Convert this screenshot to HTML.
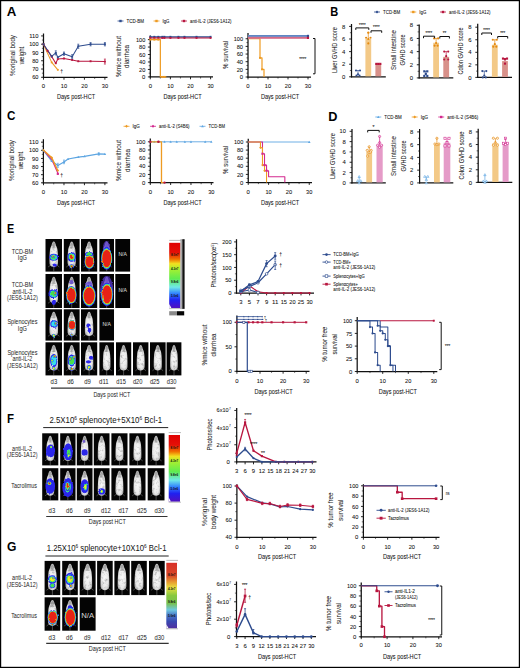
<!DOCTYPE html>
<html><head><meta charset="utf-8"><style>
html,body{margin:0;padding:0;background:#fff;}
svg{display:block;font-family:"Liberation Sans", sans-serif;}
</style></head><body>
<svg width="520" height="668" viewBox="0 0 520 668">
<defs>
<radialGradient id="mg" cx="0.5" cy="0.55" r="0.62">
 <stop offset="0" stop-color="#f8f8f8"/><stop offset="0.6" stop-color="#e8e8e8"/><stop offset="1" stop-color="#a0a0a0"/>
</radialGradient>
<filter id="bl" x="-30%" y="-30%" width="160%" height="160%"><feTurbulence type="fractalNoise" baseFrequency="0.35" numOctaves="1" seed="4" result="t"/><feDisplacementMap in="SourceGraphic" in2="t" scale="2.6" xChannelSelector="R" yChannelSelector="G" result="d"/><feGaussianBlur in="d" stdDeviation="0.35"/></filter>
<filter id="fur" x="0" y="0" width="100%" height="100%"><feTurbulence type="fractalNoise" baseFrequency="0.38" numOctaves="2" seed="9" result="t"/><feColorMatrix in="t" type="matrix" values="0 0 0 0 0.3  0 0 0 0 0.3  0 0 0 0 0.3  1.8 0 0 0 -0.9" result="c"/><feComposite in="c" in2="SourceAlpha" operator="in"/></filter>
<linearGradient id="cgE" x1="0" y1="0" x2="0" y2="1">
 <stop offset="0" stop-color="#e00000"/><stop offset="0.15" stop-color="#e41008"/>
 <stop offset="0.25" stop-color="#f07000"/><stop offset="0.32" stop-color="#f2e020"/>
 <stop offset="0.4" stop-color="#a8f030"/><stop offset="0.55" stop-color="#60ec50"/>
 <stop offset="0.68" stop-color="#70e8e8"/><stop offset="0.78" stop-color="#3080ff"/>
 <stop offset="0.88" stop-color="#2020f0"/><stop offset="1" stop-color="#5010c0"/>
</linearGradient>
<linearGradient id="cgG" x1="0" y1="0" x2="0" y2="1">
 <stop offset="0" stop-color="#d83028"/><stop offset="0.2" stop-color="#d84a28"/>
 <stop offset="0.3" stop-color="#e8a030"/><stop offset="0.38" stop-color="#e8e040"/>
 <stop offset="0.5" stop-color="#88c840"/><stop offset="0.62" stop-color="#78c050"/>
 <stop offset="0.72" stop-color="#70c8e0"/><stop offset="0.8" stop-color="#4878c8"/>
 <stop offset="0.9" stop-color="#3848b0"/><stop offset="1" stop-color="#5030a0"/>
</linearGradient>
</defs>
<rect x="0" y="0" width="520" height="668" fill="#fff"/>
<text x="6.70" y="15.75" font-size="12.4" text-anchor="start" fill="#000" font-weight="bold" textLength="9.6" lengthAdjust="spacingAndGlyphs">A</text>
<line x1="117.50" y1="21.00" x2="123.50" y2="21.00" stroke="#2E4C8E" stroke-width="0.8"/>
<rect x="119.30" y="19.80" width="2.40" height="2.40" fill="#2E4C8E"/>
<text x="126.50" y="22.63" font-size="4.6" text-anchor="start" fill="#111" stroke="#111" stroke-width="0.06" textLength="17.5" lengthAdjust="spacingAndGlyphs">TCD-BM</text>
<line x1="153.50" y1="21.00" x2="159.50" y2="21.00" stroke="#EE9B22" stroke-width="0.8"/>
<rect x="155.30" y="19.80" width="2.40" height="2.40" fill="#EE9B22"/>
<text x="162.50" y="22.63" font-size="4.6" text-anchor="start" fill="#111" stroke="#111" stroke-width="0.06" textLength="7" lengthAdjust="spacingAndGlyphs">IgG</text>
<line x1="181.00" y1="21.00" x2="187.00" y2="21.00" stroke="#B8163F" stroke-width="0.8"/>
<rect x="182.80" y="19.80" width="2.40" height="2.40" fill="#B8163F"/>
<text x="190.00" y="22.63" font-size="4.6" text-anchor="start" fill="#111" stroke="#111" stroke-width="0.06" textLength="41.5" lengthAdjust="spacingAndGlyphs">anti-IL-2 (JES6-1A12)</text>
<line x1="43.50" y1="33.50" x2="43.50" y2="77.92" stroke="#111" stroke-width="1.25"/>
<line x1="42.88" y1="77.30" x2="107.50" y2="77.30" stroke="#111" stroke-width="1.25"/>
<line x1="41.10" y1="77.30" x2="43.50" y2="77.30" stroke="#111" stroke-width="0.9"/>
<text x="38.50" y="79.47" font-size="6.1" text-anchor="end" fill="#111" stroke="#111" stroke-width="0.06" textLength="6.3" lengthAdjust="spacingAndGlyphs">60</text>
<line x1="41.10" y1="69.03" x2="43.50" y2="69.03" stroke="#111" stroke-width="0.9"/>
<text x="38.50" y="71.19" font-size="6.1" text-anchor="end" fill="#111" stroke="#111" stroke-width="0.06" textLength="6.3" lengthAdjust="spacingAndGlyphs">70</text>
<line x1="41.10" y1="60.75" x2="43.50" y2="60.75" stroke="#111" stroke-width="0.9"/>
<text x="38.50" y="62.92" font-size="6.1" text-anchor="end" fill="#111" stroke="#111" stroke-width="0.06" textLength="6.3" lengthAdjust="spacingAndGlyphs">80</text>
<line x1="41.10" y1="52.48" x2="43.50" y2="52.48" stroke="#111" stroke-width="0.9"/>
<text x="38.50" y="54.64" font-size="6.1" text-anchor="end" fill="#111" stroke="#111" stroke-width="0.06" textLength="6.3" lengthAdjust="spacingAndGlyphs">90</text>
<line x1="41.10" y1="44.20" x2="43.50" y2="44.20" stroke="#111" stroke-width="0.9"/>
<text x="38.50" y="46.37" font-size="6.1" text-anchor="end" fill="#111" stroke="#111" stroke-width="0.06" textLength="9.3" lengthAdjust="spacingAndGlyphs">100</text>
<line x1="41.10" y1="35.93" x2="43.50" y2="35.93" stroke="#111" stroke-width="0.9"/>
<text x="38.50" y="38.09" font-size="6.1" text-anchor="end" fill="#111" stroke="#111" stroke-width="0.06" textLength="9.3" lengthAdjust="spacingAndGlyphs">110</text>
<line x1="41.90" y1="73.16" x2="43.50" y2="73.16" stroke="#111" stroke-width="0.6"/>
<line x1="41.90" y1="64.89" x2="43.50" y2="64.89" stroke="#111" stroke-width="0.6"/>
<line x1="41.90" y1="56.61" x2="43.50" y2="56.61" stroke="#111" stroke-width="0.6"/>
<line x1="41.90" y1="48.34" x2="43.50" y2="48.34" stroke="#111" stroke-width="0.6"/>
<line x1="41.90" y1="40.06" x2="43.50" y2="40.06" stroke="#111" stroke-width="0.6"/>
<line x1="43.50" y1="77.30" x2="43.50" y2="79.70" stroke="#111" stroke-width="0.9"/>
<text x="43.50" y="88.17" font-size="6.1" text-anchor="middle" fill="#111" stroke="#111" stroke-width="0.06" textLength="3.3" lengthAdjust="spacingAndGlyphs">0</text>
<line x1="63.97" y1="77.30" x2="63.97" y2="79.70" stroke="#111" stroke-width="0.9"/>
<text x="63.97" y="88.17" font-size="6.1" text-anchor="middle" fill="#111" stroke="#111" stroke-width="0.06" textLength="6.3" lengthAdjust="spacingAndGlyphs">10</text>
<line x1="84.43" y1="77.30" x2="84.43" y2="79.70" stroke="#111" stroke-width="0.9"/>
<text x="84.43" y="88.17" font-size="6.1" text-anchor="middle" fill="#111" stroke="#111" stroke-width="0.06" textLength="6.3" lengthAdjust="spacingAndGlyphs">20</text>
<line x1="104.90" y1="77.30" x2="104.90" y2="79.70" stroke="#111" stroke-width="0.9"/>
<text x="104.90" y="88.17" font-size="6.1" text-anchor="middle" fill="#111" stroke="#111" stroke-width="0.06" textLength="6.3" lengthAdjust="spacingAndGlyphs">30</text>
<line x1="53.73" y1="77.30" x2="53.73" y2="78.90" stroke="#111" stroke-width="0.6"/>
<line x1="74.20" y1="77.30" x2="74.20" y2="78.90" stroke="#111" stroke-width="0.6"/>
<line x1="94.67" y1="77.30" x2="94.67" y2="78.90" stroke="#111" stroke-width="0.6"/>
<text x="-55.50" y="14.59" font-size="7.3" text-anchor="middle" fill="#1a1a1a" stroke="#1a1a1a" stroke-width="0.04" transform="rotate(-90)" textLength="41" lengthAdjust="spacingAndGlyphs">%original body</text>
<text x="-55.50" y="23.59" font-size="7.3" text-anchor="middle" fill="#1a1a1a" stroke="#1a1a1a" stroke-width="0.04" transform="rotate(-90)" textLength="17.5" lengthAdjust="spacingAndGlyphs">weight</text>
<text x="76.00" y="99.07" font-size="7.8" text-anchor="middle" fill="#111" stroke="#111" stroke-width="0.06" textLength="38.2" lengthAdjust="spacingAndGlyphs">Days post-HCT</text>
<polyline points="43.50,44.20 51.69,62.41 57.83,69.85" fill="none" stroke="#EE9B22" stroke-width="1.02" stroke-linejoin="round"/>
<polyline points="43.50,44.20 47.59,50.82 51.69,56.61 55.78,63.23 57.83,59.09 63.97,58.43 72.15,59.92 78.29,61.25 90.57,61.25 104.90,61.58" fill="none" stroke="#B8163F" stroke-width="1.02" stroke-linejoin="round"/>
<polyline points="43.50,44.20 51.69,56.28 55.78,52.89 57.83,57.19 63.97,53.72 72.15,56.70 78.29,46.27 90.57,44.20 104.90,44.20" fill="none" stroke="#2E4C8E" stroke-width="1.02" stroke-linejoin="round"/>
<rect x="42.60" y="43.30" width="1.80" height="1.80" fill="#EE9B22"/>
<rect x="50.79" y="61.51" width="1.80" height="1.80" fill="#EE9B22"/>
<rect x="56.93" y="68.95" width="1.80" height="1.80" fill="#EE9B22"/>
<rect x="42.54" y="43.24" width="1.92" height="1.92" fill="#B8163F"/>
<rect x="46.63" y="49.86" width="1.92" height="1.92" fill="#B8163F"/>
<rect x="50.73" y="55.65" width="1.92" height="1.92" fill="#B8163F"/>
<rect x="54.82" y="62.27" width="1.92" height="1.92" fill="#B8163F"/>
<rect x="56.87" y="58.13" width="1.92" height="1.92" fill="#B8163F"/>
<rect x="63.01" y="57.47" width="1.92" height="1.92" fill="#B8163F"/>
<rect x="71.19" y="58.96" width="1.92" height="1.92" fill="#B8163F"/>
<rect x="77.33" y="60.29" width="1.92" height="1.92" fill="#B8163F"/>
<rect x="89.61" y="60.29" width="1.92" height="1.92" fill="#B8163F"/>
<rect x="103.94" y="60.62" width="1.92" height="1.92" fill="#B8163F"/>
<rect x="42.54" y="43.24" width="1.92" height="1.92" fill="#2E4C8E"/>
<rect x="50.73" y="55.32" width="1.92" height="1.92" fill="#2E4C8E"/>
<rect x="54.82" y="51.93" width="1.92" height="1.92" fill="#2E4C8E"/>
<rect x="56.87" y="56.23" width="1.92" height="1.92" fill="#2E4C8E"/>
<rect x="63.01" y="52.76" width="1.92" height="1.92" fill="#2E4C8E"/>
<rect x="71.19" y="55.74" width="1.92" height="1.92" fill="#2E4C8E"/>
<rect x="77.33" y="45.31" width="1.92" height="1.92" fill="#2E4C8E"/>
<rect x="89.61" y="43.24" width="1.92" height="1.92" fill="#2E4C8E"/>
<rect x="103.94" y="43.24" width="1.92" height="1.92" fill="#2E4C8E"/>
<line x1="55.78" y1="50.82" x2="55.78" y2="54.96" stroke="#2E4C8E" stroke-width="0.7"/>
<line x1="54.78" y1="50.82" x2="56.78" y2="50.82" stroke="#2E4C8E" stroke-width="0.7"/>
<line x1="54.78" y1="54.96" x2="56.78" y2="54.96" stroke="#2E4C8E" stroke-width="0.7"/>
<line x1="63.97" y1="52.06" x2="63.97" y2="55.37" stroke="#2E4C8E" stroke-width="0.7"/>
<line x1="62.97" y1="52.06" x2="64.97" y2="52.06" stroke="#2E4C8E" stroke-width="0.7"/>
<line x1="62.97" y1="55.37" x2="64.97" y2="55.37" stroke="#2E4C8E" stroke-width="0.7"/>
<line x1="72.15" y1="54.63" x2="72.15" y2="58.76" stroke="#2E4C8E" stroke-width="0.7"/>
<line x1="71.15" y1="54.63" x2="73.15" y2="54.63" stroke="#2E4C8E" stroke-width="0.7"/>
<line x1="71.15" y1="58.76" x2="73.15" y2="58.76" stroke="#2E4C8E" stroke-width="0.7"/>
<line x1="78.29" y1="44.20" x2="78.29" y2="48.34" stroke="#2E4C8E" stroke-width="0.7"/>
<line x1="77.29" y1="44.20" x2="79.29" y2="44.20" stroke="#2E4C8E" stroke-width="0.7"/>
<line x1="77.29" y1="48.34" x2="79.29" y2="48.34" stroke="#2E4C8E" stroke-width="0.7"/>
<line x1="90.57" y1="42.55" x2="90.57" y2="45.86" stroke="#2E4C8E" stroke-width="0.7"/>
<line x1="89.57" y1="42.55" x2="91.57" y2="42.55" stroke="#2E4C8E" stroke-width="0.7"/>
<line x1="89.57" y1="45.86" x2="91.57" y2="45.86" stroke="#2E4C8E" stroke-width="0.7"/>
<line x1="104.90" y1="42.55" x2="104.90" y2="45.86" stroke="#2E4C8E" stroke-width="0.7"/>
<line x1="103.90" y1="42.55" x2="105.90" y2="42.55" stroke="#2E4C8E" stroke-width="0.7"/>
<line x1="103.90" y1="45.86" x2="105.90" y2="45.86" stroke="#2E4C8E" stroke-width="0.7"/>
<line x1="104.90" y1="59.09" x2="104.90" y2="64.06" stroke="#B8163F" stroke-width="0.7"/>
<line x1="103.90" y1="59.09" x2="105.90" y2="59.09" stroke="#B8163F" stroke-width="0.7"/>
<line x1="103.90" y1="64.06" x2="105.90" y2="64.06" stroke="#B8163F" stroke-width="0.7"/>
<text x="61.60" y="73.28" font-size="5" text-anchor="middle" fill="#111" stroke="#111" stroke-width="0.06">†</text>
<line x1="150.30" y1="35.50" x2="150.30" y2="77.53" stroke="#111" stroke-width="1.25"/>
<line x1="149.68" y1="76.90" x2="213.00" y2="76.90" stroke="#111" stroke-width="1.25"/>
<line x1="147.90" y1="76.90" x2="150.30" y2="76.90" stroke="#111" stroke-width="0.9"/>
<text x="145.30" y="79.07" font-size="6.1" text-anchor="end" fill="#111" stroke="#111" stroke-width="0.06" textLength="3.3" lengthAdjust="spacingAndGlyphs">0</text>
<line x1="147.90" y1="69.44" x2="150.30" y2="69.44" stroke="#111" stroke-width="0.9"/>
<text x="145.30" y="71.61" font-size="6.1" text-anchor="end" fill="#111" stroke="#111" stroke-width="0.06" textLength="6.3" lengthAdjust="spacingAndGlyphs">20</text>
<line x1="147.90" y1="61.98" x2="150.30" y2="61.98" stroke="#111" stroke-width="0.9"/>
<text x="145.30" y="64.15" font-size="6.1" text-anchor="end" fill="#111" stroke="#111" stroke-width="0.06" textLength="6.3" lengthAdjust="spacingAndGlyphs">40</text>
<line x1="147.90" y1="54.52" x2="150.30" y2="54.52" stroke="#111" stroke-width="0.9"/>
<text x="145.30" y="56.69" font-size="6.1" text-anchor="end" fill="#111" stroke="#111" stroke-width="0.06" textLength="6.3" lengthAdjust="spacingAndGlyphs">60</text>
<line x1="147.90" y1="47.06" x2="150.30" y2="47.06" stroke="#111" stroke-width="0.9"/>
<text x="145.30" y="49.23" font-size="6.1" text-anchor="end" fill="#111" stroke="#111" stroke-width="0.06" textLength="6.3" lengthAdjust="spacingAndGlyphs">80</text>
<line x1="147.90" y1="39.60" x2="150.30" y2="39.60" stroke="#111" stroke-width="0.9"/>
<text x="145.30" y="41.77" font-size="6.1" text-anchor="end" fill="#111" stroke="#111" stroke-width="0.06" textLength="9.3" lengthAdjust="spacingAndGlyphs">100</text>
<line x1="148.70" y1="73.17" x2="150.30" y2="73.17" stroke="#111" stroke-width="0.6"/>
<line x1="148.70" y1="65.71" x2="150.30" y2="65.71" stroke="#111" stroke-width="0.6"/>
<line x1="148.70" y1="58.25" x2="150.30" y2="58.25" stroke="#111" stroke-width="0.6"/>
<line x1="148.70" y1="50.79" x2="150.30" y2="50.79" stroke="#111" stroke-width="0.6"/>
<line x1="148.70" y1="43.33" x2="150.30" y2="43.33" stroke="#111" stroke-width="0.6"/>
<line x1="150.30" y1="76.90" x2="150.30" y2="79.30" stroke="#111" stroke-width="0.9"/>
<text x="150.30" y="88.17" font-size="6.1" text-anchor="middle" fill="#111" stroke="#111" stroke-width="0.06" textLength="3.3" lengthAdjust="spacingAndGlyphs">0</text>
<line x1="170.40" y1="76.90" x2="170.40" y2="79.30" stroke="#111" stroke-width="0.9"/>
<text x="170.40" y="88.17" font-size="6.1" text-anchor="middle" fill="#111" stroke="#111" stroke-width="0.06" textLength="6.3" lengthAdjust="spacingAndGlyphs">10</text>
<line x1="190.50" y1="76.90" x2="190.50" y2="79.30" stroke="#111" stroke-width="0.9"/>
<text x="190.50" y="88.17" font-size="6.1" text-anchor="middle" fill="#111" stroke="#111" stroke-width="0.06" textLength="6.3" lengthAdjust="spacingAndGlyphs">20</text>
<line x1="210.60" y1="76.90" x2="210.60" y2="79.30" stroke="#111" stroke-width="0.9"/>
<text x="210.60" y="88.17" font-size="6.1" text-anchor="middle" fill="#111" stroke="#111" stroke-width="0.06" textLength="6.3" lengthAdjust="spacingAndGlyphs">30</text>
<line x1="160.35" y1="76.90" x2="160.35" y2="78.50" stroke="#111" stroke-width="0.6"/>
<line x1="180.45" y1="76.90" x2="180.45" y2="78.50" stroke="#111" stroke-width="0.6"/>
<line x1="200.55" y1="76.90" x2="200.55" y2="78.50" stroke="#111" stroke-width="0.6"/>
<text x="-56.50" y="121.09" font-size="7.3" text-anchor="middle" fill="#1a1a1a" stroke="#1a1a1a" stroke-width="0.04" transform="rotate(-90)" textLength="41" lengthAdjust="spacingAndGlyphs">%mice without</text>
<text x="-56.50" y="129.39" font-size="7.3" text-anchor="middle" fill="#1a1a1a" stroke="#1a1a1a" stroke-width="0.04" transform="rotate(-90)" textLength="23" lengthAdjust="spacingAndGlyphs">diarrhea</text>
<text x="182.50" y="99.07" font-size="7.8" text-anchor="middle" fill="#111" stroke="#111" stroke-width="0.06" textLength="38.2" lengthAdjust="spacingAndGlyphs">Days post-HCT</text>
<polyline points="150.30,39.60 160.35,39.60 160.35,76.90 166.38,76.90" fill="none" stroke="#EE9B22" stroke-width="1.2" stroke-linejoin="round"/>
<line x1="150.30" y1="37.90" x2="210.60" y2="37.90" stroke="#B8163F" stroke-width="1.1"/>
<line x1="150.30" y1="36.80" x2="210.60" y2="36.80" stroke="#2E4C8E" stroke-width="1.1"/>
<rect x="149.34" y="35.84" width="1.92" height="1.92" fill="#2E4C8E"/>
<rect x="149.34" y="36.94" width="1.92" height="1.92" fill="#B8163F"/>
<rect x="153.36" y="35.84" width="1.92" height="1.92" fill="#2E4C8E"/>
<rect x="153.36" y="36.94" width="1.92" height="1.92" fill="#B8163F"/>
<rect x="157.38" y="35.84" width="1.92" height="1.92" fill="#2E4C8E"/>
<rect x="157.38" y="36.94" width="1.92" height="1.92" fill="#B8163F"/>
<rect x="161.40" y="35.84" width="1.92" height="1.92" fill="#2E4C8E"/>
<rect x="161.40" y="36.94" width="1.92" height="1.92" fill="#B8163F"/>
<rect x="163.41" y="35.84" width="1.92" height="1.92" fill="#2E4C8E"/>
<rect x="163.41" y="36.94" width="1.92" height="1.92" fill="#B8163F"/>
<rect x="169.44" y="35.84" width="1.92" height="1.92" fill="#2E4C8E"/>
<rect x="169.44" y="36.94" width="1.92" height="1.92" fill="#B8163F"/>
<rect x="177.48" y="35.84" width="1.92" height="1.92" fill="#2E4C8E"/>
<rect x="177.48" y="36.94" width="1.92" height="1.92" fill="#B8163F"/>
<rect x="183.51" y="35.84" width="1.92" height="1.92" fill="#2E4C8E"/>
<rect x="183.51" y="36.94" width="1.92" height="1.92" fill="#B8163F"/>
<rect x="195.57" y="35.84" width="1.92" height="1.92" fill="#2E4C8E"/>
<rect x="195.57" y="36.94" width="1.92" height="1.92" fill="#B8163F"/>
<rect x="209.64" y="35.84" width="1.92" height="1.92" fill="#2E4C8E"/>
<rect x="209.64" y="36.94" width="1.92" height="1.92" fill="#B8163F"/>
<rect x="149.34" y="38.64" width="1.92" height="1.92" fill="#EE9B22"/>
<rect x="153.36" y="38.64" width="1.92" height="1.92" fill="#EE9B22"/>
<rect x="157.38" y="38.64" width="1.92" height="1.92" fill="#EE9B22"/>
<rect x="161.40" y="75.94" width="1.92" height="1.92" fill="#EE9B22"/>
<rect x="163.41" y="75.94" width="1.92" height="1.92" fill="#EE9B22"/>
<line x1="248.00" y1="33.00" x2="248.00" y2="77.62" stroke="#111" stroke-width="1.25"/>
<line x1="247.38" y1="77.00" x2="311.00" y2="77.00" stroke="#111" stroke-width="1.25"/>
<line x1="245.60" y1="77.00" x2="248.00" y2="77.00" stroke="#111" stroke-width="0.9"/>
<text x="243.00" y="79.17" font-size="6.1" text-anchor="end" fill="#111" stroke="#111" stroke-width="0.06" textLength="3.3" lengthAdjust="spacingAndGlyphs">0</text>
<line x1="245.60" y1="69.35" x2="248.00" y2="69.35" stroke="#111" stroke-width="0.9"/>
<text x="243.00" y="71.52" font-size="6.1" text-anchor="end" fill="#111" stroke="#111" stroke-width="0.06" textLength="6.3" lengthAdjust="spacingAndGlyphs">20</text>
<line x1="245.60" y1="61.70" x2="248.00" y2="61.70" stroke="#111" stroke-width="0.9"/>
<text x="243.00" y="63.87" font-size="6.1" text-anchor="end" fill="#111" stroke="#111" stroke-width="0.06" textLength="6.3" lengthAdjust="spacingAndGlyphs">40</text>
<line x1="245.60" y1="54.05" x2="248.00" y2="54.05" stroke="#111" stroke-width="0.9"/>
<text x="243.00" y="56.22" font-size="6.1" text-anchor="end" fill="#111" stroke="#111" stroke-width="0.06" textLength="6.3" lengthAdjust="spacingAndGlyphs">60</text>
<line x1="245.60" y1="46.40" x2="248.00" y2="46.40" stroke="#111" stroke-width="0.9"/>
<text x="243.00" y="48.57" font-size="6.1" text-anchor="end" fill="#111" stroke="#111" stroke-width="0.06" textLength="6.3" lengthAdjust="spacingAndGlyphs">80</text>
<line x1="245.60" y1="38.75" x2="248.00" y2="38.75" stroke="#111" stroke-width="0.9"/>
<text x="243.00" y="40.92" font-size="6.1" text-anchor="end" fill="#111" stroke="#111" stroke-width="0.06" textLength="9.3" lengthAdjust="spacingAndGlyphs">100</text>
<line x1="246.40" y1="73.17" x2="248.00" y2="73.17" stroke="#111" stroke-width="0.6"/>
<line x1="246.40" y1="65.53" x2="248.00" y2="65.53" stroke="#111" stroke-width="0.6"/>
<line x1="246.40" y1="57.88" x2="248.00" y2="57.88" stroke="#111" stroke-width="0.6"/>
<line x1="246.40" y1="50.23" x2="248.00" y2="50.23" stroke="#111" stroke-width="0.6"/>
<line x1="246.40" y1="42.58" x2="248.00" y2="42.58" stroke="#111" stroke-width="0.6"/>
<line x1="248.00" y1="77.00" x2="248.00" y2="79.40" stroke="#111" stroke-width="0.9"/>
<text x="248.00" y="88.17" font-size="6.1" text-anchor="middle" fill="#111" stroke="#111" stroke-width="0.06" textLength="3.3" lengthAdjust="spacingAndGlyphs">0</text>
<line x1="268.00" y1="77.00" x2="268.00" y2="79.40" stroke="#111" stroke-width="0.9"/>
<text x="268.00" y="88.17" font-size="6.1" text-anchor="middle" fill="#111" stroke="#111" stroke-width="0.06" textLength="6.3" lengthAdjust="spacingAndGlyphs">10</text>
<line x1="288.00" y1="77.00" x2="288.00" y2="79.40" stroke="#111" stroke-width="0.9"/>
<text x="288.00" y="88.17" font-size="6.1" text-anchor="middle" fill="#111" stroke="#111" stroke-width="0.06" textLength="6.3" lengthAdjust="spacingAndGlyphs">20</text>
<line x1="308.00" y1="77.00" x2="308.00" y2="79.40" stroke="#111" stroke-width="0.9"/>
<text x="308.00" y="88.17" font-size="6.1" text-anchor="middle" fill="#111" stroke="#111" stroke-width="0.06" textLength="6.3" lengthAdjust="spacingAndGlyphs">30</text>
<line x1="258.00" y1="77.00" x2="258.00" y2="78.60" stroke="#111" stroke-width="0.6"/>
<line x1="278.00" y1="77.00" x2="278.00" y2="78.60" stroke="#111" stroke-width="0.6"/>
<line x1="298.00" y1="77.00" x2="298.00" y2="78.60" stroke="#111" stroke-width="0.6"/>
<text x="-55.00" y="227.59" font-size="7.3" text-anchor="middle" fill="#1a1a1a" stroke="#1a1a1a" stroke-width="0.04" transform="rotate(-90)" textLength="28" lengthAdjust="spacingAndGlyphs">% survival</text>
<text x="280.00" y="99.07" font-size="7.8" text-anchor="middle" fill="#111" stroke="#111" stroke-width="0.06" textLength="38.2" lengthAdjust="spacingAndGlyphs">Days post-HCT</text>
<polyline points="248.00,38.75 260.00,38.75 260.00,57.88 262.00,57.88 262.00,69.35 264.00,69.35 264.00,77.00" fill="none" stroke="#EE9B22" stroke-width="1.2" stroke-linejoin="round"/>
<rect x="248.00" y="35.0" width="60.00" height="1.9" fill="#5f86c4"/>
<rect x="248.00" y="36.9" width="60.00" height="1.9" fill="#d46a88"/>
<rect x="306.92" y="34.82" width="2.16" height="2.16" fill="#2E4C8E"/>
<rect x="306.92" y="36.82" width="2.16" height="2.16" fill="#B8163F"/>
<rect x="259.04" y="56.91" width="1.92" height="1.92" fill="#EE9B22"/>
<rect x="261.04" y="68.39" width="1.92" height="1.92" fill="#EE9B22"/>
<polyline points="313.00,38.50 315.00,38.50 315.00,73.80 313.00,73.80" fill="none" stroke="#111" stroke-width="1.0"/>
<text x="302.80" y="61.45" font-size="5.5" text-anchor="middle" fill="#111" stroke="#111" stroke-width="0.06" textLength="7" lengthAdjust="spacingAndGlyphs">****</text>
<text x="330.20" y="15.75" font-size="12.4" text-anchor="start" fill="#000" font-weight="bold" textLength="8.0" lengthAdjust="spacingAndGlyphs">B</text>
<line x1="374.00" y1="12.00" x2="380.00" y2="12.00" stroke="#2E4C8E" stroke-width="0.8"/>
<polygon points="377.00,10.56 378.44,12.00 377.00,13.44 375.56,12.00" fill="#2E4C8E"/>
<text x="383.00" y="13.63" font-size="4.6" text-anchor="start" fill="#111" stroke="#111" stroke-width="0.06" textLength="17.3" lengthAdjust="spacingAndGlyphs">TCD-BM</text>
<line x1="410.30" y1="12.00" x2="416.30" y2="12.00" stroke="#EE9B22" stroke-width="0.8"/>
<rect x="412.10" y="10.80" width="2.40" height="2.40" fill="#EE9B22"/>
<text x="419.30" y="13.63" font-size="4.6" text-anchor="start" fill="#111" stroke="#111" stroke-width="0.06" textLength="7" lengthAdjust="spacingAndGlyphs">IgG</text>
<line x1="440.00" y1="12.00" x2="446.00" y2="12.00" stroke="#B8163F" stroke-width="0.8"/>
<rect x="441.80" y="10.80" width="2.40" height="2.40" fill="#B8163F"/>
<text x="449.00" y="13.63" font-size="4.6" text-anchor="start" fill="#111" stroke="#111" stroke-width="0.06" textLength="41.5" lengthAdjust="spacingAndGlyphs">anti-IL-2 (JES6-1A12)</text>
<line x1="351.50" y1="24.00" x2="351.50" y2="77.42" stroke="#111" stroke-width="1.25"/>
<line x1="350.88" y1="76.80" x2="385.80" y2="76.80" stroke="#111" stroke-width="1.25"/>
<line x1="349.10" y1="76.80" x2="351.50" y2="76.80" stroke="#111" stroke-width="0.9"/>
<text x="345.30" y="78.97" font-size="6.1" text-anchor="end" fill="#111" stroke="#111" stroke-width="0.06" textLength="3.3" lengthAdjust="spacingAndGlyphs">0</text>
<line x1="349.10" y1="64.20" x2="351.50" y2="64.20" stroke="#111" stroke-width="0.9"/>
<text x="345.30" y="66.37" font-size="6.1" text-anchor="end" fill="#111" stroke="#111" stroke-width="0.06" textLength="3.3" lengthAdjust="spacingAndGlyphs">2</text>
<line x1="349.10" y1="51.60" x2="351.50" y2="51.60" stroke="#111" stroke-width="0.9"/>
<text x="345.30" y="53.77" font-size="6.1" text-anchor="end" fill="#111" stroke="#111" stroke-width="0.06" textLength="3.3" lengthAdjust="spacingAndGlyphs">4</text>
<line x1="349.10" y1="39.00" x2="351.50" y2="39.00" stroke="#111" stroke-width="0.9"/>
<text x="345.30" y="41.17" font-size="6.1" text-anchor="end" fill="#111" stroke="#111" stroke-width="0.06" textLength="3.3" lengthAdjust="spacingAndGlyphs">6</text>
<line x1="349.10" y1="26.40" x2="351.50" y2="26.40" stroke="#111" stroke-width="0.9"/>
<text x="345.30" y="28.57" font-size="6.1" text-anchor="end" fill="#111" stroke="#111" stroke-width="0.06" textLength="3.3" lengthAdjust="spacingAndGlyphs">8</text>
<line x1="349.90" y1="70.50" x2="351.50" y2="70.50" stroke="#111" stroke-width="0.6"/>
<line x1="349.90" y1="57.90" x2="351.50" y2="57.90" stroke="#111" stroke-width="0.6"/>
<line x1="349.90" y1="45.30" x2="351.50" y2="45.30" stroke="#111" stroke-width="0.6"/>
<line x1="349.90" y1="32.70" x2="351.50" y2="32.70" stroke="#111" stroke-width="0.6"/>
<rect x="355.10" y="74.28" width="5.80" height="2.02" fill="None"/>
<circle cx="356.00" cy="70.50" r="1.08" fill="#2E4C8E"/>
<circle cx="360.00" cy="70.50" r="1.08" fill="#2E4C8E"/>
<circle cx="356.50" cy="75.54" r="1.08" fill="#2E4C8E"/>
<circle cx="359.50" cy="75.54" r="1.08" fill="#2E4C8E"/>
<circle cx="358.00" cy="74.28" r="1.08" fill="#2E4C8E"/>
<line x1="358.00" y1="74.28" x2="358.00" y2="70.50" stroke="#2E4C8E" stroke-width="0.7"/>
<line x1="356.80" y1="70.50" x2="359.20" y2="70.50" stroke="#2E4C8E" stroke-width="0.7"/>
<rect x="365.40" y="39.00" width="5.80" height="37.30" fill="#F3C987"/>
<circle cx="368.30" cy="32.70" r="1.08" fill="#E58A10"/>
<circle cx="366.10" cy="37.74" r="1.08" fill="#E58A10"/>
<circle cx="370.50" cy="37.74" r="1.08" fill="#E58A10"/>
<circle cx="368.30" cy="43.41" r="1.08" fill="#E58A10"/>
<circle cx="368.30" cy="39.00" r="1.08" fill="#E58A10"/>
<line x1="368.30" y1="39.00" x2="368.30" y2="32.70" stroke="#E58A10" stroke-width="0.7"/>
<line x1="367.10" y1="32.70" x2="369.50" y2="32.70" stroke="#E58A10" stroke-width="0.7"/>
<rect x="375.40" y="63.57" width="5.80" height="12.73" fill="#D8918A"/>
<rect x="375.22" y="62.80" width="2.16" height="2.16" fill="#B8163F"/>
<rect x="377.22" y="62.80" width="2.16" height="2.16" fill="#B8163F"/>
<rect x="379.22" y="62.80" width="2.16" height="2.16" fill="#B8163F"/>
<line x1="378.30" y1="63.57" x2="378.30" y2="63.88" stroke="#B8163F" stroke-width="0.7"/>
<line x1="377.10" y1="63.88" x2="379.50" y2="63.88" stroke="#B8163F" stroke-width="0.7"/>
<text x="-50.00" y="337.19" font-size="7.3" text-anchor="middle" fill="#1a1a1a" stroke="#1a1a1a" stroke-width="0.04" transform="rotate(-90)" textLength="46" lengthAdjust="spacingAndGlyphs">Liver GVHD score</text>
<polyline points="355.80,29.90 355.80,27.90 368.80,27.90 368.80,29.90" fill="none" stroke="#111" stroke-width="1.0"/>
<text x="362.30" y="26.57" font-size="5" text-anchor="middle" fill="#111" stroke="#111" stroke-width="0.06" textLength="6.5" lengthAdjust="spacingAndGlyphs">****</text>
<polyline points="371.00,32.80 371.00,30.80 381.70,30.80 381.70,32.80" fill="none" stroke="#111" stroke-width="1.0"/>
<text x="376.30" y="29.47" font-size="5" text-anchor="middle" fill="#111" stroke="#111" stroke-width="0.06" textLength="6.5" lengthAdjust="spacingAndGlyphs">****</text>
<line x1="419.20" y1="24.60" x2="419.20" y2="78.53" stroke="#111" stroke-width="1.25"/>
<line x1="418.57" y1="77.90" x2="453.30" y2="77.90" stroke="#111" stroke-width="1.25"/>
<line x1="416.80" y1="77.90" x2="419.20" y2="77.90" stroke="#111" stroke-width="0.9"/>
<text x="413.00" y="80.07" font-size="6.1" text-anchor="end" fill="#111" stroke="#111" stroke-width="0.06" textLength="3.3" lengthAdjust="spacingAndGlyphs">0</text>
<line x1="416.80" y1="64.75" x2="419.20" y2="64.75" stroke="#111" stroke-width="0.9"/>
<text x="413.00" y="66.92" font-size="6.1" text-anchor="end" fill="#111" stroke="#111" stroke-width="0.06" textLength="3.3" lengthAdjust="spacingAndGlyphs">2</text>
<line x1="416.80" y1="51.60" x2="419.20" y2="51.60" stroke="#111" stroke-width="0.9"/>
<text x="413.00" y="53.77" font-size="6.1" text-anchor="end" fill="#111" stroke="#111" stroke-width="0.06" textLength="3.3" lengthAdjust="spacingAndGlyphs">4</text>
<line x1="416.80" y1="38.45" x2="419.20" y2="38.45" stroke="#111" stroke-width="0.9"/>
<text x="413.00" y="40.62" font-size="6.1" text-anchor="end" fill="#111" stroke="#111" stroke-width="0.06" textLength="3.3" lengthAdjust="spacingAndGlyphs">6</text>
<line x1="416.80" y1="25.30" x2="419.20" y2="25.30" stroke="#111" stroke-width="0.9"/>
<text x="413.00" y="27.47" font-size="6.1" text-anchor="end" fill="#111" stroke="#111" stroke-width="0.06" textLength="3.3" lengthAdjust="spacingAndGlyphs">8</text>
<line x1="417.60" y1="71.33" x2="419.20" y2="71.33" stroke="#111" stroke-width="0.6"/>
<line x1="417.60" y1="58.18" x2="419.20" y2="58.18" stroke="#111" stroke-width="0.6"/>
<line x1="417.60" y1="45.03" x2="419.20" y2="45.03" stroke="#111" stroke-width="0.6"/>
<line x1="417.60" y1="31.88" x2="419.20" y2="31.88" stroke="#111" stroke-width="0.6"/>
<rect x="422.90" y="73.96" width="5.80" height="3.44" fill="None"/>
<rect x="423.22" y="70.25" width="2.16" height="2.16" fill="#2E4C8E"/>
<rect x="426.22" y="70.25" width="2.16" height="2.16" fill="#2E4C8E"/>
<rect x="423.22" y="74.85" width="2.16" height="2.16" fill="#2E4C8E"/>
<rect x="426.22" y="74.85" width="2.16" height="2.16" fill="#2E4C8E"/>
<rect x="424.72" y="72.88" width="2.16" height="2.16" fill="#2E4C8E"/>
<line x1="425.80" y1="73.96" x2="425.80" y2="71.33" stroke="#2E4C8E" stroke-width="0.7"/>
<line x1="424.60" y1="71.33" x2="427.00" y2="71.33" stroke="#2E4C8E" stroke-width="0.7"/>
<rect x="433.20" y="42.72" width="5.80" height="34.68" fill="#F3C987"/>
<circle cx="434.10" cy="38.45" r="1.08" fill="#E58A10"/>
<circle cx="438.10" cy="38.45" r="1.08" fill="#E58A10"/>
<circle cx="436.10" cy="43.05" r="1.08" fill="#E58A10"/>
<circle cx="434.60" cy="45.68" r="1.08" fill="#E58A10"/>
<circle cx="437.60" cy="45.68" r="1.08" fill="#E58A10"/>
<line x1="436.10" y1="42.72" x2="436.10" y2="38.45" stroke="#E58A10" stroke-width="0.7"/>
<line x1="434.90" y1="38.45" x2="437.30" y2="38.45" stroke="#E58A10" stroke-width="0.7"/>
<rect x="443.30" y="56.86" width="5.80" height="20.54" fill="#D8918A"/>
<circle cx="444.20" cy="51.60" r="1.08" fill="#B8163F"/>
<circle cx="448.20" cy="51.60" r="1.08" fill="#B8163F"/>
<circle cx="446.20" cy="56.20" r="1.08" fill="#B8163F"/>
<circle cx="444.20" cy="59.49" r="1.08" fill="#B8163F"/>
<circle cx="448.20" cy="59.49" r="1.08" fill="#B8163F"/>
<line x1="446.20" y1="56.86" x2="446.20" y2="51.60" stroke="#B8163F" stroke-width="0.7"/>
<line x1="445.00" y1="51.60" x2="447.40" y2="51.60" stroke="#B8163F" stroke-width="0.7"/>
<text x="-50.00" y="395.59" font-size="7.3" text-anchor="middle" fill="#1a1a1a" stroke="#1a1a1a" stroke-width="0.04" transform="rotate(-90)" textLength="40" lengthAdjust="spacingAndGlyphs">Small intestine</text>
<text x="-50.00" y="404.89" font-size="7.3" text-anchor="middle" fill="#1a1a1a" stroke="#1a1a1a" stroke-width="0.04" transform="rotate(-90)" textLength="31" lengthAdjust="spacingAndGlyphs">GVHD score</text>
<polyline points="423.50,38.20 423.50,36.20 434.60,36.20 434.60,38.20" fill="none" stroke="#111" stroke-width="1.0"/>
<text x="428.80" y="34.98" font-size="5" text-anchor="middle" fill="#111" stroke="#111" stroke-width="0.06" textLength="6.5" lengthAdjust="spacingAndGlyphs">****</text>
<polyline points="439.80,38.50 439.80,36.50 449.40,36.50 449.40,38.50" fill="none" stroke="#111" stroke-width="1.0"/>
<text x="444.60" y="35.27" font-size="5" text-anchor="middle" fill="#111" stroke="#111" stroke-width="0.06" textLength="3.5" lengthAdjust="spacingAndGlyphs">**</text>
<line x1="477.70" y1="23.80" x2="477.70" y2="78.03" stroke="#111" stroke-width="1.25"/>
<line x1="477.07" y1="77.40" x2="512.00" y2="77.40" stroke="#111" stroke-width="1.25"/>
<line x1="475.30" y1="77.40" x2="477.70" y2="77.40" stroke="#111" stroke-width="0.9"/>
<text x="471.50" y="79.57" font-size="6.1" text-anchor="end" fill="#111" stroke="#111" stroke-width="0.06" textLength="3.3" lengthAdjust="spacingAndGlyphs">0</text>
<line x1="475.30" y1="64.85" x2="477.70" y2="64.85" stroke="#111" stroke-width="0.9"/>
<text x="471.50" y="67.02" font-size="6.1" text-anchor="end" fill="#111" stroke="#111" stroke-width="0.06" textLength="3.3" lengthAdjust="spacingAndGlyphs">2</text>
<line x1="475.30" y1="52.30" x2="477.70" y2="52.30" stroke="#111" stroke-width="0.9"/>
<text x="471.50" y="54.47" font-size="6.1" text-anchor="end" fill="#111" stroke="#111" stroke-width="0.06" textLength="3.3" lengthAdjust="spacingAndGlyphs">4</text>
<line x1="475.30" y1="39.75" x2="477.70" y2="39.75" stroke="#111" stroke-width="0.9"/>
<text x="471.50" y="41.92" font-size="6.1" text-anchor="end" fill="#111" stroke="#111" stroke-width="0.06" textLength="3.3" lengthAdjust="spacingAndGlyphs">6</text>
<line x1="475.30" y1="27.20" x2="477.70" y2="27.20" stroke="#111" stroke-width="0.9"/>
<text x="471.50" y="29.37" font-size="6.1" text-anchor="end" fill="#111" stroke="#111" stroke-width="0.06" textLength="3.3" lengthAdjust="spacingAndGlyphs">8</text>
<line x1="476.10" y1="71.12" x2="477.70" y2="71.12" stroke="#111" stroke-width="0.6"/>
<line x1="476.10" y1="58.58" x2="477.70" y2="58.58" stroke="#111" stroke-width="0.6"/>
<line x1="476.10" y1="46.03" x2="477.70" y2="46.03" stroke="#111" stroke-width="0.6"/>
<line x1="476.10" y1="33.48" x2="477.70" y2="33.48" stroke="#111" stroke-width="0.6"/>
<rect x="481.40" y="75.52" width="5.80" height="1.38" fill="None"/>
<circle cx="482.30" cy="71.12" r="1.08" fill="#2E4C8E"/>
<circle cx="486.30" cy="71.12" r="1.08" fill="#2E4C8E"/>
<circle cx="484.30" cy="75.52" r="1.08" fill="#2E4C8E"/>
<circle cx="482.80" cy="77.40" r="1.08" fill="#2E4C8E"/>
<circle cx="485.80" cy="77.40" r="1.08" fill="#2E4C8E"/>
<line x1="484.30" y1="75.52" x2="484.30" y2="71.12" stroke="#2E4C8E" stroke-width="0.7"/>
<line x1="483.10" y1="71.12" x2="485.50" y2="71.12" stroke="#2E4C8E" stroke-width="0.7"/>
<rect x="491.90" y="44.77" width="5.80" height="32.13" fill="#F3C987"/>
<circle cx="492.80" cy="39.75" r="1.08" fill="#E58A10"/>
<circle cx="496.80" cy="39.75" r="1.08" fill="#E58A10"/>
<circle cx="494.80" cy="44.14" r="1.08" fill="#E58A10"/>
<circle cx="493.30" cy="46.65" r="1.08" fill="#E58A10"/>
<circle cx="496.30" cy="46.65" r="1.08" fill="#E58A10"/>
<line x1="494.80" y1="44.77" x2="494.80" y2="39.75" stroke="#E58A10" stroke-width="0.7"/>
<line x1="493.60" y1="39.75" x2="496.00" y2="39.75" stroke="#E58A10" stroke-width="0.7"/>
<rect x="502.10" y="61.09" width="5.80" height="15.82" fill="#D8918A"/>
<rect x="501.92" y="57.50" width="2.16" height="2.16" fill="#B8163F"/>
<rect x="505.92" y="57.50" width="2.16" height="2.16" fill="#B8163F"/>
<rect x="503.92" y="58.12" width="2.16" height="2.16" fill="#B8163F"/>
<rect x="503.92" y="62.52" width="2.16" height="2.16" fill="#B8163F"/>
<line x1="505.00" y1="61.09" x2="505.00" y2="58.58" stroke="#B8163F" stroke-width="0.7"/>
<line x1="503.80" y1="58.58" x2="506.20" y2="58.58" stroke="#B8163F" stroke-width="0.7"/>
<text x="-51.00" y="463.39" font-size="7.3" text-anchor="middle" fill="#1a1a1a" stroke="#1a1a1a" stroke-width="0.04" transform="rotate(-90)" textLength="47" lengthAdjust="spacingAndGlyphs">Colon GVHD score</text>
<polyline points="481.80,35.00 481.80,33.00 491.50,33.00 491.50,35.00" fill="none" stroke="#111" stroke-width="1.0"/>
<text x="486.60" y="31.77" font-size="5" text-anchor="middle" fill="#111" stroke="#111" stroke-width="0.06" textLength="6.5" lengthAdjust="spacingAndGlyphs">****</text>
<polyline points="497.70,38.50 497.70,36.50 507.70,36.50 507.70,38.50" fill="none" stroke="#111" stroke-width="1.0"/>
<text x="502.70" y="35.27" font-size="5" text-anchor="middle" fill="#111" stroke="#111" stroke-width="0.06" textLength="5" lengthAdjust="spacingAndGlyphs">***</text>
<text x="6.90" y="120.45" font-size="12.4" text-anchor="start" fill="#000" font-weight="bold" textLength="8.4" lengthAdjust="spacingAndGlyphs">C</text>
<line x1="123.50" y1="126.30" x2="129.50" y2="126.30" stroke="#EE9B22" stroke-width="0.8"/>
<polygon points="126.50,124.86 127.94,126.30 126.50,127.74 125.06,126.30" fill="#EE9B22"/>
<text x="132.50" y="127.93" font-size="4.6" text-anchor="start" fill="#111" stroke="#111" stroke-width="0.06" textLength="7.3" lengthAdjust="spacingAndGlyphs">IgG</text>
<line x1="150.00" y1="126.30" x2="156.00" y2="126.30" stroke="#D3288E" stroke-width="0.8"/>
<polygon points="153.00,124.86 154.44,126.30 153.00,127.74 151.56,126.30" fill="#D3288E"/>
<text x="159.00" y="127.93" font-size="4.6" text-anchor="start" fill="#111" stroke="#111" stroke-width="0.06" textLength="30.5" lengthAdjust="spacingAndGlyphs">anti-IL-2 (S4B6)</text>
<line x1="199.50" y1="126.30" x2="205.50" y2="126.30" stroke="#5EA6E2" stroke-width="0.8"/>
<polygon points="202.50,124.98 203.82,127.26 201.18,127.26" fill="#5EA6E2"/>
<text x="208.50" y="127.93" font-size="4.6" text-anchor="start" fill="#111" stroke="#111" stroke-width="0.06" textLength="16.5" lengthAdjust="spacingAndGlyphs">TCD-BM</text>
<line x1="43.40" y1="139.20" x2="43.40" y2="183.43" stroke="#111" stroke-width="1.25"/>
<line x1="42.77" y1="182.80" x2="107.50" y2="182.80" stroke="#111" stroke-width="1.25"/>
<line x1="41.00" y1="182.80" x2="43.40" y2="182.80" stroke="#111" stroke-width="0.9"/>
<text x="38.40" y="184.97" font-size="6.1" text-anchor="end" fill="#111" stroke="#111" stroke-width="0.06" textLength="6.3" lengthAdjust="spacingAndGlyphs">60</text>
<line x1="41.00" y1="174.68" x2="43.40" y2="174.68" stroke="#111" stroke-width="0.9"/>
<text x="38.40" y="176.84" font-size="6.1" text-anchor="end" fill="#111" stroke="#111" stroke-width="0.06" textLength="6.3" lengthAdjust="spacingAndGlyphs">70</text>
<line x1="41.00" y1="166.55" x2="43.40" y2="166.55" stroke="#111" stroke-width="0.9"/>
<text x="38.40" y="168.72" font-size="6.1" text-anchor="end" fill="#111" stroke="#111" stroke-width="0.06" textLength="6.3" lengthAdjust="spacingAndGlyphs">80</text>
<line x1="41.00" y1="158.43" x2="43.40" y2="158.43" stroke="#111" stroke-width="0.9"/>
<text x="38.40" y="160.59" font-size="6.1" text-anchor="end" fill="#111" stroke="#111" stroke-width="0.06" textLength="6.3" lengthAdjust="spacingAndGlyphs">90</text>
<line x1="41.00" y1="150.30" x2="43.40" y2="150.30" stroke="#111" stroke-width="0.9"/>
<text x="38.40" y="152.47" font-size="6.1" text-anchor="end" fill="#111" stroke="#111" stroke-width="0.06" textLength="9.3" lengthAdjust="spacingAndGlyphs">100</text>
<line x1="41.00" y1="142.18" x2="43.40" y2="142.18" stroke="#111" stroke-width="0.9"/>
<text x="38.40" y="144.34" font-size="6.1" text-anchor="end" fill="#111" stroke="#111" stroke-width="0.06" textLength="9.3" lengthAdjust="spacingAndGlyphs">110</text>
<line x1="41.80" y1="178.74" x2="43.40" y2="178.74" stroke="#111" stroke-width="0.6"/>
<line x1="41.80" y1="170.61" x2="43.40" y2="170.61" stroke="#111" stroke-width="0.6"/>
<line x1="41.80" y1="162.49" x2="43.40" y2="162.49" stroke="#111" stroke-width="0.6"/>
<line x1="41.80" y1="154.36" x2="43.40" y2="154.36" stroke="#111" stroke-width="0.6"/>
<line x1="41.80" y1="146.24" x2="43.40" y2="146.24" stroke="#111" stroke-width="0.6"/>
<line x1="43.50" y1="182.80" x2="43.50" y2="185.20" stroke="#111" stroke-width="0.9"/>
<text x="43.50" y="193.67" font-size="6.1" text-anchor="middle" fill="#111" stroke="#111" stroke-width="0.06" textLength="3.3" lengthAdjust="spacingAndGlyphs">0</text>
<line x1="63.97" y1="182.80" x2="63.97" y2="185.20" stroke="#111" stroke-width="0.9"/>
<text x="63.97" y="193.67" font-size="6.1" text-anchor="middle" fill="#111" stroke="#111" stroke-width="0.06" textLength="6.3" lengthAdjust="spacingAndGlyphs">10</text>
<line x1="84.43" y1="182.80" x2="84.43" y2="185.20" stroke="#111" stroke-width="0.9"/>
<text x="84.43" y="193.67" font-size="6.1" text-anchor="middle" fill="#111" stroke="#111" stroke-width="0.06" textLength="6.3" lengthAdjust="spacingAndGlyphs">20</text>
<line x1="104.90" y1="182.80" x2="104.90" y2="185.20" stroke="#111" stroke-width="0.9"/>
<text x="104.90" y="193.67" font-size="6.1" text-anchor="middle" fill="#111" stroke="#111" stroke-width="0.06" textLength="6.3" lengthAdjust="spacingAndGlyphs">30</text>
<line x1="53.73" y1="182.80" x2="53.73" y2="184.40" stroke="#111" stroke-width="0.6"/>
<line x1="74.20" y1="182.80" x2="74.20" y2="184.40" stroke="#111" stroke-width="0.6"/>
<line x1="94.67" y1="182.80" x2="94.67" y2="184.40" stroke="#111" stroke-width="0.6"/>
<text x="-160.50" y="13.69" font-size="7.3" text-anchor="middle" fill="#1a1a1a" stroke="#1a1a1a" stroke-width="0.04" transform="rotate(-90)" textLength="41" lengthAdjust="spacingAndGlyphs">%original body</text>
<text x="-160.50" y="23.19" font-size="7.3" text-anchor="middle" fill="#1a1a1a" stroke="#1a1a1a" stroke-width="0.04" transform="rotate(-90)" textLength="17.5" lengthAdjust="spacingAndGlyphs">weight</text>
<text x="76.00" y="205.47" font-size="7.8" text-anchor="middle" fill="#111" stroke="#111" stroke-width="0.06" textLength="38.2" lengthAdjust="spacingAndGlyphs">Days post-HCT</text>
<polyline points="43.50,150.30 51.69,161.03 57.83,165.41 63.97,161.92 68.06,158.99 78.29,157.04 84.43,156.39 98.76,153.79 104.90,154.12" fill="none" stroke="#5EA6E2" stroke-width="1.2" stroke-linejoin="round"/>
<polyline points="43.50,150.30 51.69,159.24 57.83,173.05" fill="none" stroke="#D3288E" stroke-width="1.2" stroke-linejoin="round"/>
<polyline points="43.50,150.30 51.69,157.61 57.83,170.61" fill="none" stroke="#EE9B22" stroke-width="1.32" stroke-linejoin="round"/>
<polygon points="43.50,148.98 44.82,151.26 42.18,151.26" fill="#5EA6E2"/>
<polygon points="51.69,159.71 53.01,161.99 50.37,161.99" fill="#5EA6E2"/>
<polygon points="57.83,164.09 59.15,166.37 56.51,166.37" fill="#5EA6E2"/>
<polygon points="63.97,160.60 65.29,162.88 62.65,162.88" fill="#5EA6E2"/>
<polygon points="68.06,157.67 69.38,159.95 66.74,159.95" fill="#5EA6E2"/>
<polygon points="78.29,155.72 79.61,158.00 76.97,158.00" fill="#5EA6E2"/>
<polygon points="84.43,155.07 85.75,157.35 83.11,157.35" fill="#5EA6E2"/>
<polygon points="98.76,152.47 100.08,154.75 97.44,154.75" fill="#5EA6E2"/>
<polygon points="104.90,152.80 106.22,155.08 103.58,155.08" fill="#5EA6E2"/>
<polygon points="43.50,149.00 44.80,150.30 43.50,151.60 42.20,150.30" fill="#EE9B22"/>
<polygon points="51.69,156.32 52.98,157.61 51.69,158.91 50.39,157.61" fill="#EE9B22"/>
<polygon points="57.83,169.32 59.12,170.61 57.83,171.91 56.53,170.61" fill="#EE9B22"/>
<rect x="56.75" y="172.78" width="2.16" height="2.16" fill="#D3288E"/>
<line x1="57.83" y1="163.30" x2="57.83" y2="167.36" stroke="#5EA6E2" stroke-width="0.7"/>
<line x1="56.83" y1="163.30" x2="58.83" y2="163.30" stroke="#5EA6E2" stroke-width="0.7"/>
<line x1="56.83" y1="167.36" x2="58.83" y2="167.36" stroke="#5EA6E2" stroke-width="0.7"/>
<line x1="63.97" y1="160.05" x2="63.97" y2="163.71" stroke="#5EA6E2" stroke-width="0.7"/>
<line x1="62.97" y1="160.05" x2="64.97" y2="160.05" stroke="#5EA6E2" stroke-width="0.7"/>
<line x1="62.97" y1="163.71" x2="64.97" y2="163.71" stroke="#5EA6E2" stroke-width="0.7"/>
<line x1="98.76" y1="152.74" x2="98.76" y2="155.18" stroke="#5EA6E2" stroke-width="0.7"/>
<line x1="97.76" y1="152.74" x2="99.76" y2="152.74" stroke="#5EA6E2" stroke-width="0.7"/>
<line x1="97.76" y1="155.18" x2="99.76" y2="155.18" stroke="#5EA6E2" stroke-width="0.7"/>
<text x="61.60" y="177.28" font-size="5" text-anchor="middle" fill="#111" stroke="#111" stroke-width="0.06">†</text>
<line x1="150.30" y1="138.50" x2="150.30" y2="183.22" stroke="#111" stroke-width="1.25"/>
<line x1="149.68" y1="182.60" x2="213.50" y2="182.60" stroke="#111" stroke-width="1.25"/>
<line x1="147.90" y1="182.60" x2="150.30" y2="182.60" stroke="#111" stroke-width="0.9"/>
<text x="145.30" y="184.77" font-size="6.1" text-anchor="end" fill="#111" stroke="#111" stroke-width="0.06" textLength="3.3" lengthAdjust="spacingAndGlyphs">0</text>
<line x1="147.90" y1="174.44" x2="150.30" y2="174.44" stroke="#111" stroke-width="0.9"/>
<text x="145.30" y="176.61" font-size="6.1" text-anchor="end" fill="#111" stroke="#111" stroke-width="0.06" textLength="6.3" lengthAdjust="spacingAndGlyphs">20</text>
<line x1="147.90" y1="166.28" x2="150.30" y2="166.28" stroke="#111" stroke-width="0.9"/>
<text x="145.30" y="168.45" font-size="6.1" text-anchor="end" fill="#111" stroke="#111" stroke-width="0.06" textLength="6.3" lengthAdjust="spacingAndGlyphs">40</text>
<line x1="147.90" y1="158.12" x2="150.30" y2="158.12" stroke="#111" stroke-width="0.9"/>
<text x="145.30" y="160.29" font-size="6.1" text-anchor="end" fill="#111" stroke="#111" stroke-width="0.06" textLength="6.3" lengthAdjust="spacingAndGlyphs">60</text>
<line x1="147.90" y1="149.96" x2="150.30" y2="149.96" stroke="#111" stroke-width="0.9"/>
<text x="145.30" y="152.13" font-size="6.1" text-anchor="end" fill="#111" stroke="#111" stroke-width="0.06" textLength="6.3" lengthAdjust="spacingAndGlyphs">80</text>
<line x1="147.90" y1="141.80" x2="150.30" y2="141.80" stroke="#111" stroke-width="0.9"/>
<text x="145.30" y="143.97" font-size="6.1" text-anchor="end" fill="#111" stroke="#111" stroke-width="0.06" textLength="9.3" lengthAdjust="spacingAndGlyphs">100</text>
<line x1="148.70" y1="178.52" x2="150.30" y2="178.52" stroke="#111" stroke-width="0.6"/>
<line x1="148.70" y1="170.36" x2="150.30" y2="170.36" stroke="#111" stroke-width="0.6"/>
<line x1="148.70" y1="162.20" x2="150.30" y2="162.20" stroke="#111" stroke-width="0.6"/>
<line x1="148.70" y1="154.04" x2="150.30" y2="154.04" stroke="#111" stroke-width="0.6"/>
<line x1="148.70" y1="145.88" x2="150.30" y2="145.88" stroke="#111" stroke-width="0.6"/>
<line x1="150.30" y1="182.60" x2="150.30" y2="185.00" stroke="#111" stroke-width="0.9"/>
<text x="150.30" y="193.77" font-size="6.1" text-anchor="middle" fill="#111" stroke="#111" stroke-width="0.06" textLength="3.3" lengthAdjust="spacingAndGlyphs">0</text>
<line x1="170.63" y1="182.60" x2="170.63" y2="185.00" stroke="#111" stroke-width="0.9"/>
<text x="170.63" y="193.77" font-size="6.1" text-anchor="middle" fill="#111" stroke="#111" stroke-width="0.06" textLength="6.3" lengthAdjust="spacingAndGlyphs">10</text>
<line x1="190.97" y1="182.60" x2="190.97" y2="185.00" stroke="#111" stroke-width="0.9"/>
<text x="190.97" y="193.77" font-size="6.1" text-anchor="middle" fill="#111" stroke="#111" stroke-width="0.06" textLength="6.3" lengthAdjust="spacingAndGlyphs">20</text>
<line x1="211.30" y1="182.60" x2="211.30" y2="185.00" stroke="#111" stroke-width="0.9"/>
<text x="211.30" y="193.77" font-size="6.1" text-anchor="middle" fill="#111" stroke="#111" stroke-width="0.06" textLength="6.3" lengthAdjust="spacingAndGlyphs">30</text>
<line x1="160.47" y1="182.60" x2="160.47" y2="184.20" stroke="#111" stroke-width="0.6"/>
<line x1="180.80" y1="182.60" x2="180.80" y2="184.20" stroke="#111" stroke-width="0.6"/>
<line x1="201.13" y1="182.60" x2="201.13" y2="184.20" stroke="#111" stroke-width="0.6"/>
<text x="-160.50" y="121.09" font-size="7.3" text-anchor="middle" fill="#1a1a1a" stroke="#1a1a1a" stroke-width="0.04" transform="rotate(-90)" textLength="41" lengthAdjust="spacingAndGlyphs">%mice without</text>
<text x="-160.50" y="129.89" font-size="7.3" text-anchor="middle" fill="#1a1a1a" stroke="#1a1a1a" stroke-width="0.04" transform="rotate(-90)" textLength="23" lengthAdjust="spacingAndGlyphs">diarrhea</text>
<text x="182.50" y="205.27" font-size="7.8" text-anchor="middle" fill="#111" stroke="#111" stroke-width="0.06" textLength="38.2" lengthAdjust="spacingAndGlyphs">Days post-HCT</text>
<line x1="150.30" y1="141.80" x2="211.30" y2="141.80" stroke="#5EA6E2" stroke-width="0.9"/>
<polygon points="150.30,140.61 151.49,142.66 149.11,142.66" fill="#5EA6E2"/>
<polygon points="154.37,140.61 155.55,142.66 153.18,142.66" fill="#5EA6E2"/>
<polygon points="158.43,140.61 159.62,142.66 157.25,142.66" fill="#5EA6E2"/>
<polygon points="164.53,140.61 165.72,142.66 163.35,142.66" fill="#5EA6E2"/>
<polygon points="170.63,140.61 171.82,142.66 169.45,142.66" fill="#5EA6E2"/>
<polygon points="176.73,140.61 177.92,142.66 175.55,142.66" fill="#5EA6E2"/>
<polygon points="184.87,140.61 186.05,142.66 183.68,142.66" fill="#5EA6E2"/>
<polygon points="190.97,140.61 192.15,142.66 189.78,142.66" fill="#5EA6E2"/>
<polygon points="205.20,140.61 206.39,142.66 204.01,142.66" fill="#5EA6E2"/>
<polygon points="211.30,140.61 212.49,142.66 210.11,142.66" fill="#5EA6E2"/>
<polyline points="150.30,141.80 161.48,141.80 161.48,182.60 164.53,182.60" fill="none" stroke="#EE9B22" stroke-width="1.32" stroke-linejoin="round"/>
<rect x="149.22" y="140.72" width="2.16" height="2.16" fill="#B8163F"/>
<circle cx="158.43" cy="141.80" r="1.32" fill="#B8163F"/>
<circle cx="164.53" cy="182.60" r="1.2" fill="#B8163F"/>
<line x1="248.25" y1="138.75" x2="248.25" y2="183.12" stroke="#111" stroke-width="1.25"/>
<line x1="247.62" y1="182.50" x2="312.00" y2="182.50" stroke="#111" stroke-width="1.25"/>
<line x1="245.85" y1="182.50" x2="248.25" y2="182.50" stroke="#111" stroke-width="0.9"/>
<text x="243.25" y="184.67" font-size="6.1" text-anchor="end" fill="#111" stroke="#111" stroke-width="0.06" textLength="3.3" lengthAdjust="spacingAndGlyphs">0</text>
<line x1="245.85" y1="174.40" x2="248.25" y2="174.40" stroke="#111" stroke-width="0.9"/>
<text x="243.25" y="176.57" font-size="6.1" text-anchor="end" fill="#111" stroke="#111" stroke-width="0.06" textLength="6.3" lengthAdjust="spacingAndGlyphs">20</text>
<line x1="245.85" y1="166.30" x2="248.25" y2="166.30" stroke="#111" stroke-width="0.9"/>
<text x="243.25" y="168.47" font-size="6.1" text-anchor="end" fill="#111" stroke="#111" stroke-width="0.06" textLength="6.3" lengthAdjust="spacingAndGlyphs">40</text>
<line x1="245.85" y1="158.20" x2="248.25" y2="158.20" stroke="#111" stroke-width="0.9"/>
<text x="243.25" y="160.37" font-size="6.1" text-anchor="end" fill="#111" stroke="#111" stroke-width="0.06" textLength="6.3" lengthAdjust="spacingAndGlyphs">60</text>
<line x1="245.85" y1="150.10" x2="248.25" y2="150.10" stroke="#111" stroke-width="0.9"/>
<text x="243.25" y="152.27" font-size="6.1" text-anchor="end" fill="#111" stroke="#111" stroke-width="0.06" textLength="6.3" lengthAdjust="spacingAndGlyphs">80</text>
<line x1="245.85" y1="142.00" x2="248.25" y2="142.00" stroke="#111" stroke-width="0.9"/>
<text x="243.25" y="144.17" font-size="6.1" text-anchor="end" fill="#111" stroke="#111" stroke-width="0.06" textLength="9.3" lengthAdjust="spacingAndGlyphs">100</text>
<line x1="246.65" y1="178.45" x2="248.25" y2="178.45" stroke="#111" stroke-width="0.6"/>
<line x1="246.65" y1="170.35" x2="248.25" y2="170.35" stroke="#111" stroke-width="0.6"/>
<line x1="246.65" y1="162.25" x2="248.25" y2="162.25" stroke="#111" stroke-width="0.6"/>
<line x1="246.65" y1="154.15" x2="248.25" y2="154.15" stroke="#111" stroke-width="0.6"/>
<line x1="246.65" y1="146.05" x2="248.25" y2="146.05" stroke="#111" stroke-width="0.6"/>
<line x1="248.25" y1="182.50" x2="248.25" y2="184.90" stroke="#111" stroke-width="0.9"/>
<text x="248.25" y="194.17" font-size="6.1" text-anchor="middle" fill="#111" stroke="#111" stroke-width="0.06" textLength="3.3" lengthAdjust="spacingAndGlyphs">0</text>
<line x1="268.58" y1="182.50" x2="268.58" y2="184.90" stroke="#111" stroke-width="0.9"/>
<text x="268.58" y="194.17" font-size="6.1" text-anchor="middle" fill="#111" stroke="#111" stroke-width="0.06" textLength="6.3" lengthAdjust="spacingAndGlyphs">10</text>
<line x1="288.92" y1="182.50" x2="288.92" y2="184.90" stroke="#111" stroke-width="0.9"/>
<text x="288.92" y="194.17" font-size="6.1" text-anchor="middle" fill="#111" stroke="#111" stroke-width="0.06" textLength="6.3" lengthAdjust="spacingAndGlyphs">20</text>
<line x1="309.25" y1="182.50" x2="309.25" y2="184.90" stroke="#111" stroke-width="0.9"/>
<text x="309.25" y="194.17" font-size="6.1" text-anchor="middle" fill="#111" stroke="#111" stroke-width="0.06" textLength="6.3" lengthAdjust="spacingAndGlyphs">30</text>
<line x1="258.42" y1="182.50" x2="258.42" y2="184.10" stroke="#111" stroke-width="0.6"/>
<line x1="278.75" y1="182.50" x2="278.75" y2="184.10" stroke="#111" stroke-width="0.6"/>
<line x1="299.08" y1="182.50" x2="299.08" y2="184.10" stroke="#111" stroke-width="0.6"/>
<text x="-160.00" y="227.59" font-size="7.3" text-anchor="middle" fill="#1a1a1a" stroke="#1a1a1a" stroke-width="0.04" transform="rotate(-90)" textLength="28" lengthAdjust="spacingAndGlyphs">% survival</text>
<text x="280.00" y="205.07" font-size="7.8" text-anchor="middle" fill="#111" stroke="#111" stroke-width="0.06" textLength="38.2" lengthAdjust="spacingAndGlyphs">Days post-HCT</text>
<line x1="248.25" y1="142.00" x2="309.25" y2="142.00" stroke="#5EA6E2" stroke-width="0.9"/>
<polygon points="309.25,140.68 310.57,142.96 307.93,142.96" fill="#5EA6E2"/>
<polyline points="248.25,142.00 262.48,142.00 262.48,153.75 264.52,153.75 264.52,165.09 266.55,165.09 266.55,170.75 268.58,170.75 268.58,176.83 284.85,176.83 284.85,176.83 284.85,176.83 284.85,182.50" fill="none" stroke="#D3288E" stroke-width="1.08" stroke-linejoin="round"/>
<polyline points="248.25,142.00 260.45,142.00 260.45,147.67 262.48,147.67 262.48,165.09 264.52,165.09 264.52,170.75 266.55,170.75 266.55,182.50" fill="none" stroke="#EE9B22" stroke-width="1.08" stroke-linejoin="round"/>
<polygon points="260.45,146.37 261.75,147.67 260.45,148.97 259.15,147.67" fill="#EE9B22"/>
<polygon points="262.48,163.79 263.78,165.09 262.48,166.38 261.19,165.09" fill="#EE9B22"/>
<polygon points="264.52,169.46 265.81,170.75 264.52,172.05 263.22,170.75" fill="#EE9B22"/>
<rect x="261.40" y="152.66" width="2.16" height="2.16" fill="#D3288E"/>
<rect x="263.44" y="164.00" width="2.16" height="2.16" fill="#D3288E"/>
<rect x="265.47" y="169.67" width="2.16" height="2.16" fill="#D3288E"/>
<text x="328.20" y="120.65" font-size="12.4" text-anchor="start" fill="#000" font-weight="bold" textLength="9.2" lengthAdjust="spacingAndGlyphs">D</text>
<line x1="375.30" y1="117.00" x2="381.30" y2="117.00" stroke="#5EA6E2" stroke-width="0.8"/>
<polygon points="378.30,115.68 379.62,117.96 376.98,117.96" fill="#5EA6E2"/>
<text x="384.30" y="118.63" font-size="4.6" text-anchor="start" fill="#111" stroke="#111" stroke-width="0.06" textLength="17.3" lengthAdjust="spacingAndGlyphs">TCD-BM</text>
<line x1="411.70" y1="117.00" x2="417.70" y2="117.00" stroke="#EE9B22" stroke-width="0.8"/>
<polygon points="414.70,115.56 416.14,117.00 414.70,118.44 413.26,117.00" fill="#EE9B22"/>
<text x="420.70" y="118.63" font-size="4.6" text-anchor="start" fill="#111" stroke="#111" stroke-width="0.06" textLength="7.3" lengthAdjust="spacingAndGlyphs">IgG</text>
<line x1="438.20" y1="117.00" x2="444.20" y2="117.00" stroke="#D3288E" stroke-width="0.8"/>
<rect x="440.00" y="115.80" width="2.40" height="2.40" fill="#D3288E"/>
<text x="447.20" y="118.63" font-size="4.6" text-anchor="start" fill="#111" stroke="#111" stroke-width="0.06" textLength="31" lengthAdjust="spacingAndGlyphs">anti-IL-2 (S4B6)</text>
<line x1="352.00" y1="129.00" x2="352.00" y2="183.53" stroke="#111" stroke-width="1.25"/>
<line x1="351.38" y1="182.90" x2="385.80" y2="182.90" stroke="#111" stroke-width="1.25"/>
<line x1="349.60" y1="182.90" x2="352.00" y2="182.90" stroke="#111" stroke-width="0.9"/>
<text x="345.80" y="185.07" font-size="6.1" text-anchor="end" fill="#111" stroke="#111" stroke-width="0.06" textLength="3.3" lengthAdjust="spacingAndGlyphs">0</text>
<line x1="349.60" y1="172.58" x2="352.00" y2="172.58" stroke="#111" stroke-width="0.9"/>
<text x="345.80" y="174.75" font-size="6.1" text-anchor="end" fill="#111" stroke="#111" stroke-width="0.06" textLength="3.3" lengthAdjust="spacingAndGlyphs">2</text>
<line x1="349.60" y1="162.26" x2="352.00" y2="162.26" stroke="#111" stroke-width="0.9"/>
<text x="345.80" y="164.43" font-size="6.1" text-anchor="end" fill="#111" stroke="#111" stroke-width="0.06" textLength="3.3" lengthAdjust="spacingAndGlyphs">4</text>
<line x1="349.60" y1="151.94" x2="352.00" y2="151.94" stroke="#111" stroke-width="0.9"/>
<text x="345.80" y="154.11" font-size="6.1" text-anchor="end" fill="#111" stroke="#111" stroke-width="0.06" textLength="3.3" lengthAdjust="spacingAndGlyphs">6</text>
<line x1="349.60" y1="141.62" x2="352.00" y2="141.62" stroke="#111" stroke-width="0.9"/>
<text x="345.80" y="143.79" font-size="6.1" text-anchor="end" fill="#111" stroke="#111" stroke-width="0.06" textLength="3.3" lengthAdjust="spacingAndGlyphs">8</text>
<line x1="349.60" y1="131.30" x2="352.00" y2="131.30" stroke="#111" stroke-width="0.9"/>
<text x="345.80" y="133.47" font-size="6.1" text-anchor="end" fill="#111" stroke="#111" stroke-width="0.06" textLength="6.3" lengthAdjust="spacingAndGlyphs">10</text>
<line x1="350.40" y1="177.74" x2="352.00" y2="177.74" stroke="#111" stroke-width="0.6"/>
<line x1="350.40" y1="167.42" x2="352.00" y2="167.42" stroke="#111" stroke-width="0.6"/>
<line x1="350.40" y1="157.10" x2="352.00" y2="157.10" stroke="#111" stroke-width="0.6"/>
<line x1="350.40" y1="146.78" x2="352.00" y2="146.78" stroke="#111" stroke-width="0.6"/>
<line x1="350.40" y1="136.46" x2="352.00" y2="136.46" stroke="#111" stroke-width="0.6"/>
<polygon points="359.20,175.52 360.39,177.57 358.01,177.57" fill="#fff" stroke="#5EA6E2" stroke-width="0.6"/>
<polygon points="357.70,179.65 358.89,181.70 356.51,181.70" fill="#fff" stroke="#5EA6E2" stroke-width="0.6"/>
<polygon points="360.70,179.65 361.89,181.70 359.51,181.70" fill="#fff" stroke="#5EA6E2" stroke-width="0.6"/>
<polygon points="359.20,181.71 360.39,183.76 358.01,183.76" fill="#fff" stroke="#5EA6E2" stroke-width="0.6"/>
<line x1="359.20" y1="181.35" x2="359.20" y2="176.71" stroke="#5EA6E2" stroke-width="0.7"/>
<rect x="366.30" y="151.94" width="5.80" height="30.46" fill="#F3C987"/>
<circle cx="369.20" cy="146.78" r="1.08" fill="#fff" stroke="#E58A10" stroke-width="0.7"/>
<circle cx="367.20" cy="150.39" r="1.08" fill="#fff" stroke="#E58A10" stroke-width="0.7"/>
<circle cx="371.20" cy="150.39" r="1.08" fill="#fff" stroke="#E58A10" stroke-width="0.7"/>
<circle cx="369.20" cy="152.46" r="1.08" fill="#fff" stroke="#E58A10" stroke-width="0.7"/>
<circle cx="367.70" cy="156.07" r="1.08" fill="#fff" stroke="#E58A10" stroke-width="0.7"/>
<circle cx="370.70" cy="151.94" r="1.08" fill="#fff" stroke="#E58A10" stroke-width="0.7"/>
<line x1="369.20" y1="151.94" x2="369.20" y2="146.78" stroke="#E58A10" stroke-width="0.7"/>
<rect x="376.50" y="145.23" width="6.20" height="37.17" fill="#E59BC8"/>
<circle cx="379.60" cy="136.46" r="1.08" fill="#fff" stroke="#D3288E" stroke-width="0.7"/>
<circle cx="377.60" cy="145.23" r="1.08" fill="#fff" stroke="#D3288E" stroke-width="0.7"/>
<circle cx="381.60" cy="145.23" r="1.08" fill="#fff" stroke="#D3288E" stroke-width="0.7"/>
<circle cx="379.60" cy="142.65" r="1.08" fill="#fff" stroke="#D3288E" stroke-width="0.7"/>
<circle cx="379.60" cy="147.30" r="1.08" fill="#fff" stroke="#D3288E" stroke-width="0.7"/>
<line x1="379.60" y1="145.23" x2="379.60" y2="136.46" stroke="#D3288E" stroke-width="0.7"/>
<polyline points="367.70,132.40 367.70,130.40 379.20,130.40 379.20,132.40" fill="none" stroke="#111" stroke-width="1.0"/>
<text x="373.50" y="129.28" font-size="5" text-anchor="middle" fill="#111" stroke="#111" stroke-width="0.06">*</text>
<text x="-156.00" y="335.29" font-size="7.3" text-anchor="middle" fill="#1a1a1a" stroke="#1a1a1a" stroke-width="0.04" transform="rotate(-90)" textLength="46" lengthAdjust="spacingAndGlyphs">Liver GVHD score</text>
<line x1="419.60" y1="129.00" x2="419.60" y2="183.53" stroke="#111" stroke-width="1.25"/>
<line x1="418.98" y1="182.90" x2="453.30" y2="182.90" stroke="#111" stroke-width="1.25"/>
<line x1="417.20" y1="182.90" x2="419.60" y2="182.90" stroke="#111" stroke-width="0.9"/>
<text x="413.40" y="185.07" font-size="6.1" text-anchor="end" fill="#111" stroke="#111" stroke-width="0.06" textLength="3.3" lengthAdjust="spacingAndGlyphs">0</text>
<line x1="417.20" y1="170.15" x2="419.60" y2="170.15" stroke="#111" stroke-width="0.9"/>
<text x="413.40" y="172.32" font-size="6.1" text-anchor="end" fill="#111" stroke="#111" stroke-width="0.06" textLength="3.3" lengthAdjust="spacingAndGlyphs">2</text>
<line x1="417.20" y1="157.40" x2="419.60" y2="157.40" stroke="#111" stroke-width="0.9"/>
<text x="413.40" y="159.57" font-size="6.1" text-anchor="end" fill="#111" stroke="#111" stroke-width="0.06" textLength="3.3" lengthAdjust="spacingAndGlyphs">4</text>
<line x1="417.20" y1="144.65" x2="419.60" y2="144.65" stroke="#111" stroke-width="0.9"/>
<text x="413.40" y="146.82" font-size="6.1" text-anchor="end" fill="#111" stroke="#111" stroke-width="0.06" textLength="3.3" lengthAdjust="spacingAndGlyphs">6</text>
<line x1="417.20" y1="131.90" x2="419.60" y2="131.90" stroke="#111" stroke-width="0.9"/>
<text x="413.40" y="134.07" font-size="6.1" text-anchor="end" fill="#111" stroke="#111" stroke-width="0.06" textLength="3.3" lengthAdjust="spacingAndGlyphs">8</text>
<line x1="418.00" y1="176.53" x2="419.60" y2="176.53" stroke="#111" stroke-width="0.6"/>
<line x1="418.00" y1="163.78" x2="419.60" y2="163.78" stroke="#111" stroke-width="0.6"/>
<line x1="418.00" y1="151.03" x2="419.60" y2="151.03" stroke="#111" stroke-width="0.6"/>
<line x1="418.00" y1="138.28" x2="419.60" y2="138.28" stroke="#111" stroke-width="0.6"/>
<polygon points="424.80,175.34 425.99,177.39 423.61,177.39" fill="#fff" stroke="#5EA6E2" stroke-width="0.6"/>
<polygon points="427.80,175.34 428.99,177.39 426.61,177.39" fill="#fff" stroke="#5EA6E2" stroke-width="0.6"/>
<polygon points="426.30,178.52 427.49,180.58 425.11,180.58" fill="#fff" stroke="#5EA6E2" stroke-width="0.6"/>
<polygon points="426.30,181.71 427.49,183.76 425.11,183.76" fill="#fff" stroke="#5EA6E2" stroke-width="0.6"/>
<line x1="426.30" y1="179.71" x2="426.30" y2="176.53" stroke="#5EA6E2" stroke-width="0.7"/>
<rect x="434.00" y="144.65" width="5.80" height="37.75" fill="#F3C987"/>
<circle cx="436.90" cy="138.28" r="1.08" fill="#fff" stroke="#E58A10" stroke-width="0.7"/>
<circle cx="434.90" cy="144.01" r="1.08" fill="#fff" stroke="#E58A10" stroke-width="0.7"/>
<circle cx="438.90" cy="144.01" r="1.08" fill="#fff" stroke="#E58A10" stroke-width="0.7"/>
<circle cx="436.90" cy="144.65" r="1.08" fill="#fff" stroke="#E58A10" stroke-width="0.7"/>
<line x1="436.90" y1="144.65" x2="436.90" y2="138.28" stroke="#E58A10" stroke-width="0.7"/>
<rect x="443.70" y="142.74" width="6.60" height="39.66" fill="#E59BC8"/>
<rect x="443.92" y="137.19" width="2.16" height="2.16" fill="#fff" stroke="#D3288E" stroke-width="0.6"/>
<rect x="447.92" y="137.19" width="2.16" height="2.16" fill="#fff" stroke="#D3288E" stroke-width="0.6"/>
<rect x="443.92" y="144.84" width="2.16" height="2.16" fill="#fff" stroke="#D3288E" stroke-width="0.6"/>
<rect x="447.92" y="144.84" width="2.16" height="2.16" fill="#fff" stroke="#D3288E" stroke-width="0.6"/>
<rect x="445.92" y="141.66" width="2.16" height="2.16" fill="#fff" stroke="#D3288E" stroke-width="0.6"/>
<line x1="447.00" y1="142.74" x2="447.00" y2="138.28" stroke="#D3288E" stroke-width="0.7"/>
<text x="-156.00" y="396.29" font-size="7.3" text-anchor="middle" fill="#1a1a1a" stroke="#1a1a1a" stroke-width="0.04" transform="rotate(-90)" textLength="40" lengthAdjust="spacingAndGlyphs">Small intestine</text>
<text x="-156.00" y="405.89" font-size="7.3" text-anchor="middle" fill="#1a1a1a" stroke="#1a1a1a" stroke-width="0.04" transform="rotate(-90)" textLength="31" lengthAdjust="spacingAndGlyphs">GVHD score</text>
<line x1="478.20" y1="128.80" x2="478.20" y2="183.03" stroke="#111" stroke-width="1.25"/>
<line x1="477.57" y1="182.40" x2="512.30" y2="182.40" stroke="#111" stroke-width="1.25"/>
<line x1="475.80" y1="182.40" x2="478.20" y2="182.40" stroke="#111" stroke-width="0.9"/>
<text x="472.00" y="184.57" font-size="6.1" text-anchor="end" fill="#111" stroke="#111" stroke-width="0.06" textLength="3.3" lengthAdjust="spacingAndGlyphs">0</text>
<line x1="475.80" y1="169.78" x2="478.20" y2="169.78" stroke="#111" stroke-width="0.9"/>
<text x="472.00" y="171.95" font-size="6.1" text-anchor="end" fill="#111" stroke="#111" stroke-width="0.06" textLength="3.3" lengthAdjust="spacingAndGlyphs">2</text>
<line x1="475.80" y1="157.16" x2="478.20" y2="157.16" stroke="#111" stroke-width="0.9"/>
<text x="472.00" y="159.33" font-size="6.1" text-anchor="end" fill="#111" stroke="#111" stroke-width="0.06" textLength="3.3" lengthAdjust="spacingAndGlyphs">4</text>
<line x1="475.80" y1="144.54" x2="478.20" y2="144.54" stroke="#111" stroke-width="0.9"/>
<text x="472.00" y="146.71" font-size="6.1" text-anchor="end" fill="#111" stroke="#111" stroke-width="0.06" textLength="3.3" lengthAdjust="spacingAndGlyphs">6</text>
<line x1="475.80" y1="131.92" x2="478.20" y2="131.92" stroke="#111" stroke-width="0.9"/>
<text x="472.00" y="134.09" font-size="6.1" text-anchor="end" fill="#111" stroke="#111" stroke-width="0.06" textLength="3.3" lengthAdjust="spacingAndGlyphs">8</text>
<line x1="476.60" y1="176.09" x2="478.20" y2="176.09" stroke="#111" stroke-width="0.6"/>
<line x1="476.60" y1="163.47" x2="478.20" y2="163.47" stroke="#111" stroke-width="0.6"/>
<line x1="476.60" y1="150.85" x2="478.20" y2="150.85" stroke="#111" stroke-width="0.6"/>
<line x1="476.60" y1="138.23" x2="478.20" y2="138.23" stroke="#111" stroke-width="0.6"/>
<polygon points="484.90,173.64 486.09,175.69 483.71,175.69" fill="#fff" stroke="#5EA6E2" stroke-width="0.6"/>
<polygon points="483.40,179.95 484.59,182.00 482.21,182.00" fill="#fff" stroke="#5EA6E2" stroke-width="0.6"/>
<polygon points="486.40,179.95 487.59,182.00 485.21,182.00" fill="#fff" stroke="#5EA6E2" stroke-width="0.6"/>
<polygon points="484.90,181.21 486.09,183.26 483.71,183.26" fill="#fff" stroke="#5EA6E2" stroke-width="0.6"/>
<line x1="484.90" y1="180.51" x2="484.90" y2="174.83" stroke="#5EA6E2" stroke-width="0.7"/>
<rect x="492.30" y="143.28" width="6.20" height="38.62" fill="#F3C987"/>
<circle cx="493.40" cy="138.23" r="1.08" fill="#fff" stroke="#E58A10" stroke-width="0.7"/>
<circle cx="497.40" cy="138.23" r="1.08" fill="#fff" stroke="#E58A10" stroke-width="0.7"/>
<circle cx="493.40" cy="145.17" r="1.08" fill="#fff" stroke="#E58A10" stroke-width="0.7"/>
<circle cx="497.40" cy="145.17" r="1.08" fill="#fff" stroke="#E58A10" stroke-width="0.7"/>
<circle cx="495.40" cy="142.65" r="1.08" fill="#fff" stroke="#E58A10" stroke-width="0.7"/>
<line x1="495.40" y1="143.28" x2="495.40" y2="138.23" stroke="#E58A10" stroke-width="0.7"/>
<rect x="502.60" y="143.28" width="6.00" height="38.62" fill="#E59BC8"/>
<rect x="504.52" y="137.15" width="2.16" height="2.16" fill="#fff" stroke="#D3288E" stroke-width="0.6"/>
<rect x="502.52" y="142.20" width="2.16" height="2.16" fill="#fff" stroke="#D3288E" stroke-width="0.6"/>
<rect x="506.52" y="142.20" width="2.16" height="2.16" fill="#fff" stroke="#D3288E" stroke-width="0.6"/>
<rect x="504.52" y="143.46" width="2.16" height="2.16" fill="#fff" stroke="#D3288E" stroke-width="0.6"/>
<line x1="505.60" y1="143.28" x2="505.60" y2="138.23" stroke="#D3288E" stroke-width="0.7"/>
<text x="-155.50" y="464.09" font-size="7.3" text-anchor="middle" fill="#1a1a1a" stroke="#1a1a1a" stroke-width="0.04" transform="rotate(-90)" textLength="48" lengthAdjust="spacingAndGlyphs">Colon GVHD score</text>
<text x="7.10" y="232.65" font-size="12.4" text-anchor="start" fill="#000" font-weight="bold" textLength="7.2" lengthAdjust="spacingAndGlyphs">E</text>
<line x1="236.50" y1="239.20" x2="236.50" y2="293.62" stroke="#111" stroke-width="1.25"/>
<line x1="235.88" y1="293.00" x2="314.00" y2="293.00" stroke="#111" stroke-width="1.25"/>
<line x1="234.10" y1="293.00" x2="236.50" y2="293.00" stroke="#111" stroke-width="0.9"/>
<text x="231.50" y="295.17" font-size="6.1" text-anchor="end" fill="#111" stroke="#111" stroke-width="0.06" textLength="3.3" lengthAdjust="spacingAndGlyphs">0</text>
<line x1="234.10" y1="280.23" x2="236.50" y2="280.23" stroke="#111" stroke-width="0.9"/>
<text x="231.50" y="282.39" font-size="6.1" text-anchor="end" fill="#111" stroke="#111" stroke-width="0.06" textLength="6.3" lengthAdjust="spacingAndGlyphs">50</text>
<line x1="234.10" y1="267.45" x2="236.50" y2="267.45" stroke="#111" stroke-width="0.9"/>
<text x="231.50" y="269.62" font-size="6.1" text-anchor="end" fill="#111" stroke="#111" stroke-width="0.06" textLength="9.3" lengthAdjust="spacingAndGlyphs">100</text>
<line x1="234.10" y1="254.68" x2="236.50" y2="254.68" stroke="#111" stroke-width="0.9"/>
<text x="231.50" y="256.84" font-size="6.1" text-anchor="end" fill="#111" stroke="#111" stroke-width="0.06" textLength="9.3" lengthAdjust="spacingAndGlyphs">150</text>
<line x1="234.10" y1="241.90" x2="236.50" y2="241.90" stroke="#111" stroke-width="0.9"/>
<text x="231.50" y="244.07" font-size="6.1" text-anchor="end" fill="#111" stroke="#111" stroke-width="0.06" textLength="9.3" lengthAdjust="spacingAndGlyphs">200</text>
<line x1="234.90" y1="286.61" x2="236.50" y2="286.61" stroke="#111" stroke-width="0.6"/>
<line x1="234.90" y1="273.84" x2="236.50" y2="273.84" stroke="#111" stroke-width="0.6"/>
<line x1="234.90" y1="261.06" x2="236.50" y2="261.06" stroke="#111" stroke-width="0.6"/>
<line x1="234.90" y1="248.29" x2="236.50" y2="248.29" stroke="#111" stroke-width="0.6"/>
<line x1="240.80" y1="293.00" x2="240.80" y2="295.40" stroke="#111" stroke-width="0.9"/>
<text x="240.80" y="304.17" font-size="6.1" text-anchor="middle" fill="#111" stroke="#111" stroke-width="0.06" textLength="3.3" lengthAdjust="spacingAndGlyphs">3</text>
<line x1="249.40" y1="293.00" x2="249.40" y2="295.40" stroke="#111" stroke-width="0.9"/>
<text x="249.40" y="304.17" font-size="6.1" text-anchor="middle" fill="#111" stroke="#111" stroke-width="0.06" textLength="3.3" lengthAdjust="spacingAndGlyphs">5</text>
<line x1="258.00" y1="293.00" x2="258.00" y2="295.40" stroke="#111" stroke-width="0.9"/>
<text x="258.00" y="304.17" font-size="6.1" text-anchor="middle" fill="#111" stroke="#111" stroke-width="0.06" textLength="3.3" lengthAdjust="spacingAndGlyphs">7</text>
<line x1="266.60" y1="293.00" x2="266.60" y2="295.40" stroke="#111" stroke-width="0.9"/>
<text x="266.60" y="304.17" font-size="6.1" text-anchor="middle" fill="#111" stroke="#111" stroke-width="0.06" textLength="3.3" lengthAdjust="spacingAndGlyphs">9</text>
<line x1="275.20" y1="293.00" x2="275.20" y2="295.40" stroke="#111" stroke-width="0.9"/>
<text x="275.20" y="304.17" font-size="6.1" text-anchor="middle" fill="#111" stroke="#111" stroke-width="0.06" textLength="6.3" lengthAdjust="spacingAndGlyphs">11</text>
<line x1="283.80" y1="293.00" x2="283.80" y2="295.40" stroke="#111" stroke-width="0.9"/>
<text x="283.80" y="304.17" font-size="6.1" text-anchor="middle" fill="#111" stroke="#111" stroke-width="0.06" textLength="6.3" lengthAdjust="spacingAndGlyphs">15</text>
<line x1="292.40" y1="293.00" x2="292.40" y2="295.40" stroke="#111" stroke-width="0.9"/>
<text x="292.40" y="304.17" font-size="6.1" text-anchor="middle" fill="#111" stroke="#111" stroke-width="0.06" textLength="6.3" lengthAdjust="spacingAndGlyphs">20</text>
<line x1="301.00" y1="293.00" x2="301.00" y2="295.40" stroke="#111" stroke-width="0.9"/>
<text x="301.00" y="304.17" font-size="6.1" text-anchor="middle" fill="#111" stroke="#111" stroke-width="0.06" textLength="6.3" lengthAdjust="spacingAndGlyphs">25</text>
<line x1="309.60" y1="293.00" x2="309.60" y2="295.40" stroke="#111" stroke-width="0.9"/>
<text x="309.60" y="304.17" font-size="6.1" text-anchor="middle" fill="#111" stroke="#111" stroke-width="0.06" textLength="6.3" lengthAdjust="spacingAndGlyphs">30</text>
<text x="-265.10" y="215.84" font-size="6.6" text-anchor="middle" fill="#1a1a1a" stroke="#1a1a1a" stroke-width="0.04" transform="rotate(-90)" textLength="45" lengthAdjust="spacingAndGlyphs">Photons/sec(xe<tspan font-size="4.2" dy="-2.2">5</tspan><tspan dy="2.2">)</tspan></text>
<polyline points="240.80,293.00 249.40,285.85 258.00,291.72 266.60,293.00 275.20,293.00 283.80,293.00 292.40,293.00 301.00,293.00 309.60,293.00" fill="none" stroke="#B8163F" stroke-width="1.2" stroke-linejoin="round"/>
<rect x="239.84" y="292.04" width="1.92" height="1.92" fill="#B8163F"/>
<rect x="248.44" y="284.89" width="1.92" height="1.92" fill="#B8163F"/>
<rect x="257.04" y="290.76" width="1.92" height="1.92" fill="#B8163F"/>
<rect x="265.64" y="292.04" width="1.92" height="1.92" fill="#B8163F"/>
<rect x="274.24" y="292.04" width="1.92" height="1.92" fill="#B8163F"/>
<rect x="282.84" y="292.04" width="1.92" height="1.92" fill="#B8163F"/>
<rect x="291.44" y="292.04" width="1.92" height="1.92" fill="#B8163F"/>
<rect x="300.04" y="292.04" width="1.92" height="1.92" fill="#B8163F"/>
<rect x="308.64" y="292.04" width="1.92" height="1.92" fill="#B8163F"/>
<polyline points="240.80,291.72 249.40,289.93 258.00,292.49" fill="none" stroke="#2E4C8E" stroke-width="1.08" stroke-linejoin="round"/>
<rect x="239.60" y="290.52" width="2.40" height="2.40" fill="#fff" stroke="#2E4C8E" stroke-width="0.6"/>
<rect x="248.20" y="288.73" width="2.40" height="2.40" fill="#fff" stroke="#2E4C8E" stroke-width="0.6"/>
<rect x="256.80" y="291.29" width="2.40" height="2.40" fill="#fff" stroke="#2E4C8E" stroke-width="0.6"/>
<polyline points="240.80,290.44 249.40,286.61 258.00,282.78 266.60,273.84 275.20,264.64" fill="none" stroke="#2E4C8E" stroke-width="1.2" stroke-linejoin="round"/>
<circle cx="240.80" cy="290.44" r="1.32" fill="#fff" stroke="#2E4C8E" stroke-width="0.7"/>
<circle cx="249.40" cy="286.61" r="1.32" fill="#fff" stroke="#2E4C8E" stroke-width="0.7"/>
<circle cx="258.00" cy="282.78" r="1.32" fill="#fff" stroke="#2E4C8E" stroke-width="0.7"/>
<circle cx="266.60" cy="273.84" r="1.32" fill="#fff" stroke="#2E4C8E" stroke-width="0.7"/>
<circle cx="275.20" cy="264.64" r="1.32" fill="#fff" stroke="#2E4C8E" stroke-width="0.7"/>
<polyline points="240.80,291.21 249.40,284.82 258.00,281.50 266.60,263.62 275.20,255.95" fill="none" stroke="#2E4C8E" stroke-width="1.2" stroke-linejoin="round"/>
<circle cx="240.80" cy="291.21" r="1.44" fill="#2E4C8E"/>
<circle cx="249.40" cy="284.82" r="1.44" fill="#2E4C8E"/>
<circle cx="258.00" cy="281.50" r="1.44" fill="#2E4C8E"/>
<circle cx="266.60" cy="263.62" r="1.44" fill="#2E4C8E"/>
<circle cx="275.20" cy="255.95" r="1.44" fill="#2E4C8E"/>
<line x1="266.60" y1="260.55" x2="266.60" y2="266.68" stroke="#2E4C8E" stroke-width="0.7"/>
<line x1="265.60" y1="260.55" x2="267.60" y2="260.55" stroke="#2E4C8E" stroke-width="0.7"/>
<line x1="265.60" y1="266.68" x2="267.60" y2="266.68" stroke="#2E4C8E" stroke-width="0.7"/>
<line x1="275.20" y1="252.63" x2="275.20" y2="259.27" stroke="#2E4C8E" stroke-width="0.7"/>
<line x1="274.20" y1="252.63" x2="276.20" y2="252.63" stroke="#2E4C8E" stroke-width="0.7"/>
<line x1="274.20" y1="259.27" x2="276.20" y2="259.27" stroke="#2E4C8E" stroke-width="0.7"/>
<line x1="275.20" y1="261.06" x2="275.20" y2="269.49" stroke="#2E4C8E" stroke-width="0.7"/>
<line x1="274.20" y1="261.06" x2="276.20" y2="261.06" stroke="#2E4C8E" stroke-width="0.7"/>
<line x1="274.20" y1="269.49" x2="276.20" y2="269.49" stroke="#2E4C8E" stroke-width="0.7"/>
<line x1="249.40" y1="283.80" x2="249.40" y2="287.89" stroke="#2E4C8E" stroke-width="0.7"/>
<line x1="248.40" y1="283.80" x2="250.40" y2="283.80" stroke="#2E4C8E" stroke-width="0.7"/>
<line x1="248.40" y1="287.89" x2="250.40" y2="287.89" stroke="#2E4C8E" stroke-width="0.7"/>
<text x="280.60" y="256.27" font-size="5" text-anchor="middle" fill="#111" stroke="#111" stroke-width="0.06">†</text>
<text x="280.60" y="267.27" font-size="5" text-anchor="middle" fill="#111" stroke="#111" stroke-width="0.06">†</text>
<line x1="322.50" y1="254.60" x2="330.60" y2="254.60" stroke="#2E4C8E" stroke-width="0.9"/>
<circle cx="326.50" cy="254.60" r="1.32" fill="#2E4C8E"/>
<text x="333.30" y="256.30" font-size="4.8" text-anchor="start" fill="#111" stroke="#111" stroke-width="0.06" textLength="25.5" lengthAdjust="spacingAndGlyphs">TCD-BM+IgG</text>
<line x1="322.50" y1="262.10" x2="330.60" y2="262.10" stroke="#2E4C8E" stroke-width="0.9"/>
<circle cx="326.50" cy="262.10" r="1.32" fill="#fff" stroke="#2E4C8E" stroke-width="0.7"/>
<text x="333.30" y="263.80" font-size="4.8" text-anchor="start" fill="#111" stroke="#111" stroke-width="0.06" textLength="17.5" lengthAdjust="spacingAndGlyphs">TCD-BM+</text>
<text x="333.30" y="269.20" font-size="4.8" text-anchor="start" fill="#111" stroke="#111" stroke-width="0.06" textLength="42" lengthAdjust="spacingAndGlyphs">anti-IL-2 (JES6-1A12)</text>
<line x1="322.50" y1="276.10" x2="330.60" y2="276.10" stroke="#2E4C8E" stroke-width="0.9"/>
<rect x="325.18" y="274.78" width="2.64" height="2.64" fill="#fff" stroke="#2E4C8E" stroke-width="0.6"/>
<text x="333.30" y="277.80" font-size="4.8" text-anchor="start" fill="#111" stroke="#111" stroke-width="0.06" textLength="31.5" lengthAdjust="spacingAndGlyphs">Splenocytes+IgG</text>
<line x1="322.50" y1="284.20" x2="330.60" y2="284.20" stroke="#B8163F" stroke-width="0.9"/>
<rect x="325.18" y="282.88" width="2.64" height="2.64" fill="#B8163F"/>
<text x="333.30" y="285.90" font-size="4.8" text-anchor="start" fill="#111" stroke="#111" stroke-width="0.06" textLength="24.5" lengthAdjust="spacingAndGlyphs">Splenocytes+</text>
<text x="333.30" y="291.30" font-size="4.8" text-anchor="start" fill="#111" stroke="#111" stroke-width="0.06" textLength="42" lengthAdjust="spacingAndGlyphs">anti-IL-2 (JES6-1A12)</text>
<line x1="236.90" y1="315.60" x2="236.90" y2="371.93" stroke="#111" stroke-width="1.25"/>
<line x1="236.28" y1="371.30" x2="309.50" y2="371.30" stroke="#111" stroke-width="1.25"/>
<line x1="234.50" y1="371.30" x2="236.90" y2="371.30" stroke="#111" stroke-width="0.9"/>
<text x="231.90" y="373.47" font-size="6.1" text-anchor="end" fill="#111" stroke="#111" stroke-width="0.06" textLength="3.3" lengthAdjust="spacingAndGlyphs">0</text>
<line x1="234.50" y1="346.80" x2="236.90" y2="346.80" stroke="#111" stroke-width="0.9"/>
<text x="231.90" y="348.97" font-size="6.1" text-anchor="end" fill="#111" stroke="#111" stroke-width="0.06" textLength="6.3" lengthAdjust="spacingAndGlyphs">50</text>
<line x1="234.50" y1="322.30" x2="236.90" y2="322.30" stroke="#111" stroke-width="0.9"/>
<text x="231.90" y="324.47" font-size="6.1" text-anchor="end" fill="#111" stroke="#111" stroke-width="0.06" textLength="9.3" lengthAdjust="spacingAndGlyphs">100</text>
<line x1="235.30" y1="359.05" x2="236.90" y2="359.05" stroke="#111" stroke-width="0.6"/>
<line x1="235.30" y1="334.55" x2="236.90" y2="334.55" stroke="#111" stroke-width="0.6"/>
<line x1="236.90" y1="371.30" x2="236.90" y2="373.70" stroke="#111" stroke-width="0.9"/>
<text x="236.90" y="382.57" font-size="6.1" text-anchor="middle" fill="#111" stroke="#111" stroke-width="0.06" textLength="3.3" lengthAdjust="spacingAndGlyphs">0</text>
<line x1="260.00" y1="371.30" x2="260.00" y2="373.70" stroke="#111" stroke-width="0.9"/>
<text x="260.00" y="382.57" font-size="6.1" text-anchor="middle" fill="#111" stroke="#111" stroke-width="0.06" textLength="6.3" lengthAdjust="spacingAndGlyphs">10</text>
<line x1="283.10" y1="371.30" x2="283.10" y2="373.70" stroke="#111" stroke-width="0.9"/>
<text x="283.10" y="382.57" font-size="6.1" text-anchor="middle" fill="#111" stroke="#111" stroke-width="0.06" textLength="6.3" lengthAdjust="spacingAndGlyphs">20</text>
<line x1="306.20" y1="371.30" x2="306.20" y2="373.70" stroke="#111" stroke-width="0.9"/>
<text x="306.20" y="382.57" font-size="6.1" text-anchor="middle" fill="#111" stroke="#111" stroke-width="0.06" textLength="6.3" lengthAdjust="spacingAndGlyphs">30</text>
<line x1="248.45" y1="371.30" x2="248.45" y2="372.90" stroke="#111" stroke-width="0.6"/>
<line x1="271.55" y1="371.30" x2="271.55" y2="372.90" stroke="#111" stroke-width="0.6"/>
<line x1="294.65" y1="371.30" x2="294.65" y2="372.90" stroke="#111" stroke-width="0.6"/>
<text x="-345.00" y="207.39" font-size="7.3" text-anchor="middle" fill="#1a1a1a" stroke="#1a1a1a" stroke-width="0.04" transform="rotate(-90)" textLength="41" lengthAdjust="spacingAndGlyphs">%mice without</text>
<text x="-345.00" y="216.39" font-size="7.3" text-anchor="middle" fill="#1a1a1a" stroke="#1a1a1a" stroke-width="0.04" transform="rotate(-90)" textLength="23" lengthAdjust="spacingAndGlyphs">diarrhea</text>
<text x="273.50" y="394.27" font-size="7.8" text-anchor="middle" fill="#111" stroke="#111" stroke-width="0.06" textLength="38.2" lengthAdjust="spacingAndGlyphs">Days post-HCT</text>
<line x1="236.90" y1="322.30" x2="306.20" y2="322.30" stroke="#B8163F" stroke-width="1.0"/>
<rect x="235.82" y="321.22" width="2.16" height="2.16" fill="#B8163F"/>
<rect x="242.75" y="321.22" width="2.16" height="2.16" fill="#B8163F"/>
<rect x="247.37" y="321.22" width="2.16" height="2.16" fill="#B8163F"/>
<rect x="251.99" y="321.22" width="2.16" height="2.16" fill="#B8163F"/>
<rect x="256.61" y="321.22" width="2.16" height="2.16" fill="#B8163F"/>
<rect x="261.23" y="321.22" width="2.16" height="2.16" fill="#B8163F"/>
<rect x="270.47" y="321.22" width="2.16" height="2.16" fill="#B8163F"/>
<rect x="282.02" y="321.22" width="2.16" height="2.16" fill="#B8163F"/>
<rect x="293.57" y="321.22" width="2.16" height="2.16" fill="#B8163F"/>
<rect x="305.12" y="321.22" width="2.16" height="2.16" fill="#B8163F"/>
<polyline points="236.90,322.30 247.30,322.30 247.30,371.30 251.91,371.30" fill="none" stroke="#2E4C8E" stroke-width="1.2" stroke-linejoin="round"/>
<rect x="248.06" y="370.22" width="2.16" height="2.16" fill="#fff" stroke="#2E4C8E" stroke-width="0.6"/>
<rect x="250.14" y="370.22" width="2.16" height="2.16" fill="#fff" stroke="#2E4C8E" stroke-width="0.6"/>
<rect x="242.75" y="321.22" width="2.16" height="2.16" fill="#fff" stroke="#2E4C8E" stroke-width="0.6"/>
<line x1="236.90" y1="316.60" x2="262.31" y2="316.60" stroke="#2E4C8E" stroke-width="0.8"/>
<line x1="236.90" y1="319.40" x2="263.46" y2="319.40" stroke="#2E4C8E" stroke-width="0.8"/>
<polygon points="236.90,315.81 237.69,317.18 236.11,317.18" fill="#2E4C8E"/>
<circle cx="236.90" cy="319.40" r="0.72" fill="#2E4C8E"/>
<polygon points="243.83,315.81 244.62,317.18 243.04,317.18" fill="#2E4C8E"/>
<circle cx="243.83" cy="319.40" r="0.72" fill="#2E4C8E"/>
<polygon points="248.45,315.81 249.24,317.18 247.66,317.18" fill="#2E4C8E"/>
<circle cx="248.45" cy="319.40" r="0.72" fill="#2E4C8E"/>
<polygon points="253.07,315.81 253.86,317.18 252.28,317.18" fill="#2E4C8E"/>
<circle cx="253.07" cy="319.40" r="0.72" fill="#2E4C8E"/>
<polygon points="257.69,315.81 258.48,317.18 256.90,317.18" fill="#2E4C8E"/>
<circle cx="257.69" cy="319.40" r="0.72" fill="#2E4C8E"/>
<polygon points="262.31,315.81 263.10,317.18 261.52,317.18" fill="#2E4C8E"/>
<circle cx="262.31" cy="319.40" r="0.72" fill="#2E4C8E"/>
<text x="265.08" y="318.74" font-size="3.5" text-anchor="middle" fill="#111" stroke="#111" stroke-width="0.06">†</text>
<text x="266.01" y="321.54" font-size="3.5" text-anchor="middle" fill="#111" stroke="#111" stroke-width="0.06">†</text>
<line x1="357.20" y1="317.00" x2="357.20" y2="372.12" stroke="#111" stroke-width="1.25"/>
<line x1="356.57" y1="371.50" x2="437.30" y2="371.50" stroke="#111" stroke-width="1.25"/>
<line x1="354.80" y1="371.50" x2="357.20" y2="371.50" stroke="#111" stroke-width="0.9"/>
<text x="352.20" y="373.67" font-size="6.1" text-anchor="end" fill="#111" stroke="#111" stroke-width="0.06" textLength="3.3" lengthAdjust="spacingAndGlyphs">0</text>
<line x1="354.80" y1="358.80" x2="357.20" y2="358.80" stroke="#111" stroke-width="0.9"/>
<text x="352.20" y="360.97" font-size="6.1" text-anchor="end" fill="#111" stroke="#111" stroke-width="0.06" textLength="6.3" lengthAdjust="spacingAndGlyphs">25</text>
<line x1="354.80" y1="346.10" x2="357.20" y2="346.10" stroke="#111" stroke-width="0.9"/>
<text x="352.20" y="348.27" font-size="6.1" text-anchor="end" fill="#111" stroke="#111" stroke-width="0.06" textLength="6.3" lengthAdjust="spacingAndGlyphs">50</text>
<line x1="354.80" y1="333.40" x2="357.20" y2="333.40" stroke="#111" stroke-width="0.9"/>
<text x="352.20" y="335.57" font-size="6.1" text-anchor="end" fill="#111" stroke="#111" stroke-width="0.06" textLength="6.3" lengthAdjust="spacingAndGlyphs">75</text>
<line x1="354.80" y1="320.70" x2="357.20" y2="320.70" stroke="#111" stroke-width="0.9"/>
<text x="352.20" y="322.87" font-size="6.1" text-anchor="end" fill="#111" stroke="#111" stroke-width="0.06" textLength="9.3" lengthAdjust="spacingAndGlyphs">100</text>
<line x1="357.20" y1="371.50" x2="357.20" y2="373.90" stroke="#111" stroke-width="0.9"/>
<text x="357.20" y="382.87" font-size="6.1" text-anchor="middle" fill="#111" stroke="#111" stroke-width="0.06" textLength="3.3" lengthAdjust="spacingAndGlyphs">0</text>
<line x1="382.73" y1="371.50" x2="382.73" y2="373.90" stroke="#111" stroke-width="0.9"/>
<text x="382.73" y="382.87" font-size="6.1" text-anchor="middle" fill="#111" stroke="#111" stroke-width="0.06" textLength="6.3" lengthAdjust="spacingAndGlyphs">10</text>
<line x1="408.27" y1="371.50" x2="408.27" y2="373.90" stroke="#111" stroke-width="0.9"/>
<text x="408.27" y="382.87" font-size="6.1" text-anchor="middle" fill="#111" stroke="#111" stroke-width="0.06" textLength="6.3" lengthAdjust="spacingAndGlyphs">20</text>
<line x1="433.80" y1="371.50" x2="433.80" y2="373.90" stroke="#111" stroke-width="0.9"/>
<text x="433.80" y="382.87" font-size="6.1" text-anchor="middle" fill="#111" stroke="#111" stroke-width="0.06" textLength="6.3" lengthAdjust="spacingAndGlyphs">30</text>
<line x1="369.97" y1="371.50" x2="369.97" y2="373.10" stroke="#111" stroke-width="0.6"/>
<line x1="395.50" y1="371.50" x2="395.50" y2="373.10" stroke="#111" stroke-width="0.6"/>
<line x1="421.03" y1="371.50" x2="421.03" y2="373.10" stroke="#111" stroke-width="0.6"/>
<text x="-344.30" y="326.99" font-size="7.3" text-anchor="middle" fill="#1a1a1a" stroke="#1a1a1a" stroke-width="0.04" transform="rotate(-90)" textLength="35" lengthAdjust="spacingAndGlyphs">% tumor free</text>
<text x="-344.30" y="336.99" font-size="7.3" text-anchor="middle" fill="#1a1a1a" stroke="#1a1a1a" stroke-width="0.04" transform="rotate(-90)" textLength="20.4" lengthAdjust="spacingAndGlyphs">survival</text>
<text x="397.80" y="393.97" font-size="7.8" text-anchor="middle" fill="#111" stroke="#111" stroke-width="0.06" textLength="38.2" lengthAdjust="spacingAndGlyphs">Days post-HCT</text>
<polyline points="357.20,320.70 369.97,320.70 369.97,327.05 372.52,327.05 372.52,333.40 375.07,333.40 375.07,352.45 377.63,352.45 377.63,365.15 380.18,365.15 380.18,371.50" fill="none" stroke="#2E4C8E" stroke-width="1.02" stroke-linejoin="round"/>
<polyline points="357.20,320.70 377.63,320.70 377.63,325.78 380.18,325.78 380.18,330.86 382.73,330.86 382.73,333.40 385.29,333.40 385.29,339.75 387.84,339.75 387.84,346.10 390.39,346.10 390.39,365.15 392.95,365.15 392.95,371.50" fill="none" stroke="#2E4C8E" stroke-width="1.02" stroke-linejoin="round"/>
<polyline points="357.20,320.70 380.18,320.70 380.18,327.05 387.84,327.05 387.84,327.05 387.84,327.05 387.84,346.10 390.39,346.10 390.39,365.15 395.50,365.15 395.50,365.15 395.50,365.15 395.50,371.50" fill="none" stroke="#2E4C8E" stroke-width="1.02" stroke-linejoin="round"/>
<circle cx="369.97" cy="327.05" r="1.08" fill="#2E4C8E"/>
<circle cx="372.52" cy="333.40" r="1.08" fill="#2E4C8E"/>
<circle cx="375.07" cy="352.45" r="1.08" fill="#2E4C8E"/>
<circle cx="377.63" cy="365.15" r="1.08" fill="#2E4C8E"/>
<circle cx="377.63" cy="325.78" r="1.08" fill="#2E4C8E"/>
<circle cx="380.18" cy="330.86" r="1.08" fill="#2E4C8E"/>
<circle cx="382.73" cy="333.40" r="1.08" fill="#2E4C8E"/>
<circle cx="385.29" cy="339.75" r="1.08" fill="#2E4C8E"/>
<circle cx="387.84" cy="346.10" r="1.08" fill="#2E4C8E"/>
<circle cx="390.39" cy="365.15" r="1.08" fill="#2E4C8E"/>
<circle cx="389.12" cy="346.10" r="1.08" fill="#2E4C8E"/>
<line x1="380.18" y1="320.70" x2="433.80" y2="320.70" stroke="#B8163F" stroke-width="1.1"/>
<rect x="432.84" y="319.74" width="1.92" height="1.92" fill="#B8163F"/>
<polyline points="439.20,322.30 441.20,322.30 441.20,369.60 439.20,369.60" fill="none" stroke="#111" stroke-width="1.0"/>
<text x="447.60" y="347.77" font-size="5" text-anchor="middle" fill="#111" stroke="#111" stroke-width="0.06" textLength="5" lengthAdjust="spacingAndGlyphs">***</text>
<text x="7.10" y="422.65" font-size="12.4" text-anchor="start" fill="#000" font-weight="bold" textLength="7.0" lengthAdjust="spacingAndGlyphs">F</text>
<line x1="236.70" y1="408.00" x2="236.70" y2="462.52" stroke="#111" stroke-width="1.25"/>
<line x1="236.07" y1="461.90" x2="316.50" y2="461.90" stroke="#111" stroke-width="1.25"/>
<line x1="234.30" y1="461.90" x2="236.70" y2="461.90" stroke="#111" stroke-width="0.9"/>
<line x1="234.30" y1="444.75" x2="236.70" y2="444.75" stroke="#111" stroke-width="0.9"/>
<line x1="234.30" y1="427.60" x2="236.70" y2="427.60" stroke="#111" stroke-width="0.9"/>
<line x1="234.30" y1="410.45" x2="236.70" y2="410.45" stroke="#111" stroke-width="0.9"/>
<line x1="235.10" y1="453.32" x2="236.70" y2="453.32" stroke="#111" stroke-width="0.6"/>
<line x1="235.10" y1="436.18" x2="236.70" y2="436.18" stroke="#111" stroke-width="0.6"/>
<line x1="235.10" y1="419.03" x2="236.70" y2="419.03" stroke="#111" stroke-width="0.6"/>
<line x1="236.70" y1="461.90" x2="236.70" y2="464.30" stroke="#111" stroke-width="0.9"/>
<text x="236.70" y="472.77" font-size="6.1" text-anchor="middle" fill="#111" stroke="#111" stroke-width="0.06" textLength="3.3" lengthAdjust="spacingAndGlyphs">3</text>
<line x1="245.10" y1="461.90" x2="245.10" y2="464.30" stroke="#111" stroke-width="0.9"/>
<text x="245.10" y="472.77" font-size="6.1" text-anchor="middle" fill="#111" stroke="#111" stroke-width="0.06" textLength="3.3" lengthAdjust="spacingAndGlyphs">6</text>
<line x1="253.50" y1="461.90" x2="253.50" y2="464.30" stroke="#111" stroke-width="0.9"/>
<text x="253.50" y="472.77" font-size="6.1" text-anchor="middle" fill="#111" stroke="#111" stroke-width="0.06" textLength="3.3" lengthAdjust="spacingAndGlyphs">9</text>
<line x1="261.90" y1="461.90" x2="261.90" y2="464.30" stroke="#111" stroke-width="0.9"/>
<text x="261.90" y="472.77" font-size="6.1" text-anchor="middle" fill="#111" stroke="#111" stroke-width="0.06" textLength="6.3" lengthAdjust="spacingAndGlyphs">12</text>
<line x1="270.30" y1="461.90" x2="270.30" y2="464.30" stroke="#111" stroke-width="0.9"/>
<text x="270.30" y="472.77" font-size="6.1" text-anchor="middle" fill="#111" stroke="#111" stroke-width="0.06" textLength="6.3" lengthAdjust="spacingAndGlyphs">15</text>
<line x1="278.70" y1="461.90" x2="278.70" y2="464.30" stroke="#111" stroke-width="0.9"/>
<text x="278.70" y="472.77" font-size="6.1" text-anchor="middle" fill="#111" stroke="#111" stroke-width="0.06" textLength="6.3" lengthAdjust="spacingAndGlyphs">18</text>
<line x1="287.10" y1="461.90" x2="287.10" y2="464.30" stroke="#111" stroke-width="0.9"/>
<text x="287.10" y="472.77" font-size="6.1" text-anchor="middle" fill="#111" stroke="#111" stroke-width="0.06" textLength="6.3" lengthAdjust="spacingAndGlyphs">21</text>
<line x1="295.50" y1="461.90" x2="295.50" y2="464.30" stroke="#111" stroke-width="0.9"/>
<text x="295.50" y="472.77" font-size="6.1" text-anchor="middle" fill="#111" stroke="#111" stroke-width="0.06" textLength="6.3" lengthAdjust="spacingAndGlyphs">24</text>
<line x1="303.90" y1="461.90" x2="303.90" y2="464.30" stroke="#111" stroke-width="0.9"/>
<text x="303.90" y="472.77" font-size="6.1" text-anchor="middle" fill="#111" stroke="#111" stroke-width="0.06" textLength="6.3" lengthAdjust="spacingAndGlyphs">27</text>
<line x1="312.30" y1="461.90" x2="312.30" y2="464.30" stroke="#111" stroke-width="0.9"/>
<text x="312.30" y="472.77" font-size="6.1" text-anchor="middle" fill="#111" stroke="#111" stroke-width="0.06" textLength="6.3" lengthAdjust="spacingAndGlyphs">30</text>
<text x="229.90" y="464.07" font-size="6.1" text-anchor="end" fill="#111" stroke="#111" stroke-width="0.06" textLength="3.3" lengthAdjust="spacingAndGlyphs">0</text>
<text x="216.6" y="446.67" font-size="5.4" fill="#111" stroke="#111" stroke-width="0.06" textLength="12.0" lengthAdjust="spacingAndGlyphs">2x10</text>
<text x="228.90" y="444.15" font-size="3.2" fill="#111">7</text>
<text x="216.6" y="429.52" font-size="5.4" fill="#111" stroke="#111" stroke-width="0.06" textLength="12.0" lengthAdjust="spacingAndGlyphs">4x10</text>
<text x="228.90" y="427.00" font-size="3.2" fill="#111">7</text>
<text x="216.6" y="412.37" font-size="5.4" fill="#111" stroke="#111" stroke-width="0.06" textLength="12.0" lengthAdjust="spacingAndGlyphs">6x10</text>
<text x="228.90" y="409.85" font-size="3.2" fill="#111">7</text>
<text x="-434.60" y="211.79" font-size="7.3" text-anchor="middle" fill="#1a1a1a" stroke="#1a1a1a" stroke-width="0.04" transform="rotate(-90)" textLength="32" lengthAdjust="spacingAndGlyphs">Photons/sec</text>
<polyline points="236.70,453.32 245.10,422.46 253.50,450.75 261.90,456.15 275.90,461.90 284.30,461.90 298.30,461.90 312.30,461.90" fill="none" stroke="#B8163F" stroke-width="1.32" stroke-linejoin="round"/>
<polyline points="236.70,457.10 245.10,449.04 253.50,458.21 261.90,461.90 275.90,461.90 284.30,461.90 298.30,461.90 312.30,461.90" fill="none" stroke="#2E4C8E" stroke-width="1.32" stroke-linejoin="round"/>
<rect x="235.62" y="452.25" width="2.16" height="2.16" fill="#B8163F"/>
<rect x="244.02" y="421.38" width="2.16" height="2.16" fill="#B8163F"/>
<rect x="252.42" y="449.67" width="2.16" height="2.16" fill="#B8163F"/>
<rect x="260.82" y="455.07" width="2.16" height="2.16" fill="#B8163F"/>
<rect x="274.82" y="460.82" width="2.16" height="2.16" fill="#B8163F"/>
<rect x="283.22" y="460.82" width="2.16" height="2.16" fill="#B8163F"/>
<rect x="297.22" y="460.82" width="2.16" height="2.16" fill="#B8163F"/>
<rect x="311.22" y="460.82" width="2.16" height="2.16" fill="#B8163F"/>
<circle cx="236.70" cy="457.10" r="1.08" fill="#2E4C8E"/>
<circle cx="245.10" cy="449.04" r="1.08" fill="#2E4C8E"/>
<circle cx="253.50" cy="458.21" r="1.08" fill="#2E4C8E"/>
<circle cx="261.90" cy="461.90" r="1.08" fill="#2E4C8E"/>
<circle cx="275.90" cy="461.90" r="1.08" fill="#2E4C8E"/>
<circle cx="284.30" cy="461.90" r="1.08" fill="#2E4C8E"/>
<circle cx="298.30" cy="461.90" r="1.08" fill="#2E4C8E"/>
<circle cx="312.30" cy="461.90" r="1.08" fill="#2E4C8E"/>
<line x1="245.10" y1="419.45" x2="245.10" y2="425.03" stroke="#B8163F" stroke-width="0.7"/>
<line x1="244.10" y1="419.45" x2="246.10" y2="419.45" stroke="#B8163F" stroke-width="0.7"/>
<line x1="244.10" y1="425.03" x2="246.10" y2="425.03" stroke="#B8163F" stroke-width="0.7"/>
<line x1="245.10" y1="447.32" x2="245.10" y2="450.75" stroke="#2E4C8E" stroke-width="0.7"/>
<line x1="244.10" y1="447.32" x2="246.10" y2="447.32" stroke="#2E4C8E" stroke-width="0.7"/>
<line x1="244.10" y1="450.75" x2="246.10" y2="450.75" stroke="#2E4C8E" stroke-width="0.7"/>
<line x1="236.70" y1="451.18" x2="236.70" y2="455.47" stroke="#B8163F" stroke-width="0.7"/>
<line x1="235.70" y1="451.18" x2="237.70" y2="451.18" stroke="#B8163F" stroke-width="0.7"/>
<line x1="235.70" y1="455.47" x2="237.70" y2="455.47" stroke="#B8163F" stroke-width="0.7"/>
<text x="248.00" y="417.38" font-size="5" text-anchor="middle" fill="#111" stroke="#111" stroke-width="0.06" textLength="7" lengthAdjust="spacingAndGlyphs">****</text>
<text x="253.80" y="446.38" font-size="5" text-anchor="middle" fill="#111" stroke="#111" stroke-width="0.06" textLength="7" lengthAdjust="spacingAndGlyphs">****</text>
<text x="263.00" y="454.57" font-size="5" text-anchor="middle" fill="#111" stroke="#111" stroke-width="0.06" textLength="3.8" lengthAdjust="spacingAndGlyphs">**</text>
<line x1="236.90" y1="484.20" x2="236.90" y2="537.92" stroke="#111" stroke-width="1.25"/>
<line x1="236.28" y1="537.30" x2="316.50" y2="537.30" stroke="#111" stroke-width="1.25"/>
<line x1="234.50" y1="537.30" x2="236.90" y2="537.30" stroke="#111" stroke-width="0.9"/>
<text x="231.90" y="539.47" font-size="6.1" text-anchor="end" fill="#111" stroke="#111" stroke-width="0.06" textLength="6.3" lengthAdjust="spacingAndGlyphs">40</text>
<line x1="234.50" y1="520.20" x2="236.90" y2="520.20" stroke="#111" stroke-width="0.9"/>
<text x="231.90" y="522.37" font-size="6.1" text-anchor="end" fill="#111" stroke="#111" stroke-width="0.06" textLength="6.3" lengthAdjust="spacingAndGlyphs">60</text>
<line x1="234.50" y1="503.10" x2="236.90" y2="503.10" stroke="#111" stroke-width="0.9"/>
<text x="231.90" y="505.27" font-size="6.1" text-anchor="end" fill="#111" stroke="#111" stroke-width="0.06" textLength="6.3" lengthAdjust="spacingAndGlyphs">80</text>
<line x1="234.50" y1="486.00" x2="236.90" y2="486.00" stroke="#111" stroke-width="0.9"/>
<text x="231.90" y="488.17" font-size="6.1" text-anchor="end" fill="#111" stroke="#111" stroke-width="0.06" textLength="9.3" lengthAdjust="spacingAndGlyphs">100</text>
<line x1="235.30" y1="528.75" x2="236.90" y2="528.75" stroke="#111" stroke-width="0.6"/>
<line x1="235.30" y1="511.65" x2="236.90" y2="511.65" stroke="#111" stroke-width="0.6"/>
<line x1="235.30" y1="494.55" x2="236.90" y2="494.55" stroke="#111" stroke-width="0.6"/>
<line x1="236.90" y1="537.30" x2="236.90" y2="539.70" stroke="#111" stroke-width="0.9"/>
<text x="236.90" y="548.67" font-size="6.1" text-anchor="middle" fill="#111" stroke="#111" stroke-width="0.06" textLength="3.3" lengthAdjust="spacingAndGlyphs">0</text>
<line x1="262.23" y1="537.30" x2="262.23" y2="539.70" stroke="#111" stroke-width="0.9"/>
<text x="262.23" y="548.67" font-size="6.1" text-anchor="middle" fill="#111" stroke="#111" stroke-width="0.06" textLength="6.3" lengthAdjust="spacingAndGlyphs">10</text>
<line x1="287.57" y1="537.30" x2="287.57" y2="539.70" stroke="#111" stroke-width="0.9"/>
<text x="287.57" y="548.67" font-size="6.1" text-anchor="middle" fill="#111" stroke="#111" stroke-width="0.06" textLength="6.3" lengthAdjust="spacingAndGlyphs">20</text>
<line x1="312.90" y1="537.30" x2="312.90" y2="539.70" stroke="#111" stroke-width="0.9"/>
<text x="312.90" y="548.67" font-size="6.1" text-anchor="middle" fill="#111" stroke="#111" stroke-width="0.06" textLength="6.3" lengthAdjust="spacingAndGlyphs">30</text>
<line x1="249.57" y1="537.30" x2="249.57" y2="538.90" stroke="#111" stroke-width="0.6"/>
<line x1="274.90" y1="537.30" x2="274.90" y2="538.90" stroke="#111" stroke-width="0.6"/>
<line x1="300.23" y1="537.30" x2="300.23" y2="538.90" stroke="#111" stroke-width="0.6"/>
<text x="-511.90" y="207.19" font-size="7.3" text-anchor="middle" fill="#1a1a1a" stroke="#1a1a1a" stroke-width="0.04" transform="rotate(-90)" textLength="28" lengthAdjust="spacingAndGlyphs">%original</text>
<text x="-511.90" y="216.19" font-size="7.3" text-anchor="middle" fill="#1a1a1a" stroke="#1a1a1a" stroke-width="0.04" transform="rotate(-90)" textLength="34" lengthAdjust="spacingAndGlyphs">body weight</text>
<text x="277.00" y="559.17" font-size="7.8" text-anchor="middle" fill="#111" stroke="#111" stroke-width="0.06" textLength="38.2" lengthAdjust="spacingAndGlyphs">Days post-HCT</text>
<polyline points="236.90,486.00 247.03,496.60 262.23,502.84 269.83,503.95 279.97,506.86 287.57,506.52 300.23,509.17 312.90,509.94" fill="none" stroke="#2E4C8E" stroke-width="1.2" stroke-linejoin="round"/>
<polyline points="236.90,486.00 247.03,499.34 262.23,503.36 269.83,503.53 279.97,506.52 287.57,504.98 300.23,505.24 312.90,506.52" fill="none" stroke="#B8163F" stroke-width="1.2" stroke-linejoin="round"/>
<circle cx="236.90" cy="486.00" r="1.08" fill="#2E4C8E"/>
<circle cx="247.03" cy="496.60" r="1.08" fill="#2E4C8E"/>
<circle cx="262.23" cy="502.84" r="1.08" fill="#2E4C8E"/>
<circle cx="269.83" cy="503.95" r="1.08" fill="#2E4C8E"/>
<circle cx="279.97" cy="506.86" r="1.08" fill="#2E4C8E"/>
<circle cx="287.57" cy="506.52" r="1.08" fill="#2E4C8E"/>
<circle cx="300.23" cy="509.17" r="1.08" fill="#2E4C8E"/>
<circle cx="312.90" cy="509.94" r="1.08" fill="#2E4C8E"/>
<rect x="235.70" y="484.80" width="2.40" height="2.40" fill="#B8163F"/>
<rect x="245.83" y="498.14" width="2.40" height="2.40" fill="#B8163F"/>
<rect x="261.03" y="502.16" width="2.40" height="2.40" fill="#B8163F"/>
<rect x="268.63" y="502.33" width="2.40" height="2.40" fill="#B8163F"/>
<rect x="278.77" y="505.32" width="2.40" height="2.40" fill="#B8163F"/>
<rect x="286.37" y="503.78" width="2.40" height="2.40" fill="#B8163F"/>
<rect x="299.03" y="504.04" width="2.40" height="2.40" fill="#B8163F"/>
<rect x="311.70" y="505.32" width="2.40" height="2.40" fill="#B8163F"/>
<line x1="247.03" y1="498.06" x2="247.03" y2="500.62" stroke="#B8163F" stroke-width="0.7"/>
<line x1="246.03" y1="498.06" x2="248.03" y2="498.06" stroke="#B8163F" stroke-width="0.7"/>
<line x1="246.03" y1="500.62" x2="248.03" y2="500.62" stroke="#B8163F" stroke-width="0.7"/>
<line x1="262.23" y1="502.07" x2="262.23" y2="504.64" stroke="#B8163F" stroke-width="0.7"/>
<line x1="261.23" y1="502.07" x2="263.23" y2="502.07" stroke="#B8163F" stroke-width="0.7"/>
<line x1="261.23" y1="504.64" x2="263.23" y2="504.64" stroke="#B8163F" stroke-width="0.7"/>
<line x1="269.83" y1="502.25" x2="269.83" y2="504.81" stroke="#B8163F" stroke-width="0.7"/>
<line x1="268.83" y1="502.25" x2="270.83" y2="502.25" stroke="#B8163F" stroke-width="0.7"/>
<line x1="268.83" y1="504.81" x2="270.83" y2="504.81" stroke="#B8163F" stroke-width="0.7"/>
<line x1="279.97" y1="505.24" x2="279.97" y2="507.80" stroke="#B8163F" stroke-width="0.7"/>
<line x1="278.97" y1="505.24" x2="280.97" y2="505.24" stroke="#B8163F" stroke-width="0.7"/>
<line x1="278.97" y1="507.80" x2="280.97" y2="507.80" stroke="#B8163F" stroke-width="0.7"/>
<line x1="287.57" y1="503.70" x2="287.57" y2="506.26" stroke="#B8163F" stroke-width="0.7"/>
<line x1="286.57" y1="503.70" x2="288.57" y2="503.70" stroke="#B8163F" stroke-width="0.7"/>
<line x1="286.57" y1="506.26" x2="288.57" y2="506.26" stroke="#B8163F" stroke-width="0.7"/>
<line x1="300.23" y1="503.95" x2="300.23" y2="506.52" stroke="#B8163F" stroke-width="0.7"/>
<line x1="299.23" y1="503.95" x2="301.23" y2="503.95" stroke="#B8163F" stroke-width="0.7"/>
<line x1="299.23" y1="506.52" x2="301.23" y2="506.52" stroke="#B8163F" stroke-width="0.7"/>
<line x1="312.90" y1="505.24" x2="312.90" y2="507.80" stroke="#B8163F" stroke-width="0.7"/>
<line x1="311.90" y1="505.24" x2="313.90" y2="505.24" stroke="#B8163F" stroke-width="0.7"/>
<line x1="311.90" y1="507.80" x2="313.90" y2="507.80" stroke="#B8163F" stroke-width="0.7"/>
<line x1="363.40" y1="484.20" x2="363.40" y2="537.92" stroke="#111" stroke-width="1.25"/>
<line x1="362.77" y1="537.30" x2="439.50" y2="537.30" stroke="#111" stroke-width="1.25"/>
<line x1="361.00" y1="537.30" x2="363.40" y2="537.30" stroke="#111" stroke-width="0.9"/>
<text x="358.40" y="539.47" font-size="6.1" text-anchor="end" fill="#111" stroke="#111" stroke-width="0.06" textLength="3.3" lengthAdjust="spacingAndGlyphs">0</text>
<line x1="361.00" y1="527.00" x2="363.40" y2="527.00" stroke="#111" stroke-width="0.9"/>
<text x="358.40" y="529.17" font-size="6.1" text-anchor="end" fill="#111" stroke="#111" stroke-width="0.06" textLength="6.3" lengthAdjust="spacingAndGlyphs">20</text>
<line x1="361.00" y1="516.70" x2="363.40" y2="516.70" stroke="#111" stroke-width="0.9"/>
<text x="358.40" y="518.87" font-size="6.1" text-anchor="end" fill="#111" stroke="#111" stroke-width="0.06" textLength="6.3" lengthAdjust="spacingAndGlyphs">40</text>
<line x1="361.00" y1="506.40" x2="363.40" y2="506.40" stroke="#111" stroke-width="0.9"/>
<text x="358.40" y="508.57" font-size="6.1" text-anchor="end" fill="#111" stroke="#111" stroke-width="0.06" textLength="6.3" lengthAdjust="spacingAndGlyphs">60</text>
<line x1="361.00" y1="496.10" x2="363.40" y2="496.10" stroke="#111" stroke-width="0.9"/>
<text x="358.40" y="498.27" font-size="6.1" text-anchor="end" fill="#111" stroke="#111" stroke-width="0.06" textLength="6.3" lengthAdjust="spacingAndGlyphs">80</text>
<line x1="361.00" y1="485.80" x2="363.40" y2="485.80" stroke="#111" stroke-width="0.9"/>
<text x="358.40" y="487.97" font-size="6.1" text-anchor="end" fill="#111" stroke="#111" stroke-width="0.06" textLength="9.3" lengthAdjust="spacingAndGlyphs">100</text>
<line x1="361.80" y1="532.15" x2="363.40" y2="532.15" stroke="#111" stroke-width="0.6"/>
<line x1="361.80" y1="521.85" x2="363.40" y2="521.85" stroke="#111" stroke-width="0.6"/>
<line x1="361.80" y1="511.55" x2="363.40" y2="511.55" stroke="#111" stroke-width="0.6"/>
<line x1="361.80" y1="501.25" x2="363.40" y2="501.25" stroke="#111" stroke-width="0.6"/>
<line x1="361.80" y1="490.95" x2="363.40" y2="490.95" stroke="#111" stroke-width="0.6"/>
<line x1="363.40" y1="537.30" x2="363.40" y2="539.70" stroke="#111" stroke-width="0.9"/>
<text x="363.40" y="548.67" font-size="6.1" text-anchor="middle" fill="#111" stroke="#111" stroke-width="0.06" textLength="3.3" lengthAdjust="spacingAndGlyphs">0</text>
<line x1="387.63" y1="537.30" x2="387.63" y2="539.70" stroke="#111" stroke-width="0.9"/>
<text x="387.63" y="548.67" font-size="6.1" text-anchor="middle" fill="#111" stroke="#111" stroke-width="0.06" textLength="6.3" lengthAdjust="spacingAndGlyphs">10</text>
<line x1="411.87" y1="537.30" x2="411.87" y2="539.70" stroke="#111" stroke-width="0.9"/>
<text x="411.87" y="548.67" font-size="6.1" text-anchor="middle" fill="#111" stroke="#111" stroke-width="0.06" textLength="6.3" lengthAdjust="spacingAndGlyphs">20</text>
<line x1="436.10" y1="537.30" x2="436.10" y2="539.70" stroke="#111" stroke-width="0.9"/>
<text x="436.10" y="548.67" font-size="6.1" text-anchor="middle" fill="#111" stroke="#111" stroke-width="0.06" textLength="6.3" lengthAdjust="spacingAndGlyphs">30</text>
<line x1="375.52" y1="537.30" x2="375.52" y2="538.90" stroke="#111" stroke-width="0.6"/>
<line x1="399.75" y1="537.30" x2="399.75" y2="538.90" stroke="#111" stroke-width="0.6"/>
<line x1="423.98" y1="537.30" x2="423.98" y2="538.90" stroke="#111" stroke-width="0.6"/>
<text x="-510.20" y="333.49" font-size="7.3" text-anchor="middle" fill="#1a1a1a" stroke="#1a1a1a" stroke-width="0.04" transform="rotate(-90)" textLength="35" lengthAdjust="spacingAndGlyphs">% tumor free</text>
<text x="-510.20" y="343.49" font-size="7.3" text-anchor="middle" fill="#1a1a1a" stroke="#1a1a1a" stroke-width="0.04" transform="rotate(-90)" textLength="21.4" lengthAdjust="spacingAndGlyphs">survival</text>
<text x="402.00" y="559.27" font-size="7.8" text-anchor="middle" fill="#111" stroke="#111" stroke-width="0.06" textLength="38.2" lengthAdjust="spacingAndGlyphs">Days post-HCT</text>
<polyline points="363.40,485.80 397.33,485.80 397.33,492.24 402.17,492.24 402.17,498.68 436.10,498.68 436.10,498.68" fill="none" stroke="#B8163F" stroke-width="1.32" stroke-linejoin="round"/>
<line x1="363.40" y1="485.80" x2="436.10" y2="485.80" stroke="#2E4C8E" stroke-width="1.0"/>
<circle cx="436.10" cy="485.80" r="1.32" fill="#2E4C8E"/>
<rect x="396.01" y="490.92" width="2.64" height="2.64" fill="#B8163F"/>
<rect x="400.85" y="497.36" width="2.64" height="2.64" fill="#B8163F"/>
<rect x="434.78" y="497.36" width="2.64" height="2.64" fill="#B8163F"/>
<line x1="376.50" y1="510.30" x2="385.80" y2="510.30" stroke="#2E4C8E" stroke-width="0.9"/>
<circle cx="381.10" cy="510.30" r="1.44" fill="#2E4C8E"/>
<text x="388.00" y="512.00" font-size="4.8" text-anchor="start" fill="#111" stroke="#111" stroke-width="0.06" textLength="41.5" lengthAdjust="spacingAndGlyphs">anti-IL-2 (JES6-1A12)</text>
<line x1="376.50" y1="518.20" x2="385.80" y2="518.20" stroke="#B8163F" stroke-width="0.9"/>
<rect x="379.66" y="516.76" width="2.88" height="2.88" fill="#B8163F"/>
<text x="388.00" y="519.90" font-size="4.8" text-anchor="start" fill="#111" stroke="#111" stroke-width="0.06" textLength="21" lengthAdjust="spacingAndGlyphs">Tacrolimus</text>
<polyline points="440.30,486.00 442.30,486.00 442.30,499.60 440.30,499.60" fill="none" stroke="#111" stroke-width="1.0"/>
<text x="447.60" y="494.93" font-size="4.6" text-anchor="middle" fill="#111" stroke="#111" stroke-width="0.06" textLength="3.8" lengthAdjust="spacingAndGlyphs">ns</text>
<text x="6.90" y="551.25" font-size="12.4" text-anchor="start" fill="#000" font-weight="bold" textLength="9.4" lengthAdjust="spacingAndGlyphs">G</text>
<line x1="236.50" y1="581.50" x2="236.50" y2="637.23" stroke="#111" stroke-width="1.25"/>
<line x1="235.88" y1="636.60" x2="316.00" y2="636.60" stroke="#111" stroke-width="1.25"/>
<line x1="234.10" y1="636.60" x2="236.50" y2="636.60" stroke="#111" stroke-width="0.9"/>
<line x1="234.10" y1="619.20" x2="236.50" y2="619.20" stroke="#111" stroke-width="0.9"/>
<line x1="234.10" y1="601.80" x2="236.50" y2="601.80" stroke="#111" stroke-width="0.9"/>
<line x1="234.10" y1="584.40" x2="236.50" y2="584.40" stroke="#111" stroke-width="0.9"/>
<line x1="234.90" y1="627.90" x2="236.50" y2="627.90" stroke="#111" stroke-width="0.6"/>
<line x1="234.90" y1="610.50" x2="236.50" y2="610.50" stroke="#111" stroke-width="0.6"/>
<line x1="234.90" y1="593.10" x2="236.50" y2="593.10" stroke="#111" stroke-width="0.6"/>
<line x1="236.80" y1="636.60" x2="236.80" y2="639.00" stroke="#111" stroke-width="0.9"/>
<text x="236.80" y="647.67" font-size="6.1" text-anchor="middle" fill="#111" stroke="#111" stroke-width="0.06" textLength="3.3" lengthAdjust="spacingAndGlyphs">3</text>
<line x1="245.08" y1="636.60" x2="245.08" y2="639.00" stroke="#111" stroke-width="0.9"/>
<text x="245.08" y="647.67" font-size="6.1" text-anchor="middle" fill="#111" stroke="#111" stroke-width="0.06" textLength="3.3" lengthAdjust="spacingAndGlyphs">6</text>
<line x1="253.36" y1="636.60" x2="253.36" y2="639.00" stroke="#111" stroke-width="0.9"/>
<text x="253.36" y="647.67" font-size="6.1" text-anchor="middle" fill="#111" stroke="#111" stroke-width="0.06" textLength="3.3" lengthAdjust="spacingAndGlyphs">9</text>
<line x1="261.63" y1="636.60" x2="261.63" y2="639.00" stroke="#111" stroke-width="0.9"/>
<text x="261.63" y="647.67" font-size="6.1" text-anchor="middle" fill="#111" stroke="#111" stroke-width="0.06" textLength="6.3" lengthAdjust="spacingAndGlyphs">12</text>
<line x1="269.91" y1="636.60" x2="269.91" y2="639.00" stroke="#111" stroke-width="0.9"/>
<text x="269.91" y="647.67" font-size="6.1" text-anchor="middle" fill="#111" stroke="#111" stroke-width="0.06" textLength="6.3" lengthAdjust="spacingAndGlyphs">15</text>
<line x1="278.19" y1="636.60" x2="278.19" y2="639.00" stroke="#111" stroke-width="0.9"/>
<text x="278.19" y="647.67" font-size="6.1" text-anchor="middle" fill="#111" stroke="#111" stroke-width="0.06" textLength="6.3" lengthAdjust="spacingAndGlyphs">18</text>
<line x1="286.47" y1="636.60" x2="286.47" y2="639.00" stroke="#111" stroke-width="0.9"/>
<text x="286.47" y="647.67" font-size="6.1" text-anchor="middle" fill="#111" stroke="#111" stroke-width="0.06" textLength="6.3" lengthAdjust="spacingAndGlyphs">21</text>
<line x1="294.74" y1="636.60" x2="294.74" y2="639.00" stroke="#111" stroke-width="0.9"/>
<text x="294.74" y="647.67" font-size="6.1" text-anchor="middle" fill="#111" stroke="#111" stroke-width="0.06" textLength="6.3" lengthAdjust="spacingAndGlyphs">24</text>
<line x1="303.02" y1="636.60" x2="303.02" y2="639.00" stroke="#111" stroke-width="0.9"/>
<text x="303.02" y="647.67" font-size="6.1" text-anchor="middle" fill="#111" stroke="#111" stroke-width="0.06" textLength="6.3" lengthAdjust="spacingAndGlyphs">27</text>
<line x1="311.30" y1="636.60" x2="311.30" y2="639.00" stroke="#111" stroke-width="0.9"/>
<text x="311.30" y="647.67" font-size="6.1" text-anchor="middle" fill="#111" stroke="#111" stroke-width="0.06" textLength="6.3" lengthAdjust="spacingAndGlyphs">30</text>
<text x="230.40" y="638.77" font-size="6.1" text-anchor="end" fill="#111" stroke="#111" stroke-width="0.06" textLength="3.3" lengthAdjust="spacingAndGlyphs">0</text>
<text x="216.4" y="621.12" font-size="5.4" fill="#111" stroke="#111" stroke-width="0.06" textLength="12.5" lengthAdjust="spacingAndGlyphs">2x10</text>
<text x="229.20" y="618.60" font-size="3.2" fill="#111">7</text>
<text x="216.4" y="603.72" font-size="5.4" fill="#111" stroke="#111" stroke-width="0.06" textLength="12.5" lengthAdjust="spacingAndGlyphs">4x10</text>
<text x="229.20" y="601.20" font-size="3.2" fill="#111">7</text>
<text x="216.4" y="586.32" font-size="5.4" fill="#111" stroke="#111" stroke-width="0.06" textLength="12.5" lengthAdjust="spacingAndGlyphs">6x10</text>
<text x="229.20" y="583.80" font-size="3.2" fill="#111">7</text>
<text x="-609.00" y="211.39" font-size="7.3" text-anchor="middle" fill="#1a1a1a" stroke="#1a1a1a" stroke-width="0.04" transform="rotate(-90)" textLength="32.4" lengthAdjust="spacingAndGlyphs">Photons/sec</text>
<text x="277.00" y="658.87" font-size="7.8" text-anchor="middle" fill="#111" stroke="#111" stroke-width="0.06" textLength="38.2" lengthAdjust="spacingAndGlyphs">Days post-HCT</text>
<polyline points="236.80,631.47 245.08,614.42 253.36,632.77 261.63,636.60 269.91,636.60 278.19,636.60 286.47,636.60 294.74,636.60 303.02,636.60 311.30,636.60" fill="none" stroke="#2E4C8E" stroke-width="1.44" stroke-linejoin="round"/>
<polyline points="236.80,625.20 245.08,595.97" fill="none" stroke="#B8163F" stroke-width="1.44" stroke-linejoin="round"/>
<circle cx="236.80" cy="631.47" r="1.32" fill="#2E4C8E"/>
<circle cx="245.08" cy="614.42" r="1.32" fill="#2E4C8E"/>
<circle cx="253.36" cy="632.77" r="1.32" fill="#2E4C8E"/>
<circle cx="261.63" cy="636.60" r="1.32" fill="#2E4C8E"/>
<circle cx="269.91" cy="636.60" r="1.32" fill="#2E4C8E"/>
<circle cx="278.19" cy="636.60" r="1.32" fill="#2E4C8E"/>
<circle cx="286.47" cy="636.60" r="1.32" fill="#2E4C8E"/>
<circle cx="294.74" cy="636.60" r="1.32" fill="#2E4C8E"/>
<circle cx="303.02" cy="636.60" r="1.32" fill="#2E4C8E"/>
<circle cx="311.30" cy="636.60" r="1.32" fill="#2E4C8E"/>
<rect x="235.48" y="623.88" width="2.64" height="2.64" fill="#B8163F"/>
<rect x="243.76" y="594.65" width="2.64" height="2.64" fill="#B8163F"/>
<line x1="245.08" y1="589.20" x2="245.08" y2="602.30" stroke="#B8163F" stroke-width="0.8"/>
<line x1="244.08" y1="589.20" x2="246.08" y2="589.20" stroke="#B8163F" stroke-width="0.8"/>
<line x1="244.08" y1="602.30" x2="246.08" y2="602.30" stroke="#B8163F" stroke-width="0.8"/>
<line x1="245.08" y1="608.70" x2="245.08" y2="615.70" stroke="#2E4C8E" stroke-width="0.8"/>
<line x1="244.08" y1="608.70" x2="246.08" y2="608.70" stroke="#2E4C8E" stroke-width="0.8"/>
<line x1="244.08" y1="615.70" x2="246.08" y2="615.70" stroke="#2E4C8E" stroke-width="0.8"/>
<line x1="236.80" y1="623.50" x2="236.80" y2="627.00" stroke="#B8163F" stroke-width="0.8"/>
<line x1="235.80" y1="623.50" x2="237.80" y2="623.50" stroke="#B8163F" stroke-width="0.8"/>
<line x1="235.80" y1="627.00" x2="237.80" y2="627.00" stroke="#B8163F" stroke-width="0.8"/>
<line x1="253.36" y1="629.50" x2="253.36" y2="634.00" stroke="#2E4C8E" stroke-width="0.8"/>
<line x1="252.36" y1="629.50" x2="254.36" y2="629.50" stroke="#2E4C8E" stroke-width="0.8"/>
<line x1="252.36" y1="634.00" x2="254.36" y2="634.00" stroke="#2E4C8E" stroke-width="0.8"/>
<text x="244.70" y="587.07" font-size="5" text-anchor="middle" fill="#111" stroke="#111" stroke-width="0.06" textLength="5.5" lengthAdjust="spacingAndGlyphs">***</text>
<text x="249.70" y="598.98" font-size="5" text-anchor="middle" fill="#111" stroke="#111" stroke-width="0.06">†</text>
<line x1="361.25" y1="582.50" x2="361.25" y2="637.38" stroke="#111" stroke-width="1.25"/>
<line x1="360.62" y1="636.75" x2="442.00" y2="636.75" stroke="#111" stroke-width="1.25"/>
<line x1="358.85" y1="636.75" x2="361.25" y2="636.75" stroke="#111" stroke-width="0.9"/>
<text x="356.25" y="638.92" font-size="6.1" text-anchor="end" fill="#111" stroke="#111" stroke-width="0.06" textLength="3.3" lengthAdjust="spacingAndGlyphs">0</text>
<line x1="358.85" y1="626.55" x2="361.25" y2="626.55" stroke="#111" stroke-width="0.9"/>
<text x="356.25" y="628.72" font-size="6.1" text-anchor="end" fill="#111" stroke="#111" stroke-width="0.06" textLength="6.3" lengthAdjust="spacingAndGlyphs">20</text>
<line x1="358.85" y1="616.35" x2="361.25" y2="616.35" stroke="#111" stroke-width="0.9"/>
<text x="356.25" y="618.52" font-size="6.1" text-anchor="end" fill="#111" stroke="#111" stroke-width="0.06" textLength="6.3" lengthAdjust="spacingAndGlyphs">40</text>
<line x1="358.85" y1="606.15" x2="361.25" y2="606.15" stroke="#111" stroke-width="0.9"/>
<text x="356.25" y="608.32" font-size="6.1" text-anchor="end" fill="#111" stroke="#111" stroke-width="0.06" textLength="6.3" lengthAdjust="spacingAndGlyphs">60</text>
<line x1="358.85" y1="595.95" x2="361.25" y2="595.95" stroke="#111" stroke-width="0.9"/>
<text x="356.25" y="598.12" font-size="6.1" text-anchor="end" fill="#111" stroke="#111" stroke-width="0.06" textLength="6.3" lengthAdjust="spacingAndGlyphs">80</text>
<line x1="358.85" y1="585.75" x2="361.25" y2="585.75" stroke="#111" stroke-width="0.9"/>
<text x="356.25" y="587.92" font-size="6.1" text-anchor="end" fill="#111" stroke="#111" stroke-width="0.06" textLength="9.3" lengthAdjust="spacingAndGlyphs">100</text>
<line x1="359.65" y1="631.65" x2="361.25" y2="631.65" stroke="#111" stroke-width="0.6"/>
<line x1="359.65" y1="621.45" x2="361.25" y2="621.45" stroke="#111" stroke-width="0.6"/>
<line x1="359.65" y1="611.25" x2="361.25" y2="611.25" stroke="#111" stroke-width="0.6"/>
<line x1="359.65" y1="601.05" x2="361.25" y2="601.05" stroke="#111" stroke-width="0.6"/>
<line x1="359.65" y1="590.85" x2="361.25" y2="590.85" stroke="#111" stroke-width="0.6"/>
<line x1="361.25" y1="636.75" x2="361.25" y2="639.15" stroke="#111" stroke-width="0.9"/>
<text x="361.25" y="647.17" font-size="6.1" text-anchor="middle" fill="#111" stroke="#111" stroke-width="0.06" textLength="3.3" lengthAdjust="spacingAndGlyphs">0</text>
<line x1="387.08" y1="636.75" x2="387.08" y2="639.15" stroke="#111" stroke-width="0.9"/>
<text x="387.08" y="647.17" font-size="6.1" text-anchor="middle" fill="#111" stroke="#111" stroke-width="0.06" textLength="6.3" lengthAdjust="spacingAndGlyphs">10</text>
<line x1="412.92" y1="636.75" x2="412.92" y2="639.15" stroke="#111" stroke-width="0.9"/>
<text x="412.92" y="647.17" font-size="6.1" text-anchor="middle" fill="#111" stroke="#111" stroke-width="0.06" textLength="6.3" lengthAdjust="spacingAndGlyphs">20</text>
<line x1="438.75" y1="636.75" x2="438.75" y2="639.15" stroke="#111" stroke-width="0.9"/>
<text x="438.75" y="647.17" font-size="6.1" text-anchor="middle" fill="#111" stroke="#111" stroke-width="0.06" textLength="6.3" lengthAdjust="spacingAndGlyphs">30</text>
<line x1="374.17" y1="636.75" x2="374.17" y2="638.35" stroke="#111" stroke-width="0.6"/>
<line x1="400.00" y1="636.75" x2="400.00" y2="638.35" stroke="#111" stroke-width="0.6"/>
<line x1="425.83" y1="636.75" x2="425.83" y2="638.35" stroke="#111" stroke-width="0.6"/>
<text x="-613.50" y="331.34" font-size="7.3" text-anchor="middle" fill="#1a1a1a" stroke="#1a1a1a" stroke-width="0.04" transform="rotate(-90)" textLength="35" lengthAdjust="spacingAndGlyphs">% tumor free</text>
<text x="-613.50" y="341.34" font-size="7.3" text-anchor="middle" fill="#1a1a1a" stroke="#1a1a1a" stroke-width="0.04" transform="rotate(-90)" textLength="21" lengthAdjust="spacingAndGlyphs">survival</text>
<text x="402.00" y="658.87" font-size="7.8" text-anchor="middle" fill="#111" stroke="#111" stroke-width="0.06" textLength="38.2" lengthAdjust="spacingAndGlyphs">Days post-HCT</text>
<polyline points="361.25,585.75 376.75,585.75 376.75,590.85 379.33,590.85 379.33,606.15 381.92,606.15 381.92,626.55 384.50,626.55 384.50,636.75" fill="none" stroke="#B8163F" stroke-width="1.32" stroke-linejoin="round"/>
<rect x="375.43" y="589.53" width="2.64" height="2.64" fill="#B8163F"/>
<rect x="378.01" y="604.83" width="2.64" height="2.64" fill="#B8163F"/>
<rect x="380.60" y="625.23" width="2.64" height="2.64" fill="#B8163F"/>
<rect x="383.18" y="635.43" width="2.64" height="2.64" fill="#B8163F"/>
<line x1="361.25" y1="585.75" x2="438.75" y2="585.75" stroke="#2E4C8E" stroke-width="1.0"/>
<circle cx="437.46" cy="585.75" r="1.38" fill="#2E4C8E"/>
<line x1="384.50" y1="591.75" x2="392.50" y2="591.75" stroke="#2E4C8E" stroke-width="0.9"/>
<circle cx="388.50" cy="591.75" r="1.2" fill="#2E4C8E"/>
<text x="395.00" y="593.45" font-size="4.8" text-anchor="start" fill="#111" stroke="#111" stroke-width="0.06" textLength="20" lengthAdjust="spacingAndGlyphs">anti-IL1-2</text>
<text x="395.00" y="598.70" font-size="4.8" text-anchor="start" fill="#111" stroke="#111" stroke-width="0.06" textLength="22.5" lengthAdjust="spacingAndGlyphs">(JES6-1A12)</text>
<line x1="384.50" y1="605.50" x2="392.50" y2="605.50" stroke="#B8163F" stroke-width="0.9"/>
<rect x="387.18" y="604.18" width="2.64" height="2.64" fill="#B8163F"/>
<text x="395.00" y="607.20" font-size="4.8" text-anchor="start" fill="#111" stroke="#111" stroke-width="0.06" textLength="21" lengthAdjust="spacingAndGlyphs">Tacrolimus</text>
<polyline points="439.75,586.00 441.75,586.00 441.75,635.00 439.75,635.00" fill="none" stroke="#111" stroke-width="1.0"/>
<text x="431.60" y="621.77" font-size="5" text-anchor="middle" fill="#111" stroke="#111" stroke-width="0.06" textLength="6.5" lengthAdjust="spacingAndGlyphs">****</text>
<rect x="45.50" y="239.00" width="16.50" height="32.60" fill="#040404"/>
<line x1="53.75" y1="266.38" x2="53.75" y2="271.44" stroke="#a8a8a8" stroke-width="0.45"/>
<line x1="50.62" y1="265.08" x2="48.11" y2="267.04" stroke="#9a9a9a" stroke-width="0.45"/>
<line x1="56.88" y1="265.08" x2="59.39" y2="267.04" stroke="#9a9a9a" stroke-width="0.45"/>
<path d="M53.75,241.61 C54.85,241.61 55.63,243.56 55.94,245.52 C56.88,247.15 57.51,248.78 57.67,251.39 C57.98,255.30 58.14,260.19 57.98,263.45 C57.67,266.06 55.63,266.87 53.75,266.87 C51.87,266.87 49.83,266.06 49.52,263.45 C49.36,260.19 49.52,255.30 49.83,251.39 C49.99,248.78 50.62,247.15 51.56,245.52 C51.87,243.56 52.65,241.61 53.75,241.61 Z" fill="url(#mg)"/>
<path d="M53.75,241.61 C54.85,241.61 55.63,243.56 55.94,245.52 C56.88,247.15 57.51,248.78 57.67,251.39 C57.98,255.30 58.14,260.19 57.98,263.45 C57.67,266.06 55.63,266.87 53.75,266.87 C51.87,266.87 49.83,266.06 49.52,263.45 C49.36,260.19 49.52,255.30 49.83,251.39 C49.99,248.78 50.62,247.15 51.56,245.52 C51.87,243.56 52.65,241.61 53.75,241.61 Z" fill="#000" filter="url(#fur)"/>
<ellipse cx="53.75" cy="245.19" rx="1.57" ry="2.28" fill="#606060" opacity="0.4"/>
<ellipse cx="53.75" cy="247.80" rx="2.04" ry="0.82" fill="#505050" opacity="0.35"/>
<g filter="url(#bl)">
<ellipse cx="53.75" cy="257.26" rx="4.46" ry="3.59" fill="#2a26ea"/>
<ellipse cx="53.75" cy="257.26" rx="3.30" ry="2.65" fill="#35e0ee"/>
<ellipse cx="53.75" cy="257.26" rx="2.76" ry="2.22" fill="#48e048"/>
<ellipse cx="53.26" cy="256.28" rx="1.65" ry="1.63" fill="#2a26ea"/>
<ellipse cx="53.26" cy="256.28" rx="1.22" ry="1.21" fill="#35e0ee"/>
<ellipse cx="53.26" cy="256.28" rx="1.02" ry="1.01" fill="#48e048"/>
<ellipse cx="53.26" cy="256.28" rx="0.83" ry="0.82" fill="#f2ee22"/>
<ellipse cx="53.26" cy="256.28" rx="0.66" ry="0.65" fill="#e82018"/>
<ellipse cx="54.58" cy="265.41" rx="2.31" ry="1.96" fill="#2a26ea"/>
</g>
<rect x="63.80" y="239.00" width="15.80" height="32.60" fill="#040404"/>
<line x1="71.70" y1="266.38" x2="71.70" y2="271.44" stroke="#a8a8a8" stroke-width="0.45"/>
<line x1="68.70" y1="265.08" x2="66.30" y2="267.04" stroke="#9a9a9a" stroke-width="0.45"/>
<line x1="74.70" y1="265.08" x2="77.10" y2="267.04" stroke="#9a9a9a" stroke-width="0.45"/>
<path d="M71.70,241.61 C72.75,241.61 73.50,243.56 73.80,245.52 C74.70,247.15 75.30,248.78 75.45,251.39 C75.75,255.30 75.90,260.19 75.75,263.45 C75.45,266.06 73.50,266.87 71.70,266.87 C69.90,266.87 67.95,266.06 67.65,263.45 C67.50,260.19 67.65,255.30 67.95,251.39 C68.10,248.78 68.70,247.15 69.60,245.52 C69.90,243.56 70.65,241.61 71.70,241.61 Z" fill="url(#mg)"/>
<path d="M71.70,241.61 C72.75,241.61 73.50,243.56 73.80,245.52 C74.70,247.15 75.30,248.78 75.45,251.39 C75.75,255.30 75.90,260.19 75.75,263.45 C75.45,266.06 73.50,266.87 71.70,266.87 C69.90,266.87 67.95,266.06 67.65,263.45 C67.50,260.19 67.65,255.30 67.95,251.39 C68.10,248.78 68.70,247.15 69.60,245.52 C69.90,243.56 70.65,241.61 71.70,241.61 Z" fill="#000" filter="url(#fur)"/>
<ellipse cx="71.70" cy="245.19" rx="1.50" ry="2.28" fill="#606060" opacity="0.4"/>
<ellipse cx="71.70" cy="247.80" rx="1.95" ry="0.82" fill="#505050" opacity="0.35"/>
<g filter="url(#bl)">
<ellipse cx="71.70" cy="256.93" rx="4.27" ry="4.89" fill="#2a26ea"/>
<ellipse cx="71.70" cy="256.93" rx="3.16" ry="3.62" fill="#35e0ee"/>
<ellipse cx="71.70" cy="256.93" rx="2.64" ry="3.03" fill="#48e048"/>
<ellipse cx="71.70" cy="256.93" rx="2.13" ry="2.45" fill="#f2ee22"/>
<ellipse cx="71.70" cy="256.93" rx="1.71" ry="1.96" fill="#e82018"/>
<ellipse cx="71.70" cy="266.38" rx="2.37" ry="2.12" fill="#2a26ea"/>
<ellipse cx="71.70" cy="266.38" rx="1.75" ry="1.57" fill="#35e0ee"/>
<ellipse cx="71.70" cy="266.38" rx="1.47" ry="1.31" fill="#48e048"/>
<ellipse cx="71.70" cy="266.38" rx="1.18" ry="1.06" fill="#f2ee22"/>
<ellipse cx="71.70" cy="266.38" rx="0.95" ry="0.85" fill="#e82018"/>
</g>
<rect x="81.00" y="239.00" width="16.20" height="32.60" fill="#040404"/>
<line x1="89.10" y1="266.38" x2="89.10" y2="271.44" stroke="#a8a8a8" stroke-width="0.45"/>
<line x1="86.02" y1="265.08" x2="83.56" y2="267.04" stroke="#9a9a9a" stroke-width="0.45"/>
<line x1="92.18" y1="265.08" x2="94.64" y2="267.04" stroke="#9a9a9a" stroke-width="0.45"/>
<path d="M89.10,241.61 C90.18,241.61 90.95,243.56 91.25,245.52 C92.18,247.15 92.79,248.78 92.95,251.39 C93.26,255.30 93.41,260.19 93.26,263.45 C92.95,266.06 90.95,266.87 89.10,266.87 C87.25,266.87 85.25,266.06 84.94,263.45 C84.79,260.19 84.94,255.30 85.25,251.39 C85.41,248.78 86.02,247.15 86.95,245.52 C87.25,243.56 88.02,241.61 89.10,241.61 Z" fill="url(#mg)"/>
<path d="M89.10,241.61 C90.18,241.61 90.95,243.56 91.25,245.52 C92.18,247.15 92.79,248.78 92.95,251.39 C93.26,255.30 93.41,260.19 93.26,263.45 C92.95,266.06 90.95,266.87 89.10,266.87 C87.25,266.87 85.25,266.06 84.94,263.45 C84.79,260.19 84.94,255.30 85.25,251.39 C85.41,248.78 86.02,247.15 86.95,245.52 C87.25,243.56 88.02,241.61 89.10,241.61 Z" fill="#000" filter="url(#fur)"/>
<ellipse cx="89.10" cy="245.19" rx="1.54" ry="2.28" fill="#606060" opacity="0.4"/>
<ellipse cx="89.10" cy="247.80" rx="2.00" ry="0.82" fill="#505050" opacity="0.35"/>
<g filter="url(#bl)">
<ellipse cx="89.10" cy="254.32" rx="4.21" ry="2.28" fill="#2a26ea"/>
<ellipse cx="89.10" cy="254.32" rx="3.12" ry="1.69" fill="#35e0ee"/>
<ellipse cx="89.10" cy="254.32" rx="2.61" ry="1.41" fill="#48e048"/>
<ellipse cx="89.42" cy="261.82" rx="5.02" ry="7.17" fill="#2a26ea"/>
<ellipse cx="89.42" cy="261.82" rx="4.62" ry="6.60" fill="#35e0ee"/>
<ellipse cx="89.42" cy="261.82" rx="4.37" ry="6.24" fill="#48e048"/>
<ellipse cx="89.42" cy="261.82" rx="4.17" ry="5.95" fill="#f2ee22"/>
<ellipse cx="89.42" cy="261.82" rx="3.97" ry="5.67" fill="#e82018"/>
</g>
<rect x="99.40" y="239.00" width="14.60" height="32.60" fill="#040404"/>
<line x1="106.70" y1="266.38" x2="106.70" y2="271.44" stroke="#a8a8a8" stroke-width="0.45"/>
<line x1="103.93" y1="265.08" x2="101.71" y2="267.04" stroke="#9a9a9a" stroke-width="0.45"/>
<line x1="109.47" y1="265.08" x2="111.69" y2="267.04" stroke="#9a9a9a" stroke-width="0.45"/>
<path d="M106.70,241.61 C107.67,241.61 108.36,243.56 108.64,245.52 C109.47,247.15 110.03,248.78 110.17,251.39 C110.44,255.30 110.58,260.19 110.44,263.45 C110.17,266.06 108.36,266.87 106.70,266.87 C105.04,266.87 103.23,266.06 102.96,263.45 C102.82,260.19 102.96,255.30 103.23,251.39 C103.37,248.78 103.93,247.15 104.76,245.52 C105.04,243.56 105.73,241.61 106.70,241.61 Z" fill="url(#mg)"/>
<path d="M106.70,241.61 C107.67,241.61 108.36,243.56 108.64,245.52 C109.47,247.15 110.03,248.78 110.17,251.39 C110.44,255.30 110.58,260.19 110.44,263.45 C110.17,266.06 108.36,266.87 106.70,266.87 C105.04,266.87 103.23,266.06 102.96,263.45 C102.82,260.19 102.96,255.30 103.23,251.39 C103.37,248.78 103.93,247.15 104.76,245.52 C105.04,243.56 105.73,241.61 106.70,241.61 Z" fill="#000" filter="url(#fur)"/>
<ellipse cx="106.70" cy="245.19" rx="1.39" ry="2.28" fill="#606060" opacity="0.4"/>
<ellipse cx="106.70" cy="247.80" rx="1.80" ry="0.82" fill="#505050" opacity="0.35"/>
<g filter="url(#bl)">
<ellipse cx="106.41" cy="248.78" rx="3.50" ry="7.82" fill="#5a3ad0" opacity="0.75"/>
<ellipse cx="106.70" cy="250.74" rx="2.34" ry="3.91" fill="#2a26ea"/>
<ellipse cx="106.70" cy="250.74" rx="1.73" ry="2.89" fill="#35e0ee"/>
<ellipse cx="106.70" cy="258.56" rx="5.69" ry="11.08" fill="#2a26ea"/>
<ellipse cx="106.70" cy="258.56" rx="5.24" ry="10.20" fill="#35e0ee"/>
<ellipse cx="106.70" cy="258.56" rx="4.95" ry="9.64" fill="#48e048"/>
<ellipse cx="106.70" cy="258.56" rx="4.73" ry="9.20" fill="#f2ee22"/>
<ellipse cx="106.70" cy="258.56" rx="4.50" ry="8.76" fill="#e82018"/>
</g>
<rect x="115.30" y="239.00" width="14.80" height="32.60" fill="#040404"/>
<text x="122.70" y="255.93" font-size="4.6" text-anchor="middle" fill="#d0d0d0" stroke="#d0d0d0" stroke-width="0.06" textLength="8.6" lengthAdjust="spacingAndGlyphs">N/A</text>
<rect x="45.50" y="274.00" width="16.50" height="34.00" fill="#040404"/>
<line x1="53.75" y1="302.56" x2="53.75" y2="307.83" stroke="#a8a8a8" stroke-width="0.45"/>
<line x1="50.62" y1="301.20" x2="48.11" y2="303.24" stroke="#9a9a9a" stroke-width="0.45"/>
<line x1="56.88" y1="301.20" x2="59.39" y2="303.24" stroke="#9a9a9a" stroke-width="0.45"/>
<path d="M53.75,276.72 C54.85,276.72 55.63,278.76 55.94,280.80 C56.88,282.50 57.51,284.20 57.67,286.92 C57.98,291.00 58.14,296.10 57.98,299.50 C57.67,302.22 55.63,303.07 53.75,303.07 C51.87,303.07 49.83,302.22 49.52,299.50 C49.36,296.10 49.52,291.00 49.83,286.92 C49.99,284.20 50.62,282.50 51.56,280.80 C51.87,278.76 52.65,276.72 53.75,276.72 Z" fill="url(#mg)"/>
<path d="M53.75,276.72 C54.85,276.72 55.63,278.76 55.94,280.80 C56.88,282.50 57.51,284.20 57.67,286.92 C57.98,291.00 58.14,296.10 57.98,299.50 C57.67,302.22 55.63,303.07 53.75,303.07 C51.87,303.07 49.83,302.22 49.52,299.50 C49.36,296.10 49.52,291.00 49.83,286.92 C49.99,284.20 50.62,282.50 51.56,280.80 C51.87,278.76 52.65,276.72 53.75,276.72 Z" fill="#000" filter="url(#fur)"/>
<ellipse cx="53.75" cy="280.46" rx="1.57" ry="2.38" fill="#606060" opacity="0.4"/>
<ellipse cx="53.75" cy="283.18" rx="2.04" ry="0.85" fill="#505050" opacity="0.35"/>
<g filter="url(#bl)">
<ellipse cx="53.42" cy="293.72" rx="4.95" ry="4.42" fill="#2a26ea"/>
<ellipse cx="53.42" cy="293.72" rx="3.66" ry="3.27" fill="#35e0ee"/>
<ellipse cx="53.42" cy="293.72" rx="3.07" ry="2.74" fill="#48e048"/>
<ellipse cx="55.40" cy="293.04" rx="1.65" ry="1.70" fill="#2a26ea"/>
<ellipse cx="55.40" cy="293.04" rx="1.22" ry="1.26" fill="#35e0ee"/>
<ellipse cx="55.40" cy="293.04" rx="1.02" ry="1.05" fill="#48e048"/>
<ellipse cx="55.40" cy="293.04" rx="0.83" ry="0.85" fill="#f2ee22"/>
<ellipse cx="55.40" cy="293.04" rx="0.66" ry="0.68" fill="#e82018"/>
<ellipse cx="53.75" cy="302.56" rx="2.15" ry="2.38" fill="#2a26ea"/>
</g>
<rect x="63.80" y="274.00" width="15.80" height="34.00" fill="#040404"/>
<line x1="71.70" y1="302.56" x2="71.70" y2="307.83" stroke="#a8a8a8" stroke-width="0.45"/>
<line x1="68.70" y1="301.20" x2="66.30" y2="303.24" stroke="#9a9a9a" stroke-width="0.45"/>
<line x1="74.70" y1="301.20" x2="77.10" y2="303.24" stroke="#9a9a9a" stroke-width="0.45"/>
<path d="M71.70,276.72 C72.75,276.72 73.50,278.76 73.80,280.80 C74.70,282.50 75.30,284.20 75.45,286.92 C75.75,291.00 75.90,296.10 75.75,299.50 C75.45,302.22 73.50,303.07 71.70,303.07 C69.90,303.07 67.95,302.22 67.65,299.50 C67.50,296.10 67.65,291.00 67.95,286.92 C68.10,284.20 68.70,282.50 69.60,280.80 C69.90,278.76 70.65,276.72 71.70,276.72 Z" fill="url(#mg)"/>
<path d="M71.70,276.72 C72.75,276.72 73.50,278.76 73.80,280.80 C74.70,282.50 75.30,284.20 75.45,286.92 C75.75,291.00 75.90,296.10 75.75,299.50 C75.45,302.22 73.50,303.07 71.70,303.07 C69.90,303.07 67.95,302.22 67.65,299.50 C67.50,296.10 67.65,291.00 67.95,286.92 C68.10,284.20 68.70,282.50 69.60,280.80 C69.90,278.76 70.65,276.72 71.70,276.72 Z" fill="#000" filter="url(#fur)"/>
<ellipse cx="71.70" cy="280.46" rx="1.50" ry="2.38" fill="#606060" opacity="0.4"/>
<ellipse cx="71.70" cy="283.18" rx="1.95" ry="0.85" fill="#505050" opacity="0.35"/>
<g filter="url(#bl)">
<ellipse cx="71.38" cy="282.16" rx="2.21" ry="2.04" fill="#5a3ad0" opacity="0.75"/>
<ellipse cx="71.38" cy="295.08" rx="5.37" ry="9.18" fill="#2a26ea"/>
<ellipse cx="71.38" cy="295.08" rx="4.94" ry="8.45" fill="#35e0ee"/>
<ellipse cx="71.38" cy="295.08" rx="4.67" ry="7.99" fill="#48e048"/>
<ellipse cx="71.38" cy="295.08" rx="4.46" ry="7.62" fill="#f2ee22"/>
<ellipse cx="71.38" cy="295.08" rx="4.24" ry="7.25" fill="#e82018"/>
</g>
<rect x="81.00" y="274.00" width="16.20" height="34.00" fill="#040404"/>
<line x1="89.10" y1="302.56" x2="89.10" y2="307.83" stroke="#a8a8a8" stroke-width="0.45"/>
<line x1="86.02" y1="301.20" x2="83.56" y2="303.24" stroke="#9a9a9a" stroke-width="0.45"/>
<line x1="92.18" y1="301.20" x2="94.64" y2="303.24" stroke="#9a9a9a" stroke-width="0.45"/>
<path d="M89.10,276.72 C90.18,276.72 90.95,278.76 91.25,280.80 C92.18,282.50 92.79,284.20 92.95,286.92 C93.26,291.00 93.41,296.10 93.26,299.50 C92.95,302.22 90.95,303.07 89.10,303.07 C87.25,303.07 85.25,302.22 84.94,299.50 C84.79,296.10 84.94,291.00 85.25,286.92 C85.41,284.20 86.02,282.50 86.95,280.80 C87.25,278.76 88.02,276.72 89.10,276.72 Z" fill="url(#mg)"/>
<path d="M89.10,276.72 C90.18,276.72 90.95,278.76 91.25,280.80 C92.18,282.50 92.79,284.20 92.95,286.92 C93.26,291.00 93.41,296.10 93.26,299.50 C92.95,302.22 90.95,303.07 89.10,303.07 C87.25,303.07 85.25,302.22 84.94,299.50 C84.79,296.10 84.94,291.00 85.25,286.92 C85.41,284.20 86.02,282.50 86.95,280.80 C87.25,278.76 88.02,276.72 89.10,276.72 Z" fill="#000" filter="url(#fur)"/>
<ellipse cx="89.10" cy="280.46" rx="1.54" ry="2.38" fill="#606060" opacity="0.4"/>
<ellipse cx="89.10" cy="283.18" rx="2.00" ry="0.85" fill="#505050" opacity="0.35"/>
<g filter="url(#bl)">
<ellipse cx="89.10" cy="284.20" rx="3.24" ry="2.72" fill="#5a3ad0" opacity="0.75"/>
<ellipse cx="89.10" cy="295.76" rx="6.80" ry="10.88" fill="#2a26ea"/>
<ellipse cx="89.10" cy="295.76" rx="6.26" ry="10.01" fill="#35e0ee"/>
<ellipse cx="89.10" cy="295.76" rx="5.92" ry="9.47" fill="#48e048"/>
<ellipse cx="89.10" cy="295.76" rx="5.65" ry="9.03" fill="#f2ee22"/>
<ellipse cx="89.10" cy="295.76" rx="5.38" ry="8.60" fill="#e82018"/>
</g>
<rect x="99.40" y="274.00" width="14.60" height="34.00" fill="#040404"/>
<line x1="106.70" y1="302.56" x2="106.70" y2="307.83" stroke="#a8a8a8" stroke-width="0.45"/>
<line x1="103.93" y1="301.20" x2="101.71" y2="303.24" stroke="#9a9a9a" stroke-width="0.45"/>
<line x1="109.47" y1="301.20" x2="111.69" y2="303.24" stroke="#9a9a9a" stroke-width="0.45"/>
<path d="M106.70,276.72 C107.67,276.72 108.36,278.76 108.64,280.80 C109.47,282.50 110.03,284.20 110.17,286.92 C110.44,291.00 110.58,296.10 110.44,299.50 C110.17,302.22 108.36,303.07 106.70,303.07 C105.04,303.07 103.23,302.22 102.96,299.50 C102.82,296.10 102.96,291.00 103.23,286.92 C103.37,284.20 103.93,282.50 104.76,280.80 C105.04,278.76 105.73,276.72 106.70,276.72 Z" fill="url(#mg)"/>
<path d="M106.70,276.72 C107.67,276.72 108.36,278.76 108.64,280.80 C109.47,282.50 110.03,284.20 110.17,286.92 C110.44,291.00 110.58,296.10 110.44,299.50 C110.17,302.22 108.36,303.07 106.70,303.07 C105.04,303.07 103.23,302.22 102.96,299.50 C102.82,296.10 102.96,291.00 103.23,286.92 C103.37,284.20 103.93,282.50 104.76,280.80 C105.04,278.76 105.73,276.72 106.70,276.72 Z" fill="#000" filter="url(#fur)"/>
<ellipse cx="106.70" cy="280.46" rx="1.39" ry="2.38" fill="#606060" opacity="0.4"/>
<ellipse cx="106.70" cy="283.18" rx="1.80" ry="0.85" fill="#505050" opacity="0.35"/>
<g filter="url(#bl)">
<ellipse cx="106.70" cy="291.00" rx="6.72" ry="14.96" fill="#5a3ad0" opacity="0.75"/>
<ellipse cx="106.99" cy="294.40" rx="6.13" ry="11.56" fill="#2a26ea"/>
<ellipse cx="106.99" cy="294.40" rx="5.64" ry="10.64" fill="#35e0ee"/>
<ellipse cx="106.99" cy="294.40" rx="5.33" ry="10.06" fill="#48e048"/>
<ellipse cx="106.99" cy="294.40" rx="5.09" ry="9.59" fill="#f2ee22"/>
<ellipse cx="106.99" cy="294.40" rx="4.84" ry="9.13" fill="#e82018"/>
</g>
<rect x="115.30" y="274.00" width="14.80" height="34.00" fill="#040404"/>
<text x="122.70" y="291.63" font-size="4.6" text-anchor="middle" fill="#d0d0d0" stroke="#d0d0d0" stroke-width="0.06" textLength="8.6" lengthAdjust="spacingAndGlyphs">N/A</text>
<rect x="45.50" y="309.30" width="16.50" height="31.30" fill="#040404"/>
<line x1="53.75" y1="335.59" x2="53.75" y2="340.44" stroke="#a8a8a8" stroke-width="0.45"/>
<line x1="50.62" y1="334.34" x2="48.11" y2="336.22" stroke="#9a9a9a" stroke-width="0.45"/>
<line x1="56.88" y1="334.34" x2="59.39" y2="336.22" stroke="#9a9a9a" stroke-width="0.45"/>
<path d="M53.75,311.80 C54.85,311.80 55.63,313.68 55.94,315.56 C56.88,317.12 57.51,318.69 57.67,321.19 C57.98,324.95 58.14,329.65 57.98,332.78 C57.67,335.28 55.63,336.06 53.75,336.06 C51.87,336.06 49.83,335.28 49.52,332.78 C49.36,329.65 49.52,324.95 49.83,321.19 C49.99,318.69 50.62,317.12 51.56,315.56 C51.87,313.68 52.65,311.80 53.75,311.80 Z" fill="url(#mg)"/>
<path d="M53.75,311.80 C54.85,311.80 55.63,313.68 55.94,315.56 C56.88,317.12 57.51,318.69 57.67,321.19 C57.98,324.95 58.14,329.65 57.98,332.78 C57.67,335.28 55.63,336.06 53.75,336.06 C51.87,336.06 49.83,335.28 49.52,332.78 C49.36,329.65 49.52,324.95 49.83,321.19 C49.99,318.69 50.62,317.12 51.56,315.56 C51.87,313.68 52.65,311.80 53.75,311.80 Z" fill="#000" filter="url(#fur)"/>
<ellipse cx="53.75" cy="315.25" rx="1.57" ry="2.19" fill="#606060" opacity="0.4"/>
<ellipse cx="53.75" cy="317.75" rx="2.04" ry="0.78" fill="#505050" opacity="0.35"/>
<g filter="url(#bl)">
<ellipse cx="54.08" cy="324.01" rx="3.80" ry="3.76" fill="#2a26ea"/>
<ellipse cx="54.08" cy="324.01" rx="2.81" ry="2.78" fill="#35e0ee"/>
<ellipse cx="56.06" cy="323.38" rx="1.65" ry="1.88" fill="#2a26ea"/>
<ellipse cx="56.06" cy="323.38" rx="1.22" ry="1.39" fill="#35e0ee"/>
<ellipse cx="56.06" cy="323.38" rx="1.02" ry="1.16" fill="#48e048"/>
<ellipse cx="56.06" cy="323.38" rx="0.83" ry="0.94" fill="#f2ee22"/>
<ellipse cx="56.06" cy="323.38" rx="0.66" ry="0.75" fill="#e82018"/>
<ellipse cx="53.75" cy="335.59" rx="1.65" ry="1.88" fill="#2a26ea"/>
<ellipse cx="53.75" cy="335.59" rx="1.22" ry="1.39" fill="#35e0ee"/>
<ellipse cx="53.75" cy="335.59" rx="1.02" ry="1.16" fill="#48e048"/>
<ellipse cx="53.75" cy="335.59" rx="0.83" ry="0.94" fill="#f2ee22"/>
</g>
<rect x="63.80" y="309.30" width="15.80" height="31.30" fill="#040404"/>
<line x1="71.70" y1="335.59" x2="71.70" y2="340.44" stroke="#a8a8a8" stroke-width="0.45"/>
<line x1="68.70" y1="334.34" x2="66.30" y2="336.22" stroke="#9a9a9a" stroke-width="0.45"/>
<line x1="74.70" y1="334.34" x2="77.10" y2="336.22" stroke="#9a9a9a" stroke-width="0.45"/>
<path d="M71.70,311.80 C72.75,311.80 73.50,313.68 73.80,315.56 C74.70,317.12 75.30,318.69 75.45,321.19 C75.75,324.95 75.90,329.65 75.75,332.78 C75.45,335.28 73.50,336.06 71.70,336.06 C69.90,336.06 67.95,335.28 67.65,332.78 C67.50,329.65 67.65,324.95 67.95,321.19 C68.10,318.69 68.70,317.12 69.60,315.56 C69.90,313.68 70.65,311.80 71.70,311.80 Z" fill="url(#mg)"/>
<path d="M71.70,311.80 C72.75,311.80 73.50,313.68 73.80,315.56 C74.70,317.12 75.30,318.69 75.45,321.19 C75.75,324.95 75.90,329.65 75.75,332.78 C75.45,335.28 73.50,336.06 71.70,336.06 C69.90,336.06 67.95,335.28 67.65,332.78 C67.50,329.65 67.65,324.95 67.95,321.19 C68.10,318.69 68.70,317.12 69.60,315.56 C69.90,313.68 70.65,311.80 71.70,311.80 Z" fill="#000" filter="url(#fur)"/>
<ellipse cx="71.70" cy="315.25" rx="1.50" ry="2.19" fill="#606060" opacity="0.4"/>
<ellipse cx="71.70" cy="317.75" rx="1.95" ry="0.78" fill="#505050" opacity="0.35"/>
<g filter="url(#bl)">
<ellipse cx="72.02" cy="324.95" rx="3.95" ry="5.01" fill="#2a26ea"/>
<ellipse cx="72.02" cy="324.95" rx="3.63" ry="4.61" fill="#35e0ee"/>
<ellipse cx="72.02" cy="324.95" rx="3.44" ry="4.36" fill="#48e048"/>
<ellipse cx="72.02" cy="324.95" rx="3.28" ry="4.16" fill="#f2ee22"/>
<ellipse cx="72.02" cy="324.95" rx="3.12" ry="3.96" fill="#e82018"/>
<ellipse cx="71.70" cy="334.97" rx="1.58" ry="1.57" fill="#2a26ea"/>
<ellipse cx="71.70" cy="334.97" rx="1.17" ry="1.16" fill="#35e0ee"/>
<ellipse cx="71.70" cy="334.97" rx="0.98" ry="0.97" fill="#48e048"/>
<ellipse cx="71.70" cy="334.97" rx="0.79" ry="0.78" fill="#f2ee22"/>
<ellipse cx="71.70" cy="334.97" rx="0.63" ry="0.63" fill="#e82018"/>
</g>
<rect x="81.00" y="309.30" width="16.20" height="31.30" fill="#040404"/>
<line x1="89.10" y1="335.59" x2="89.10" y2="340.44" stroke="#a8a8a8" stroke-width="0.45"/>
<line x1="86.02" y1="334.34" x2="83.56" y2="336.22" stroke="#9a9a9a" stroke-width="0.45"/>
<line x1="92.18" y1="334.34" x2="94.64" y2="336.22" stroke="#9a9a9a" stroke-width="0.45"/>
<path d="M89.10,311.80 C90.18,311.80 90.95,313.68 91.25,315.56 C92.18,317.12 92.79,318.69 92.95,321.19 C93.26,324.95 93.41,329.65 93.26,332.78 C92.95,335.28 90.95,336.06 89.10,336.06 C87.25,336.06 85.25,335.28 84.94,332.78 C84.79,329.65 84.94,324.95 85.25,321.19 C85.41,318.69 86.02,317.12 86.95,315.56 C87.25,313.68 88.02,311.80 89.10,311.80 Z" fill="url(#mg)"/>
<path d="M89.10,311.80 C90.18,311.80 90.95,313.68 91.25,315.56 C92.18,317.12 92.79,318.69 92.95,321.19 C93.26,324.95 93.41,329.65 93.26,332.78 C92.95,335.28 90.95,336.06 89.10,336.06 C87.25,336.06 85.25,335.28 84.94,332.78 C84.79,329.65 84.94,324.95 85.25,321.19 C85.41,318.69 86.02,317.12 86.95,315.56 C87.25,313.68 88.02,311.80 89.10,311.80 Z" fill="#000" filter="url(#fur)"/>
<ellipse cx="89.10" cy="315.25" rx="1.54" ry="2.19" fill="#606060" opacity="0.4"/>
<ellipse cx="89.10" cy="317.75" rx="2.00" ry="0.78" fill="#505050" opacity="0.35"/>
<g filter="url(#bl)">
<ellipse cx="88.45" cy="325.58" rx="2.11" ry="2.19" fill="#2a26ea"/>
<ellipse cx="89.42" cy="329.96" rx="1.94" ry="2.19" fill="#2a26ea"/>
</g>
<rect x="99.40" y="309.30" width="14.60" height="31.30" fill="#040404"/>
<text x="106.70" y="325.58" font-size="4.6" text-anchor="middle" fill="#d0d0d0" stroke="#d0d0d0" stroke-width="0.06" textLength="8.6" lengthAdjust="spacingAndGlyphs">N/A</text>
<rect x="45.50" y="342.30" width="16.50" height="33.10" fill="#040404"/>
<line x1="53.75" y1="370.10" x2="53.75" y2="375.23" stroke="#a8a8a8" stroke-width="0.45"/>
<line x1="50.62" y1="368.78" x2="48.11" y2="370.77" stroke="#9a9a9a" stroke-width="0.45"/>
<line x1="56.88" y1="368.78" x2="59.39" y2="370.77" stroke="#9a9a9a" stroke-width="0.45"/>
<path d="M53.75,344.95 C54.85,344.95 55.63,346.93 55.94,348.92 C56.88,350.57 57.51,352.23 57.67,354.88 C57.98,358.85 58.14,363.81 57.98,367.12 C57.67,369.77 55.63,370.60 53.75,370.60 C51.87,370.60 49.83,369.77 49.52,367.12 C49.36,363.81 49.52,358.85 49.83,354.88 C49.99,352.23 50.62,350.57 51.56,348.92 C51.87,346.93 52.65,344.95 53.75,344.95 Z" fill="url(#mg)"/>
<path d="M53.75,344.95 C54.85,344.95 55.63,346.93 55.94,348.92 C56.88,350.57 57.51,352.23 57.67,354.88 C57.98,358.85 58.14,363.81 57.98,367.12 C57.67,369.77 55.63,370.60 53.75,370.60 C51.87,370.60 49.83,369.77 49.52,367.12 C49.36,363.81 49.52,358.85 49.83,354.88 C49.99,352.23 50.62,350.57 51.56,348.92 C51.87,346.93 52.65,344.95 53.75,344.95 Z" fill="#000" filter="url(#fur)"/>
<ellipse cx="53.75" cy="348.59" rx="1.57" ry="2.32" fill="#606060" opacity="0.4"/>
<ellipse cx="53.75" cy="351.24" rx="2.04" ry="0.83" fill="#505050" opacity="0.35"/>
<g filter="url(#bl)">
<ellipse cx="53.75" cy="360.50" rx="3.63" ry="6.62" fill="#2a26ea"/>
<ellipse cx="53.75" cy="360.50" rx="2.69" ry="4.90" fill="#35e0ee"/>
<ellipse cx="54.58" cy="356.20" rx="1.65" ry="1.65" fill="#2a26ea"/>
<ellipse cx="54.58" cy="356.20" rx="1.22" ry="1.22" fill="#35e0ee"/>
<ellipse cx="54.58" cy="356.20" rx="1.02" ry="1.03" fill="#48e048"/>
<ellipse cx="54.58" cy="356.20" rx="0.83" ry="0.83" fill="#f2ee22"/>
<ellipse cx="54.58" cy="356.20" rx="0.66" ry="0.66" fill="#e82018"/>
<ellipse cx="52.10" cy="360.84" rx="1.32" ry="1.65" fill="#2a26ea"/>
<ellipse cx="52.10" cy="360.84" rx="0.98" ry="1.22" fill="#35e0ee"/>
<ellipse cx="52.10" cy="360.84" rx="0.82" ry="1.03" fill="#48e048"/>
<ellipse cx="52.10" cy="360.84" rx="0.66" ry="0.83" fill="#f2ee22"/>
<ellipse cx="53.75" cy="368.45" rx="1.65" ry="1.99" fill="#2a26ea"/>
<ellipse cx="53.75" cy="368.45" rx="1.22" ry="1.47" fill="#35e0ee"/>
<ellipse cx="53.75" cy="368.45" rx="1.02" ry="1.23" fill="#48e048"/>
<ellipse cx="53.75" cy="368.45" rx="0.83" ry="0.99" fill="#f2ee22"/>
</g>
<rect x="63.80" y="342.30" width="15.80" height="33.10" fill="#040404"/>
<line x1="71.70" y1="370.10" x2="71.70" y2="375.23" stroke="#a8a8a8" stroke-width="0.45"/>
<line x1="68.70" y1="368.78" x2="66.30" y2="370.77" stroke="#9a9a9a" stroke-width="0.45"/>
<line x1="74.70" y1="368.78" x2="77.10" y2="370.77" stroke="#9a9a9a" stroke-width="0.45"/>
<path d="M71.70,344.95 C72.75,344.95 73.50,346.93 73.80,348.92 C74.70,350.57 75.30,352.23 75.45,354.88 C75.75,358.85 75.90,363.81 75.75,367.12 C75.45,369.77 73.50,370.60 71.70,370.60 C69.90,370.60 67.95,369.77 67.65,367.12 C67.50,363.81 67.65,358.85 67.95,354.88 C68.10,352.23 68.70,350.57 69.60,348.92 C69.90,346.93 70.65,344.95 71.70,344.95 Z" fill="url(#mg)"/>
<path d="M71.70,344.95 C72.75,344.95 73.50,346.93 73.80,348.92 C74.70,350.57 75.30,352.23 75.45,354.88 C75.75,358.85 75.90,363.81 75.75,367.12 C75.45,369.77 73.50,370.60 71.70,370.60 C69.90,370.60 67.95,369.77 67.65,367.12 C67.50,363.81 67.65,358.85 67.95,354.88 C68.10,352.23 68.70,350.57 69.60,348.92 C69.90,346.93 70.65,344.95 71.70,344.95 Z" fill="#000" filter="url(#fur)"/>
<ellipse cx="71.70" cy="348.59" rx="1.50" ry="2.32" fill="#606060" opacity="0.4"/>
<ellipse cx="71.70" cy="351.24" rx="1.95" ry="0.83" fill="#505050" opacity="0.35"/>
<g filter="url(#bl)">
<ellipse cx="71.70" cy="360.50" rx="3.95" ry="5.96" fill="#2a26ea"/>
<ellipse cx="71.70" cy="360.50" rx="2.92" ry="4.41" fill="#35e0ee"/>
<ellipse cx="71.70" cy="360.50" rx="2.45" ry="3.69" fill="#48e048"/>
<ellipse cx="70.12" cy="358.85" rx="1.42" ry="1.65" fill="#2a26ea"/>
<ellipse cx="70.12" cy="358.85" rx="1.05" ry="1.22" fill="#35e0ee"/>
<ellipse cx="70.12" cy="358.85" rx="0.88" ry="1.03" fill="#48e048"/>
<ellipse cx="70.12" cy="358.85" rx="0.71" ry="0.83" fill="#f2ee22"/>
<ellipse cx="70.12" cy="358.85" rx="0.57" ry="0.66" fill="#e82018"/>
<ellipse cx="73.91" cy="356.86" rx="1.42" ry="1.65" fill="#2a26ea"/>
<ellipse cx="73.91" cy="356.86" rx="1.05" ry="1.22" fill="#35e0ee"/>
<ellipse cx="73.91" cy="356.86" rx="0.88" ry="1.03" fill="#48e048"/>
<ellipse cx="73.91" cy="356.86" rx="0.71" ry="0.83" fill="#f2ee22"/>
<ellipse cx="73.91" cy="356.86" rx="0.57" ry="0.66" fill="#e82018"/>
<ellipse cx="71.70" cy="368.78" rx="1.90" ry="1.99" fill="#2a26ea"/>
<ellipse cx="71.70" cy="368.78" rx="1.40" ry="1.47" fill="#35e0ee"/>
<ellipse cx="71.70" cy="368.78" rx="1.18" ry="1.23" fill="#48e048"/>
<ellipse cx="71.70" cy="368.78" rx="0.95" ry="0.99" fill="#f2ee22"/>
<ellipse cx="71.70" cy="368.78" rx="0.76" ry="0.79" fill="#e82018"/>
</g>
<rect x="81.00" y="342.30" width="16.20" height="33.10" fill="#040404"/>
<line x1="89.10" y1="370.10" x2="89.10" y2="375.23" stroke="#a8a8a8" stroke-width="0.45"/>
<line x1="86.02" y1="368.78" x2="83.56" y2="370.77" stroke="#9a9a9a" stroke-width="0.45"/>
<line x1="92.18" y1="368.78" x2="94.64" y2="370.77" stroke="#9a9a9a" stroke-width="0.45"/>
<path d="M89.10,344.95 C90.18,344.95 90.95,346.93 91.25,348.92 C92.18,350.57 92.79,352.23 92.95,354.88 C93.26,358.85 93.41,363.81 93.26,367.12 C92.95,369.77 90.95,370.60 89.10,370.60 C87.25,370.60 85.25,369.77 84.94,367.12 C84.79,363.81 84.94,358.85 85.25,354.88 C85.41,352.23 86.02,350.57 86.95,348.92 C87.25,346.93 88.02,344.95 89.10,344.95 Z" fill="url(#mg)"/>
<path d="M89.10,344.95 C90.18,344.95 90.95,346.93 91.25,348.92 C92.18,350.57 92.79,352.23 92.95,354.88 C93.26,358.85 93.41,363.81 93.26,367.12 C92.95,369.77 90.95,370.60 89.10,370.60 C87.25,370.60 85.25,369.77 84.94,367.12 C84.79,363.81 84.94,358.85 85.25,354.88 C85.41,352.23 86.02,350.57 86.95,348.92 C87.25,346.93 88.02,344.95 89.10,344.95 Z" fill="#000" filter="url(#fur)"/>
<ellipse cx="89.10" cy="348.59" rx="1.54" ry="2.32" fill="#606060" opacity="0.4"/>
<ellipse cx="89.10" cy="351.24" rx="2.00" ry="0.83" fill="#505050" opacity="0.35"/>
<g filter="url(#bl)">
<ellipse cx="91.04" cy="357.86" rx="2.11" ry="1.99" fill="#2a26ea"/>
<ellipse cx="88.45" cy="361.83" rx="2.59" ry="1.65" fill="#2a26ea"/>
<ellipse cx="89.10" cy="367.46" rx="1.94" ry="2.65" fill="#2a26ea"/>
<ellipse cx="89.10" cy="367.46" rx="1.44" ry="1.96" fill="#35e0ee"/>
<ellipse cx="89.10" cy="367.46" rx="1.21" ry="1.64" fill="#48e048"/>
<ellipse cx="89.10" cy="367.46" rx="0.97" ry="1.32" fill="#f2ee22"/>
</g>
<rect x="99.40" y="342.30" width="14.60" height="33.10" fill="#040404"/>
<line x1="106.70" y1="370.10" x2="106.70" y2="375.23" stroke="#a8a8a8" stroke-width="0.45"/>
<line x1="103.93" y1="368.78" x2="101.71" y2="370.77" stroke="#9a9a9a" stroke-width="0.45"/>
<line x1="109.47" y1="368.78" x2="111.69" y2="370.77" stroke="#9a9a9a" stroke-width="0.45"/>
<path d="M106.70,344.95 C107.67,344.95 108.36,346.93 108.64,348.92 C109.47,350.57 110.03,352.23 110.17,354.88 C110.44,358.85 110.58,363.81 110.44,367.12 C110.17,369.77 108.36,370.60 106.70,370.60 C105.04,370.60 103.23,369.77 102.96,367.12 C102.82,363.81 102.96,358.85 103.23,354.88 C103.37,352.23 103.93,350.57 104.76,348.92 C105.04,346.93 105.73,344.95 106.70,344.95 Z" fill="url(#mg)"/>
<path d="M106.70,344.95 C107.67,344.95 108.36,346.93 108.64,348.92 C109.47,350.57 110.03,352.23 110.17,354.88 C110.44,358.85 110.58,363.81 110.44,367.12 C110.17,369.77 108.36,370.60 106.70,370.60 C105.04,370.60 103.23,369.77 102.96,367.12 C102.82,363.81 102.96,358.85 103.23,354.88 C103.37,352.23 103.93,350.57 104.76,348.92 C105.04,346.93 105.73,344.95 106.70,344.95 Z" fill="#000" filter="url(#fur)"/>
<ellipse cx="106.70" cy="348.59" rx="1.39" ry="2.32" fill="#606060" opacity="0.4"/>
<ellipse cx="106.70" cy="351.24" rx="1.80" ry="0.83" fill="#505050" opacity="0.35"/>
<rect x="116.00" y="342.30" width="15.20" height="33.10" fill="#040404"/>
<line x1="123.60" y1="370.10" x2="123.60" y2="375.23" stroke="#a8a8a8" stroke-width="0.45"/>
<line x1="120.71" y1="368.78" x2="118.40" y2="370.77" stroke="#9a9a9a" stroke-width="0.45"/>
<line x1="126.49" y1="368.78" x2="128.80" y2="370.77" stroke="#9a9a9a" stroke-width="0.45"/>
<path d="M123.60,344.95 C124.61,344.95 125.33,346.93 125.62,348.92 C126.49,350.57 127.07,352.23 127.21,354.88 C127.50,358.85 127.64,363.81 127.50,367.12 C127.21,369.77 125.33,370.60 123.60,370.60 C121.87,370.60 119.99,369.77 119.70,367.12 C119.56,363.81 119.70,358.85 119.99,354.88 C120.13,352.23 120.71,350.57 121.58,348.92 C121.87,346.93 122.59,344.95 123.60,344.95 Z" fill="url(#mg)"/>
<path d="M123.60,344.95 C124.61,344.95 125.33,346.93 125.62,348.92 C126.49,350.57 127.07,352.23 127.21,354.88 C127.50,358.85 127.64,363.81 127.50,367.12 C127.21,369.77 125.33,370.60 123.60,370.60 C121.87,370.60 119.99,369.77 119.70,367.12 C119.56,363.81 119.70,358.85 119.99,354.88 C120.13,352.23 120.71,350.57 121.58,348.92 C121.87,346.93 122.59,344.95 123.60,344.95 Z" fill="#000" filter="url(#fur)"/>
<ellipse cx="123.60" cy="348.59" rx="1.44" ry="2.32" fill="#606060" opacity="0.4"/>
<ellipse cx="123.60" cy="351.24" rx="1.88" ry="0.83" fill="#505050" opacity="0.35"/>
<rect x="133.00" y="342.30" width="15.40" height="33.10" fill="#040404"/>
<line x1="140.70" y1="370.10" x2="140.70" y2="375.23" stroke="#a8a8a8" stroke-width="0.45"/>
<line x1="137.77" y1="368.78" x2="135.43" y2="370.77" stroke="#9a9a9a" stroke-width="0.45"/>
<line x1="143.63" y1="368.78" x2="145.97" y2="370.77" stroke="#9a9a9a" stroke-width="0.45"/>
<path d="M140.70,344.95 C141.72,344.95 142.46,346.93 142.75,348.92 C143.63,350.57 144.21,352.23 144.36,354.88 C144.65,358.85 144.80,363.81 144.65,367.12 C144.36,369.77 142.46,370.60 140.70,370.60 C138.94,370.60 137.04,369.77 136.75,367.12 C136.60,363.81 136.75,358.85 137.04,354.88 C137.19,352.23 137.77,350.57 138.65,348.92 C138.94,346.93 139.68,344.95 140.70,344.95 Z" fill="url(#mg)"/>
<path d="M140.70,344.95 C141.72,344.95 142.46,346.93 142.75,348.92 C143.63,350.57 144.21,352.23 144.36,354.88 C144.65,358.85 144.80,363.81 144.65,367.12 C144.36,369.77 142.46,370.60 140.70,370.60 C138.94,370.60 137.04,369.77 136.75,367.12 C136.60,363.81 136.75,358.85 137.04,354.88 C137.19,352.23 137.77,350.57 138.65,348.92 C138.94,346.93 139.68,344.95 140.70,344.95 Z" fill="#000" filter="url(#fur)"/>
<ellipse cx="140.70" cy="348.59" rx="1.46" ry="2.32" fill="#606060" opacity="0.4"/>
<ellipse cx="140.70" cy="351.24" rx="1.90" ry="0.83" fill="#505050" opacity="0.35"/>
<rect x="150.00" y="342.30" width="15.60" height="33.10" fill="#040404"/>
<line x1="157.80" y1="370.10" x2="157.80" y2="375.23" stroke="#a8a8a8" stroke-width="0.45"/>
<line x1="154.84" y1="368.78" x2="152.46" y2="370.77" stroke="#9a9a9a" stroke-width="0.45"/>
<line x1="160.76" y1="368.78" x2="163.14" y2="370.77" stroke="#9a9a9a" stroke-width="0.45"/>
<path d="M157.80,344.95 C158.84,344.95 159.58,346.93 159.87,348.92 C160.76,350.57 161.36,352.23 161.50,354.88 C161.80,358.85 161.95,363.81 161.80,367.12 C161.50,369.77 159.58,370.60 157.80,370.60 C156.02,370.60 154.09,369.77 153.80,367.12 C153.65,363.81 153.80,358.85 154.09,354.88 C154.24,352.23 154.84,350.57 155.73,348.92 C156.02,346.93 156.76,344.95 157.80,344.95 Z" fill="url(#mg)"/>
<path d="M157.80,344.95 C158.84,344.95 159.58,346.93 159.87,348.92 C160.76,350.57 161.36,352.23 161.50,354.88 C161.80,358.85 161.95,363.81 161.80,367.12 C161.50,369.77 159.58,370.60 157.80,370.60 C156.02,370.60 154.09,369.77 153.80,367.12 C153.65,363.81 153.80,358.85 154.09,354.88 C154.24,352.23 154.84,350.57 155.73,348.92 C156.02,346.93 156.76,344.95 157.80,344.95 Z" fill="#000" filter="url(#fur)"/>
<ellipse cx="157.80" cy="348.59" rx="1.48" ry="2.32" fill="#606060" opacity="0.4"/>
<ellipse cx="157.80" cy="351.24" rx="1.93" ry="0.83" fill="#505050" opacity="0.35"/>
<rect x="166.60" y="342.30" width="14.80" height="33.10" fill="#040404"/>
<line x1="174.00" y1="370.10" x2="174.00" y2="375.23" stroke="#a8a8a8" stroke-width="0.45"/>
<line x1="171.19" y1="368.78" x2="168.94" y2="370.77" stroke="#9a9a9a" stroke-width="0.45"/>
<line x1="176.81" y1="368.78" x2="179.06" y2="370.77" stroke="#9a9a9a" stroke-width="0.45"/>
<path d="M174.00,344.95 C174.98,344.95 175.69,346.93 175.97,348.92 C176.81,350.57 177.37,352.23 177.52,354.88 C177.80,358.85 177.94,363.81 177.80,367.12 C177.52,369.77 175.69,370.60 174.00,370.60 C172.31,370.60 170.48,369.77 170.20,367.12 C170.06,363.81 170.20,358.85 170.48,354.88 C170.63,352.23 171.19,350.57 172.03,348.92 C172.31,346.93 173.02,344.95 174.00,344.95 Z" fill="url(#mg)"/>
<path d="M174.00,344.95 C174.98,344.95 175.69,346.93 175.97,348.92 C176.81,350.57 177.37,352.23 177.52,354.88 C177.80,358.85 177.94,363.81 177.80,367.12 C177.52,369.77 175.69,370.60 174.00,370.60 C172.31,370.60 170.48,369.77 170.20,367.12 C170.06,363.81 170.20,358.85 170.48,354.88 C170.63,352.23 171.19,350.57 172.03,348.92 C172.31,346.93 173.02,344.95 174.00,344.95 Z" fill="#000" filter="url(#fur)"/>
<ellipse cx="174.00" cy="348.59" rx="1.41" ry="2.32" fill="#606060" opacity="0.4"/>
<ellipse cx="174.00" cy="351.24" rx="1.83" ry="0.83" fill="#505050" opacity="0.35"/>
<text x="22.40" y="253.83" font-size="6.7" text-anchor="middle" fill="#1a1a1a" textLength="21.5" lengthAdjust="spacingAndGlyphs">TCD-BM</text>
<text x="22.40" y="260.13" font-size="6.7" text-anchor="middle" fill="#1a1a1a" textLength="9.2" lengthAdjust="spacingAndGlyphs">IgG</text>
<text x="22.40" y="287.38" font-size="6.7" text-anchor="middle" fill="#1a1a1a" textLength="21.5" lengthAdjust="spacingAndGlyphs">TCD-BM</text>
<text x="22.40" y="293.68" font-size="6.7" text-anchor="middle" fill="#1a1a1a" textLength="20" lengthAdjust="spacingAndGlyphs">anti-IL-2</text>
<text x="22.40" y="299.98" font-size="6.7" text-anchor="middle" fill="#1a1a1a" textLength="30.7" lengthAdjust="spacingAndGlyphs">(JES6-1A12)</text>
<text x="22.40" y="324.23" font-size="6.7" text-anchor="middle" fill="#1a1a1a" textLength="30" lengthAdjust="spacingAndGlyphs">Splenocytes</text>
<text x="22.40" y="330.53" font-size="6.7" text-anchor="middle" fill="#1a1a1a" textLength="9.2" lengthAdjust="spacingAndGlyphs">IgG</text>
<text x="22.40" y="354.98" font-size="6.7" text-anchor="middle" fill="#1a1a1a" textLength="30" lengthAdjust="spacingAndGlyphs">Splenocytes</text>
<text x="22.40" y="361.28" font-size="6.7" text-anchor="middle" fill="#1a1a1a" textLength="20" lengthAdjust="spacingAndGlyphs">anti-IL-2</text>
<text x="22.40" y="367.58" font-size="6.7" text-anchor="middle" fill="#1a1a1a" textLength="30.7" lengthAdjust="spacingAndGlyphs">(JES6-1A12)</text>
<text x="53.90" y="384.19" font-size="7.0" text-anchor="middle" fill="#1a1a1a" textLength="6.6" lengthAdjust="spacingAndGlyphs">d3</text>
<text x="70.60" y="384.19" font-size="7.0" text-anchor="middle" fill="#1a1a1a" textLength="6.6" lengthAdjust="spacingAndGlyphs">d6</text>
<text x="87.50" y="384.19" font-size="7.0" text-anchor="middle" fill="#1a1a1a" textLength="6.6" lengthAdjust="spacingAndGlyphs">d9</text>
<text x="103.90" y="384.19" font-size="7.0" text-anchor="middle" fill="#1a1a1a" textLength="9.6" lengthAdjust="spacingAndGlyphs">d11</text>
<text x="121.10" y="384.19" font-size="7.0" text-anchor="middle" fill="#1a1a1a" textLength="9.6" lengthAdjust="spacingAndGlyphs">d15</text>
<text x="137.70" y="384.19" font-size="7.0" text-anchor="middle" fill="#1a1a1a" textLength="9.6" lengthAdjust="spacingAndGlyphs">d20</text>
<text x="154.70" y="384.19" font-size="7.0" text-anchor="middle" fill="#1a1a1a" textLength="9.6" lengthAdjust="spacingAndGlyphs">d25</text>
<text x="171.60" y="384.19" font-size="7.0" text-anchor="middle" fill="#1a1a1a" textLength="9.6" lengthAdjust="spacingAndGlyphs">d30</text>
<line x1="51.00" y1="388.20" x2="175.50" y2="388.20" stroke="#333" stroke-width="1.2"/>
<text x="111.90" y="396.71" font-size="6.8" text-anchor="middle" fill="#1a1a1a" textLength="37" lengthAdjust="spacingAndGlyphs">Days post HCT</text>
<rect x="42.20" y="433.30" width="16.10" height="32.10" fill="#040404"/>
<line x1="50.25" y1="460.26" x2="50.25" y2="465.24" stroke="#a8a8a8" stroke-width="0.45"/>
<line x1="47.35" y1="458.98" x2="45.03" y2="460.91" stroke="#9a9a9a" stroke-width="0.45"/>
<line x1="53.15" y1="458.98" x2="55.47" y2="460.91" stroke="#9a9a9a" stroke-width="0.45"/>
<path d="M50.25,435.87 C51.26,435.87 51.99,437.79 52.28,439.72 C53.15,441.32 53.73,442.93 53.87,445.50 C54.16,449.35 54.31,454.16 54.16,457.38 C53.87,459.94 51.99,460.75 50.25,460.75 C48.51,460.75 46.63,459.94 46.34,457.38 C46.19,454.16 46.34,449.35 46.63,445.50 C46.77,442.93 47.35,441.32 48.22,439.72 C48.51,437.79 49.24,435.87 50.25,435.87 Z" fill="url(#mg)"/>
<path d="M50.25,435.87 C51.26,435.87 51.99,437.79 52.28,439.72 C53.15,441.32 53.73,442.93 53.87,445.50 C54.16,449.35 54.31,454.16 54.16,457.38 C53.87,459.94 51.99,460.75 50.25,460.75 C48.51,460.75 46.63,459.94 46.34,457.38 C46.19,454.16 46.34,449.35 46.63,445.50 C46.77,442.93 47.35,441.32 48.22,439.72 C48.51,437.79 49.24,435.87 50.25,435.87 Z" fill="#000" filter="url(#fur)"/>
<ellipse cx="50.25" cy="439.40" rx="1.45" ry="2.25" fill="#606060" opacity="0.4"/>
<ellipse cx="50.25" cy="441.97" rx="1.88" ry="0.80" fill="#505050" opacity="0.35"/>
<g filter="url(#bl)">
<ellipse cx="50.57" cy="450.95" rx="4.51" ry="6.42" fill="#2a26ea"/>
<ellipse cx="51.05" cy="447.10" rx="1.29" ry="1.60" fill="#2a26ea"/>
<ellipse cx="51.05" cy="447.10" rx="0.95" ry="1.19" fill="#35e0ee"/>
<ellipse cx="51.05" cy="447.10" rx="0.80" ry="1.00" fill="#48e048"/>
<ellipse cx="51.05" cy="447.10" rx="0.64" ry="0.80" fill="#f2ee22"/>
</g>
<rect x="60.20" y="433.30" width="15.30" height="32.10" fill="#040404"/>
<line x1="67.85" y1="460.26" x2="67.85" y2="465.24" stroke="#a8a8a8" stroke-width="0.45"/>
<line x1="65.10" y1="458.98" x2="62.89" y2="460.91" stroke="#9a9a9a" stroke-width="0.45"/>
<line x1="70.60" y1="458.98" x2="72.81" y2="460.91" stroke="#9a9a9a" stroke-width="0.45"/>
<path d="M67.85,435.87 C68.81,435.87 69.50,437.79 69.78,439.72 C70.60,441.32 71.15,442.93 71.29,445.50 C71.57,449.35 71.71,454.16 71.57,457.38 C71.29,459.94 69.50,460.75 67.85,460.75 C66.20,460.75 64.41,459.94 64.13,457.38 C63.99,454.16 64.13,449.35 64.41,445.50 C64.55,442.93 65.10,441.32 65.92,439.72 C66.20,437.79 66.89,435.87 67.85,435.87 Z" fill="url(#mg)"/>
<path d="M67.85,435.87 C68.81,435.87 69.50,437.79 69.78,439.72 C70.60,441.32 71.15,442.93 71.29,445.50 C71.57,449.35 71.71,454.16 71.57,457.38 C71.29,459.94 69.50,460.75 67.85,460.75 C66.20,460.75 64.41,459.94 64.13,457.38 C63.99,454.16 64.13,449.35 64.41,445.50 C64.55,442.93 65.10,441.32 65.92,439.72 C66.20,437.79 66.89,435.87 67.85,435.87 Z" fill="#000" filter="url(#fur)"/>
<ellipse cx="67.85" cy="439.40" rx="1.38" ry="2.25" fill="#606060" opacity="0.4"/>
<ellipse cx="67.85" cy="441.97" rx="1.79" ry="0.80" fill="#505050" opacity="0.35"/>
<g filter="url(#bl)">
<ellipse cx="68.16" cy="451.92" rx="4.59" ry="8.67" fill="#2a26ea"/>
<ellipse cx="68.62" cy="453.20" rx="2.45" ry="5.78" fill="#2a26ea"/>
<ellipse cx="68.62" cy="453.20" rx="1.81" ry="4.28" fill="#35e0ee"/>
<ellipse cx="68.62" cy="453.20" rx="1.52" ry="3.58" fill="#48e048"/>
<ellipse cx="68.62" cy="455.77" rx="1.07" ry="2.25" fill="#2a26ea"/>
<ellipse cx="68.62" cy="455.77" rx="0.79" ry="1.66" fill="#35e0ee"/>
<ellipse cx="68.62" cy="455.77" rx="0.66" ry="1.39" fill="#48e048"/>
<ellipse cx="68.62" cy="455.77" rx="0.54" ry="1.12" fill="#f2ee22"/>
</g>
<rect x="76.80" y="433.30" width="15.70" height="32.10" fill="#040404"/>
<line x1="84.65" y1="460.26" x2="84.65" y2="465.24" stroke="#a8a8a8" stroke-width="0.45"/>
<line x1="81.82" y1="458.98" x2="79.56" y2="460.91" stroke="#9a9a9a" stroke-width="0.45"/>
<line x1="87.48" y1="458.98" x2="89.74" y2="460.91" stroke="#9a9a9a" stroke-width="0.45"/>
<path d="M84.65,435.87 C85.64,435.87 86.35,437.79 86.63,439.72 C87.48,441.32 88.04,442.93 88.18,445.50 C88.47,449.35 88.61,454.16 88.47,457.38 C88.18,459.94 86.35,460.75 84.65,460.75 C82.95,460.75 81.12,459.94 80.83,457.38 C80.69,454.16 80.83,449.35 81.12,445.50 C81.26,442.93 81.82,441.32 82.67,439.72 C82.95,437.79 83.66,435.87 84.65,435.87 Z" fill="url(#mg)"/>
<path d="M84.65,435.87 C85.64,435.87 86.35,437.79 86.63,439.72 C87.48,441.32 88.04,442.93 88.18,445.50 C88.47,449.35 88.61,454.16 88.47,457.38 C88.18,459.94 86.35,460.75 84.65,460.75 C82.95,460.75 81.12,459.94 80.83,457.38 C80.69,454.16 80.83,449.35 81.12,445.50 C81.26,442.93 81.82,441.32 82.67,439.72 C82.95,437.79 83.66,435.87 84.65,435.87 Z" fill="#000" filter="url(#fur)"/>
<ellipse cx="84.65" cy="439.40" rx="1.41" ry="2.25" fill="#606060" opacity="0.4"/>
<ellipse cx="84.65" cy="441.97" rx="1.84" ry="0.80" fill="#505050" opacity="0.35"/>
<g filter="url(#bl)">
<ellipse cx="83.86" cy="441.32" rx="1.26" ry="1.60" fill="#5a3ad0" opacity="0.75"/>
<ellipse cx="84.65" cy="452.56" rx="3.14" ry="3.21" fill="#2a26ea"/>
</g>
<rect x="93.80" y="433.30" width="15.70" height="32.10" fill="#040404"/>
<line x1="101.65" y1="460.26" x2="101.65" y2="465.24" stroke="#a8a8a8" stroke-width="0.45"/>
<line x1="98.82" y1="458.98" x2="96.56" y2="460.91" stroke="#9a9a9a" stroke-width="0.45"/>
<line x1="104.48" y1="458.98" x2="106.74" y2="460.91" stroke="#9a9a9a" stroke-width="0.45"/>
<path d="M101.65,435.87 C102.64,435.87 103.35,437.79 103.63,439.72 C104.48,441.32 105.04,442.93 105.18,445.50 C105.47,449.35 105.61,454.16 105.47,457.38 C105.18,459.94 103.35,460.75 101.65,460.75 C99.95,460.75 98.12,459.94 97.83,457.38 C97.69,454.16 97.83,449.35 98.12,445.50 C98.26,442.93 98.82,441.32 99.67,439.72 C99.95,437.79 100.66,435.87 101.65,435.87 Z" fill="url(#mg)"/>
<path d="M101.65,435.87 C102.64,435.87 103.35,437.79 103.63,439.72 C104.48,441.32 105.04,442.93 105.18,445.50 C105.47,449.35 105.61,454.16 105.47,457.38 C105.18,459.94 103.35,460.75 101.65,460.75 C99.95,460.75 98.12,459.94 97.83,457.38 C97.69,454.16 97.83,449.35 98.12,445.50 C98.26,442.93 98.82,441.32 99.67,439.72 C99.95,437.79 100.66,435.87 101.65,435.87 Z" fill="#000" filter="url(#fur)"/>
<ellipse cx="101.65" cy="439.40" rx="1.41" ry="2.25" fill="#606060" opacity="0.4"/>
<ellipse cx="101.65" cy="441.97" rx="1.84" ry="0.80" fill="#505050" opacity="0.35"/>
<rect x="111.40" y="433.30" width="16.10" height="32.10" fill="#040404"/>
<line x1="119.45" y1="460.26" x2="119.45" y2="465.24" stroke="#a8a8a8" stroke-width="0.45"/>
<line x1="116.55" y1="458.98" x2="114.23" y2="460.91" stroke="#9a9a9a" stroke-width="0.45"/>
<line x1="122.35" y1="458.98" x2="124.67" y2="460.91" stroke="#9a9a9a" stroke-width="0.45"/>
<path d="M119.45,435.87 C120.46,435.87 121.19,437.79 121.48,439.72 C122.35,441.32 122.93,442.93 123.07,445.50 C123.36,449.35 123.51,454.16 123.36,457.38 C123.07,459.94 121.19,460.75 119.45,460.75 C117.71,460.75 115.83,459.94 115.54,457.38 C115.39,454.16 115.54,449.35 115.83,445.50 C115.97,442.93 116.55,441.32 117.42,439.72 C117.71,437.79 118.44,435.87 119.45,435.87 Z" fill="url(#mg)"/>
<path d="M119.45,435.87 C120.46,435.87 121.19,437.79 121.48,439.72 C122.35,441.32 122.93,442.93 123.07,445.50 C123.36,449.35 123.51,454.16 123.36,457.38 C123.07,459.94 121.19,460.75 119.45,460.75 C117.71,460.75 115.83,459.94 115.54,457.38 C115.39,454.16 115.54,449.35 115.83,445.50 C115.97,442.93 116.55,441.32 117.42,439.72 C117.71,437.79 118.44,435.87 119.45,435.87 Z" fill="#000" filter="url(#fur)"/>
<ellipse cx="119.45" cy="439.40" rx="1.45" ry="2.25" fill="#606060" opacity="0.4"/>
<ellipse cx="119.45" cy="441.97" rx="1.88" ry="0.80" fill="#505050" opacity="0.35"/>
<rect x="129.40" y="433.30" width="16.10" height="32.10" fill="#040404"/>
<line x1="137.45" y1="460.26" x2="137.45" y2="465.24" stroke="#a8a8a8" stroke-width="0.45"/>
<line x1="134.55" y1="458.98" x2="132.23" y2="460.91" stroke="#9a9a9a" stroke-width="0.45"/>
<line x1="140.35" y1="458.98" x2="142.67" y2="460.91" stroke="#9a9a9a" stroke-width="0.45"/>
<path d="M137.45,435.87 C138.46,435.87 139.19,437.79 139.48,439.72 C140.35,441.32 140.93,442.93 141.07,445.50 C141.36,449.35 141.51,454.16 141.36,457.38 C141.07,459.94 139.19,460.75 137.45,460.75 C135.71,460.75 133.83,459.94 133.54,457.38 C133.39,454.16 133.54,449.35 133.83,445.50 C133.97,442.93 134.55,441.32 135.42,439.72 C135.71,437.79 136.44,435.87 137.45,435.87 Z" fill="url(#mg)"/>
<path d="M137.45,435.87 C138.46,435.87 139.19,437.79 139.48,439.72 C140.35,441.32 140.93,442.93 141.07,445.50 C141.36,449.35 141.51,454.16 141.36,457.38 C141.07,459.94 139.19,460.75 137.45,460.75 C135.71,460.75 133.83,459.94 133.54,457.38 C133.39,454.16 133.54,449.35 133.83,445.50 C133.97,442.93 134.55,441.32 135.42,439.72 C135.71,437.79 136.44,435.87 137.45,435.87 Z" fill="#000" filter="url(#fur)"/>
<ellipse cx="137.45" cy="439.40" rx="1.45" ry="2.25" fill="#606060" opacity="0.4"/>
<ellipse cx="137.45" cy="441.97" rx="1.88" ry="0.80" fill="#505050" opacity="0.35"/>
<rect x="147.70" y="433.30" width="16.80" height="32.10" fill="#040404"/>
<line x1="156.10" y1="460.26" x2="156.10" y2="465.24" stroke="#a8a8a8" stroke-width="0.45"/>
<line x1="153.08" y1="458.98" x2="150.66" y2="460.91" stroke="#9a9a9a" stroke-width="0.45"/>
<line x1="159.12" y1="458.98" x2="161.54" y2="460.91" stroke="#9a9a9a" stroke-width="0.45"/>
<path d="M156.10,435.87 C157.16,435.87 157.91,437.79 158.22,439.72 C159.12,441.32 159.73,442.93 159.88,445.50 C160.18,449.35 160.33,454.16 160.18,457.38 C159.88,459.94 157.91,460.75 156.10,460.75 C154.29,460.75 152.32,459.94 152.02,457.38 C151.87,454.16 152.02,449.35 152.32,445.50 C152.47,442.93 153.08,441.32 153.98,439.72 C154.29,437.79 155.04,435.87 156.10,435.87 Z" fill="url(#mg)"/>
<path d="M156.10,435.87 C157.16,435.87 157.91,437.79 158.22,439.72 C159.12,441.32 159.73,442.93 159.88,445.50 C160.18,449.35 160.33,454.16 160.18,457.38 C159.88,459.94 157.91,460.75 156.10,460.75 C154.29,460.75 152.32,459.94 152.02,457.38 C151.87,454.16 152.02,449.35 152.32,445.50 C152.47,442.93 153.08,441.32 153.98,439.72 C154.29,437.79 155.04,435.87 156.10,435.87 Z" fill="#000" filter="url(#fur)"/>
<ellipse cx="156.10" cy="439.40" rx="1.51" ry="2.25" fill="#606060" opacity="0.4"/>
<ellipse cx="156.10" cy="441.97" rx="1.97" ry="0.80" fill="#505050" opacity="0.35"/>
<rect x="42.20" y="468.20" width="16.10" height="32.20" fill="#040404"/>
<line x1="50.25" y1="495.25" x2="50.25" y2="500.24" stroke="#a8a8a8" stroke-width="0.45"/>
<line x1="47.35" y1="493.96" x2="45.03" y2="495.89" stroke="#9a9a9a" stroke-width="0.45"/>
<line x1="53.15" y1="493.96" x2="55.47" y2="495.89" stroke="#9a9a9a" stroke-width="0.45"/>
<path d="M50.25,470.78 C51.26,470.78 51.99,472.71 52.28,474.64 C53.15,476.25 53.73,477.86 53.87,480.44 C54.16,484.30 54.31,489.13 54.16,492.35 C53.87,494.93 51.99,495.73 50.25,495.73 C48.51,495.73 46.63,494.93 46.34,492.35 C46.19,489.13 46.34,484.30 46.63,480.44 C46.77,477.86 47.35,476.25 48.22,474.64 C48.51,472.71 49.24,470.78 50.25,470.78 Z" fill="url(#mg)"/>
<path d="M50.25,470.78 C51.26,470.78 51.99,472.71 52.28,474.64 C53.15,476.25 53.73,477.86 53.87,480.44 C54.16,484.30 54.31,489.13 54.16,492.35 C53.87,494.93 51.99,495.73 50.25,495.73 C48.51,495.73 46.63,494.93 46.34,492.35 C46.19,489.13 46.34,484.30 46.63,480.44 C46.77,477.86 47.35,476.25 48.22,474.64 C48.51,472.71 49.24,470.78 50.25,470.78 Z" fill="#000" filter="url(#fur)"/>
<ellipse cx="50.25" cy="474.32" rx="1.45" ry="2.25" fill="#606060" opacity="0.4"/>
<ellipse cx="50.25" cy="476.89" rx="1.88" ry="0.80" fill="#505050" opacity="0.35"/>
<g filter="url(#bl)">
<ellipse cx="50.25" cy="485.91" rx="4.83" ry="7.73" fill="#2a26ea"/>
<ellipse cx="49.45" cy="483.33" rx="2.58" ry="2.58" fill="#2a26ea"/>
<ellipse cx="49.45" cy="483.33" rx="1.91" ry="1.91" fill="#35e0ee"/>
<ellipse cx="49.45" cy="483.33" rx="1.60" ry="1.60" fill="#48e048"/>
<ellipse cx="49.45" cy="483.33" rx="1.29" ry="1.29" fill="#f2ee22"/>
<ellipse cx="49.45" cy="483.33" rx="1.03" ry="1.03" fill="#e82018"/>
</g>
<rect x="60.20" y="468.20" width="15.30" height="32.20" fill="#040404"/>
<line x1="67.85" y1="495.25" x2="67.85" y2="500.24" stroke="#a8a8a8" stroke-width="0.45"/>
<line x1="65.10" y1="493.96" x2="62.89" y2="495.89" stroke="#9a9a9a" stroke-width="0.45"/>
<line x1="70.60" y1="493.96" x2="72.81" y2="495.89" stroke="#9a9a9a" stroke-width="0.45"/>
<path d="M67.85,470.78 C68.81,470.78 69.50,472.71 69.78,474.64 C70.60,476.25 71.15,477.86 71.29,480.44 C71.57,484.30 71.71,489.13 71.57,492.35 C71.29,494.93 69.50,495.73 67.85,495.73 C66.20,495.73 64.41,494.93 64.13,492.35 C63.99,489.13 64.13,484.30 64.41,480.44 C64.55,477.86 65.10,476.25 65.92,474.64 C66.20,472.71 66.89,470.78 67.85,470.78 Z" fill="url(#mg)"/>
<path d="M67.85,470.78 C68.81,470.78 69.50,472.71 69.78,474.64 C70.60,476.25 71.15,477.86 71.29,480.44 C71.57,484.30 71.71,489.13 71.57,492.35 C71.29,494.93 69.50,495.73 67.85,495.73 C66.20,495.73 64.41,494.93 64.13,492.35 C63.99,489.13 64.13,484.30 64.41,480.44 C64.55,477.86 65.10,476.25 65.92,474.64 C66.20,472.71 66.89,470.78 67.85,470.78 Z" fill="#000" filter="url(#fur)"/>
<ellipse cx="67.85" cy="474.32" rx="1.38" ry="2.25" fill="#606060" opacity="0.4"/>
<ellipse cx="67.85" cy="476.89" rx="1.79" ry="0.80" fill="#505050" opacity="0.35"/>
<g filter="url(#bl)">
<ellipse cx="67.85" cy="487.52" rx="5.51" ry="9.66" fill="#2a26ea"/>
<ellipse cx="67.85" cy="486.88" rx="3.98" ry="7.73" fill="#2a26ea"/>
<ellipse cx="67.85" cy="486.88" rx="2.94" ry="5.72" fill="#35e0ee"/>
<ellipse cx="67.85" cy="486.88" rx="2.47" ry="4.79" fill="#48e048"/>
<ellipse cx="67.54" cy="485.91" rx="2.14" ry="5.15" fill="#2a26ea"/>
<ellipse cx="67.54" cy="485.91" rx="1.59" ry="3.81" fill="#35e0ee"/>
<ellipse cx="67.54" cy="485.91" rx="1.33" ry="3.19" fill="#48e048"/>
<ellipse cx="67.54" cy="485.91" rx="1.07" ry="2.58" fill="#f2ee22"/>
<ellipse cx="67.54" cy="485.91" rx="0.86" ry="2.06" fill="#e82018"/>
</g>
<rect x="76.80" y="468.20" width="15.70" height="32.20" fill="#040404"/>
<line x1="84.65" y1="495.25" x2="84.65" y2="500.24" stroke="#a8a8a8" stroke-width="0.45"/>
<line x1="81.82" y1="493.96" x2="79.56" y2="495.89" stroke="#9a9a9a" stroke-width="0.45"/>
<line x1="87.48" y1="493.96" x2="89.74" y2="495.89" stroke="#9a9a9a" stroke-width="0.45"/>
<path d="M84.65,470.78 C85.64,470.78 86.35,472.71 86.63,474.64 C87.48,476.25 88.04,477.86 88.18,480.44 C88.47,484.30 88.61,489.13 88.47,492.35 C88.18,494.93 86.35,495.73 84.65,495.73 C82.95,495.73 81.12,494.93 80.83,492.35 C80.69,489.13 80.83,484.30 81.12,480.44 C81.26,477.86 81.82,476.25 82.67,474.64 C82.95,472.71 83.66,470.78 84.65,470.78 Z" fill="url(#mg)"/>
<path d="M84.65,470.78 C85.64,470.78 86.35,472.71 86.63,474.64 C87.48,476.25 88.04,477.86 88.18,480.44 C88.47,484.30 88.61,489.13 88.47,492.35 C88.18,494.93 86.35,495.73 84.65,495.73 C82.95,495.73 81.12,494.93 80.83,492.35 C80.69,489.13 80.83,484.30 81.12,480.44 C81.26,477.86 81.82,476.25 82.67,474.64 C82.95,472.71 83.66,470.78 84.65,470.78 Z" fill="#000" filter="url(#fur)"/>
<ellipse cx="84.65" cy="474.32" rx="1.41" ry="2.25" fill="#606060" opacity="0.4"/>
<ellipse cx="84.65" cy="476.89" rx="1.84" ry="0.80" fill="#505050" opacity="0.35"/>
<g filter="url(#bl)">
<ellipse cx="84.65" cy="486.23" rx="4.08" ry="7.08" fill="#2a26ea"/>
<ellipse cx="85.44" cy="486.88" rx="1.88" ry="4.51" fill="#2a26ea"/>
<ellipse cx="85.44" cy="486.88" rx="1.39" ry="3.34" fill="#35e0ee"/>
<ellipse cx="85.44" cy="486.88" rx="1.17" ry="2.79" fill="#48e048"/>
<ellipse cx="85.44" cy="486.88" rx="0.94" ry="2.25" fill="#f2ee22"/>
</g>
<rect x="93.80" y="468.20" width="15.70" height="32.20" fill="#040404"/>
<line x1="101.65" y1="495.25" x2="101.65" y2="500.24" stroke="#a8a8a8" stroke-width="0.45"/>
<line x1="98.82" y1="493.96" x2="96.56" y2="495.89" stroke="#9a9a9a" stroke-width="0.45"/>
<line x1="104.48" y1="493.96" x2="106.74" y2="495.89" stroke="#9a9a9a" stroke-width="0.45"/>
<path d="M101.65,470.78 C102.64,470.78 103.35,472.71 103.63,474.64 C104.48,476.25 105.04,477.86 105.18,480.44 C105.47,484.30 105.61,489.13 105.47,492.35 C105.18,494.93 103.35,495.73 101.65,495.73 C99.95,495.73 98.12,494.93 97.83,492.35 C97.69,489.13 97.83,484.30 98.12,480.44 C98.26,477.86 98.82,476.25 99.67,474.64 C99.95,472.71 100.66,470.78 101.65,470.78 Z" fill="url(#mg)"/>
<path d="M101.65,470.78 C102.64,470.78 103.35,472.71 103.63,474.64 C104.48,476.25 105.04,477.86 105.18,480.44 C105.47,484.30 105.61,489.13 105.47,492.35 C105.18,494.93 103.35,495.73 101.65,495.73 C99.95,495.73 98.12,494.93 97.83,492.35 C97.69,489.13 97.83,484.30 98.12,480.44 C98.26,477.86 98.82,476.25 99.67,474.64 C99.95,472.71 100.66,470.78 101.65,470.78 Z" fill="#000" filter="url(#fur)"/>
<ellipse cx="101.65" cy="474.32" rx="1.41" ry="2.25" fill="#606060" opacity="0.4"/>
<ellipse cx="101.65" cy="476.89" rx="1.84" ry="0.80" fill="#505050" opacity="0.35"/>
<g filter="url(#bl)">
<ellipse cx="101.65" cy="491.38" rx="3.45" ry="3.22" fill="#2a26ea"/>
<ellipse cx="101.65" cy="491.38" rx="1.73" ry="2.25" fill="#2a26ea"/>
<ellipse cx="101.65" cy="491.38" rx="1.28" ry="1.67" fill="#35e0ee"/>
<ellipse cx="101.65" cy="491.38" rx="1.07" ry="1.40" fill="#48e048"/>
<ellipse cx="101.65" cy="491.38" rx="0.86" ry="1.13" fill="#f2ee22"/>
</g>
<rect x="111.40" y="468.20" width="16.10" height="32.20" fill="#040404"/>
<line x1="119.45" y1="495.25" x2="119.45" y2="500.24" stroke="#a8a8a8" stroke-width="0.45"/>
<line x1="116.55" y1="493.96" x2="114.23" y2="495.89" stroke="#9a9a9a" stroke-width="0.45"/>
<line x1="122.35" y1="493.96" x2="124.67" y2="495.89" stroke="#9a9a9a" stroke-width="0.45"/>
<path d="M119.45,470.78 C120.46,470.78 121.19,472.71 121.48,474.64 C122.35,476.25 122.93,477.86 123.07,480.44 C123.36,484.30 123.51,489.13 123.36,492.35 C123.07,494.93 121.19,495.73 119.45,495.73 C117.71,495.73 115.83,494.93 115.54,492.35 C115.39,489.13 115.54,484.30 115.83,480.44 C115.97,477.86 116.55,476.25 117.42,474.64 C117.71,472.71 118.44,470.78 119.45,470.78 Z" fill="url(#mg)"/>
<path d="M119.45,470.78 C120.46,470.78 121.19,472.71 121.48,474.64 C122.35,476.25 122.93,477.86 123.07,480.44 C123.36,484.30 123.51,489.13 123.36,492.35 C123.07,494.93 121.19,495.73 119.45,495.73 C117.71,495.73 115.83,494.93 115.54,492.35 C115.39,489.13 115.54,484.30 115.83,480.44 C115.97,477.86 116.55,476.25 117.42,474.64 C117.71,472.71 118.44,470.78 119.45,470.78 Z" fill="#000" filter="url(#fur)"/>
<ellipse cx="119.45" cy="474.32" rx="1.45" ry="2.25" fill="#606060" opacity="0.4"/>
<ellipse cx="119.45" cy="476.89" rx="1.88" ry="0.80" fill="#505050" opacity="0.35"/>
<rect x="129.40" y="468.20" width="16.10" height="32.20" fill="#040404"/>
<line x1="137.45" y1="495.25" x2="137.45" y2="500.24" stroke="#a8a8a8" stroke-width="0.45"/>
<line x1="134.55" y1="493.96" x2="132.23" y2="495.89" stroke="#9a9a9a" stroke-width="0.45"/>
<line x1="140.35" y1="493.96" x2="142.67" y2="495.89" stroke="#9a9a9a" stroke-width="0.45"/>
<path d="M137.45,470.78 C138.46,470.78 139.19,472.71 139.48,474.64 C140.35,476.25 140.93,477.86 141.07,480.44 C141.36,484.30 141.51,489.13 141.36,492.35 C141.07,494.93 139.19,495.73 137.45,495.73 C135.71,495.73 133.83,494.93 133.54,492.35 C133.39,489.13 133.54,484.30 133.83,480.44 C133.97,477.86 134.55,476.25 135.42,474.64 C135.71,472.71 136.44,470.78 137.45,470.78 Z" fill="url(#mg)"/>
<path d="M137.45,470.78 C138.46,470.78 139.19,472.71 139.48,474.64 C140.35,476.25 140.93,477.86 141.07,480.44 C141.36,484.30 141.51,489.13 141.36,492.35 C141.07,494.93 139.19,495.73 137.45,495.73 C135.71,495.73 133.83,494.93 133.54,492.35 C133.39,489.13 133.54,484.30 133.83,480.44 C133.97,477.86 134.55,476.25 135.42,474.64 C135.71,472.71 136.44,470.78 137.45,470.78 Z" fill="#000" filter="url(#fur)"/>
<ellipse cx="137.45" cy="474.32" rx="1.45" ry="2.25" fill="#606060" opacity="0.4"/>
<ellipse cx="137.45" cy="476.89" rx="1.88" ry="0.80" fill="#505050" opacity="0.35"/>
<rect x="147.70" y="468.20" width="16.80" height="32.20" fill="#040404"/>
<line x1="156.10" y1="495.25" x2="156.10" y2="500.24" stroke="#a8a8a8" stroke-width="0.45"/>
<line x1="153.08" y1="493.96" x2="150.66" y2="495.89" stroke="#9a9a9a" stroke-width="0.45"/>
<line x1="159.12" y1="493.96" x2="161.54" y2="495.89" stroke="#9a9a9a" stroke-width="0.45"/>
<path d="M156.10,470.78 C157.16,470.78 157.91,472.71 158.22,474.64 C159.12,476.25 159.73,477.86 159.88,480.44 C160.18,484.30 160.33,489.13 160.18,492.35 C159.88,494.93 157.91,495.73 156.10,495.73 C154.29,495.73 152.32,494.93 152.02,492.35 C151.87,489.13 152.02,484.30 152.32,480.44 C152.47,477.86 153.08,476.25 153.98,474.64 C154.29,472.71 155.04,470.78 156.10,470.78 Z" fill="url(#mg)"/>
<path d="M156.10,470.78 C157.16,470.78 157.91,472.71 158.22,474.64 C159.12,476.25 159.73,477.86 159.88,480.44 C160.18,484.30 160.33,489.13 160.18,492.35 C159.88,494.93 157.91,495.73 156.10,495.73 C154.29,495.73 152.32,494.93 152.02,492.35 C151.87,489.13 152.02,484.30 152.32,480.44 C152.47,477.86 153.08,476.25 153.98,474.64 C154.29,472.71 155.04,470.78 156.10,470.78 Z" fill="#000" filter="url(#fur)"/>
<ellipse cx="156.10" cy="474.32" rx="1.51" ry="2.25" fill="#606060" opacity="0.4"/>
<ellipse cx="156.10" cy="476.89" rx="1.97" ry="0.80" fill="#505050" opacity="0.35"/>
<text x="22.10" y="450.68" font-size="6.7" text-anchor="middle" fill="#1a1a1a" textLength="20" lengthAdjust="spacingAndGlyphs">anti-IL-2</text>
<text x="22.10" y="457.18" font-size="6.7" text-anchor="middle" fill="#1a1a1a" textLength="30.8" lengthAdjust="spacingAndGlyphs">(JES6-1A12)</text>
<text x="24.10" y="488.08" font-size="6.7" text-anchor="middle" fill="#1a1a1a" textLength="25.7" lengthAdjust="spacingAndGlyphs">Tacrolimus</text>
<text x="51.90" y="512.99" font-size="7.0" text-anchor="middle" fill="#1a1a1a" textLength="6.6" lengthAdjust="spacingAndGlyphs">d3</text>
<text x="69.40" y="512.99" font-size="7.0" text-anchor="middle" fill="#1a1a1a" textLength="6.6" lengthAdjust="spacingAndGlyphs">d6</text>
<text x="87.25" y="512.99" font-size="7.0" text-anchor="middle" fill="#1a1a1a" textLength="6.6" lengthAdjust="spacingAndGlyphs">d9</text>
<text x="106.00" y="512.99" font-size="7.0" text-anchor="middle" fill="#1a1a1a" textLength="9.8" lengthAdjust="spacingAndGlyphs">d12</text>
<text x="123.50" y="512.99" font-size="7.0" text-anchor="middle" fill="#1a1a1a" textLength="9.8" lengthAdjust="spacingAndGlyphs">d17</text>
<text x="141.90" y="512.99" font-size="7.0" text-anchor="middle" fill="#1a1a1a" textLength="9.8" lengthAdjust="spacingAndGlyphs">d25</text>
<text x="159.40" y="512.99" font-size="7.0" text-anchor="middle" fill="#1a1a1a" textLength="9.8" lengthAdjust="spacingAndGlyphs">d30</text>
<line x1="46.20" y1="516.50" x2="167.50" y2="516.50" stroke="#333" stroke-width="1.2"/>
<text x="107.25" y="524.41" font-size="6.8" text-anchor="middle" fill="#1a1a1a" textLength="37" lengthAdjust="spacingAndGlyphs">Days post HCT</text>
<text x="49.4" y="422.7" font-size="8.2" fill="#111" textLength="112.8" lengthAdjust="spacingAndGlyphs">2.5X10<tspan font-size="5" dy="-3.1">6</tspan><tspan dy="3.1"> splenocyte+5X10</tspan><tspan font-size="5" dy="-3.1">6</tspan><tspan dy="3.1"> Bcl-1</tspan></text>
<line x1="43.20" y1="427.60" x2="168.20" y2="427.60" stroke="#222" stroke-width="1.0"/>
<rect x="44.60" y="560.90" width="15.60" height="34.20" fill="#040404"/>
<line x1="52.40" y1="589.63" x2="52.40" y2="594.93" stroke="#a8a8a8" stroke-width="0.45"/>
<line x1="49.16" y1="588.26" x2="46.56" y2="590.31" stroke="#9a9a9a" stroke-width="0.45"/>
<line x1="55.64" y1="588.26" x2="58.24" y2="590.31" stroke="#9a9a9a" stroke-width="0.45"/>
<path d="M52.40,563.64 C53.54,563.64 54.35,565.69 54.67,567.74 C55.64,569.45 56.29,571.16 56.46,573.90 C56.78,578.00 56.94,583.13 56.78,586.55 C56.46,589.29 54.35,590.14 52.40,590.14 C50.45,590.14 48.34,589.29 48.02,586.55 C47.86,583.13 48.02,578.00 48.34,573.90 C48.51,571.16 49.16,569.45 50.13,567.74 C50.45,565.69 51.26,563.64 52.40,563.64 Z" fill="url(#mg)"/>
<path d="M52.40,563.64 C53.54,563.64 54.35,565.69 54.67,567.74 C55.64,569.45 56.29,571.16 56.46,573.90 C56.78,578.00 56.94,583.13 56.78,586.55 C56.46,589.29 54.35,590.14 52.40,590.14 C50.45,590.14 48.34,589.29 48.02,586.55 C47.86,583.13 48.02,578.00 48.34,573.90 C48.51,571.16 49.16,569.45 50.13,567.74 C50.45,565.69 51.26,563.64 52.40,563.64 Z" fill="#000" filter="url(#fur)"/>
<ellipse cx="52.40" cy="567.40" rx="1.62" ry="2.39" fill="#606060" opacity="0.4"/>
<ellipse cx="52.40" cy="570.13" rx="2.11" ry="0.86" fill="#505050" opacity="0.35"/>
<g filter="url(#bl)">
<ellipse cx="52.40" cy="579.37" rx="4.68" ry="4.10" fill="#2a26ea"/>
<ellipse cx="52.40" cy="579.37" rx="3.46" ry="3.04" fill="#35e0ee"/>
<ellipse cx="52.40" cy="579.37" rx="2.90" ry="2.54" fill="#48e048"/>
<ellipse cx="52.40" cy="579.37" rx="2.34" ry="2.05" fill="#f2ee22"/>
<ellipse cx="53.18" cy="578.00" rx="1.09" ry="1.37" fill="#2a26ea"/>
<ellipse cx="53.18" cy="578.00" rx="0.81" ry="1.01" fill="#35e0ee"/>
<ellipse cx="53.18" cy="578.00" rx="0.68" ry="0.85" fill="#48e048"/>
<ellipse cx="53.18" cy="578.00" rx="0.55" ry="0.68" fill="#f2ee22"/>
<ellipse cx="53.18" cy="578.00" rx="0.44" ry="0.55" fill="#e82018"/>
<ellipse cx="55.52" cy="578.00" rx="1.09" ry="1.37" fill="#2a26ea"/>
<ellipse cx="55.52" cy="578.00" rx="0.81" ry="1.01" fill="#35e0ee"/>
<ellipse cx="55.52" cy="578.00" rx="0.68" ry="0.85" fill="#48e048"/>
<ellipse cx="55.52" cy="578.00" rx="0.55" ry="0.68" fill="#f2ee22"/>
<ellipse cx="55.52" cy="578.00" rx="0.44" ry="0.55" fill="#e82018"/>
<ellipse cx="52.40" cy="585.52" rx="2.81" ry="2.74" fill="#2a26ea"/>
<ellipse cx="52.40" cy="585.52" rx="2.08" ry="2.02" fill="#35e0ee"/>
<ellipse cx="52.40" cy="585.52" rx="1.74" ry="1.70" fill="#48e048"/>
</g>
<rect x="62.20" y="560.90" width="15.60" height="34.20" fill="#040404"/>
<line x1="70.00" y1="589.63" x2="70.00" y2="594.93" stroke="#a8a8a8" stroke-width="0.45"/>
<line x1="66.76" y1="588.26" x2="64.16" y2="590.31" stroke="#9a9a9a" stroke-width="0.45"/>
<line x1="73.24" y1="588.26" x2="75.84" y2="590.31" stroke="#9a9a9a" stroke-width="0.45"/>
<path d="M70.00,563.64 C71.14,563.64 71.95,565.69 72.27,567.74 C73.24,569.45 73.89,571.16 74.06,573.90 C74.38,578.00 74.54,583.13 74.38,586.55 C74.06,589.29 71.95,590.14 70.00,590.14 C68.05,590.14 65.94,589.29 65.62,586.55 C65.46,583.13 65.62,578.00 65.94,573.90 C66.11,571.16 66.76,569.45 67.73,567.74 C68.05,565.69 68.86,563.64 70.00,563.64 Z" fill="url(#mg)"/>
<path d="M70.00,563.64 C71.14,563.64 71.95,565.69 72.27,567.74 C73.24,569.45 73.89,571.16 74.06,573.90 C74.38,578.00 74.54,583.13 74.38,586.55 C74.06,589.29 71.95,590.14 70.00,590.14 C68.05,590.14 65.94,589.29 65.62,586.55 C65.46,583.13 65.62,578.00 65.94,573.90 C66.11,571.16 66.76,569.45 67.73,567.74 C68.05,565.69 68.86,563.64 70.00,563.64 Z" fill="#000" filter="url(#fur)"/>
<ellipse cx="70.00" cy="567.40" rx="1.62" ry="2.39" fill="#606060" opacity="0.4"/>
<ellipse cx="70.00" cy="570.13" rx="2.11" ry="0.86" fill="#505050" opacity="0.35"/>
<g filter="url(#bl)">
<ellipse cx="70.00" cy="579.03" rx="4.99" ry="6.16" fill="#2a26ea"/>
<ellipse cx="70.00" cy="579.03" rx="3.69" ry="4.56" fill="#35e0ee"/>
<ellipse cx="70.00" cy="579.03" rx="3.10" ry="3.82" fill="#48e048"/>
<ellipse cx="70.00" cy="579.03" rx="2.50" ry="3.08" fill="#f2ee22"/>
<ellipse cx="70.78" cy="578.00" rx="0.94" ry="1.37" fill="#2a26ea"/>
<ellipse cx="70.78" cy="578.00" rx="0.69" ry="1.01" fill="#35e0ee"/>
<ellipse cx="70.78" cy="578.00" rx="0.58" ry="0.85" fill="#48e048"/>
<ellipse cx="70.78" cy="578.00" rx="0.47" ry="0.68" fill="#f2ee22"/>
<ellipse cx="70.78" cy="578.00" rx="0.37" ry="0.55" fill="#e82018"/>
<ellipse cx="70.78" cy="585.87" rx="1.56" ry="2.05" fill="#2a26ea"/>
<ellipse cx="70.78" cy="585.87" rx="1.15" ry="1.52" fill="#35e0ee"/>
<ellipse cx="70.78" cy="585.87" rx="0.97" ry="1.27" fill="#48e048"/>
<ellipse cx="70.78" cy="585.87" rx="0.78" ry="1.03" fill="#f2ee22"/>
<ellipse cx="70.78" cy="585.87" rx="0.62" ry="0.82" fill="#e82018"/>
</g>
<rect x="79.70" y="560.90" width="15.90" height="34.20" fill="#040404"/>
<line x1="87.65" y1="589.63" x2="87.65" y2="594.93" stroke="#a8a8a8" stroke-width="0.45"/>
<line x1="84.34" y1="588.26" x2="81.70" y2="590.31" stroke="#9a9a9a" stroke-width="0.45"/>
<line x1="90.96" y1="588.26" x2="93.60" y2="590.31" stroke="#9a9a9a" stroke-width="0.45"/>
<path d="M87.65,563.64 C88.81,563.64 89.63,565.69 89.97,567.74 C90.96,569.45 91.62,571.16 91.78,573.90 C92.11,578.00 92.28,583.13 92.11,586.55 C91.78,589.29 89.63,590.14 87.65,590.14 C85.67,590.14 83.52,589.29 83.19,586.55 C83.02,583.13 83.19,578.00 83.52,573.90 C83.68,571.16 84.34,569.45 85.33,567.74 C85.67,565.69 86.49,563.64 87.65,563.64 Z" fill="url(#mg)"/>
<path d="M87.65,563.64 C88.81,563.64 89.63,565.69 89.97,567.74 C90.96,569.45 91.62,571.16 91.78,573.90 C92.11,578.00 92.28,583.13 92.11,586.55 C91.78,589.29 89.63,590.14 87.65,590.14 C85.67,590.14 83.52,589.29 83.19,586.55 C83.02,583.13 83.19,578.00 83.52,573.90 C83.68,571.16 84.34,569.45 85.33,567.74 C85.67,565.69 86.49,563.64 87.65,563.64 Z" fill="#000" filter="url(#fur)"/>
<ellipse cx="87.65" cy="567.40" rx="1.65" ry="2.39" fill="#606060" opacity="0.4"/>
<ellipse cx="87.65" cy="570.13" rx="2.15" ry="0.86" fill="#505050" opacity="0.35"/>
<rect x="97.10" y="560.90" width="15.60" height="34.20" fill="#040404"/>
<line x1="104.90" y1="589.63" x2="104.90" y2="594.93" stroke="#a8a8a8" stroke-width="0.45"/>
<line x1="101.66" y1="588.26" x2="99.06" y2="590.31" stroke="#9a9a9a" stroke-width="0.45"/>
<line x1="108.14" y1="588.26" x2="110.74" y2="590.31" stroke="#9a9a9a" stroke-width="0.45"/>
<path d="M104.90,563.64 C106.04,563.64 106.85,565.69 107.17,567.74 C108.14,569.45 108.79,571.16 108.96,573.90 C109.28,578.00 109.44,583.13 109.28,586.55 C108.96,589.29 106.85,590.14 104.90,590.14 C102.95,590.14 100.84,589.29 100.52,586.55 C100.36,583.13 100.52,578.00 100.84,573.90 C101.01,571.16 101.66,569.45 102.63,567.74 C102.95,565.69 103.76,563.64 104.90,563.64 Z" fill="url(#mg)"/>
<path d="M104.90,563.64 C106.04,563.64 106.85,565.69 107.17,567.74 C108.14,569.45 108.79,571.16 108.96,573.90 C109.28,578.00 109.44,583.13 109.28,586.55 C108.96,589.29 106.85,590.14 104.90,590.14 C102.95,590.14 100.84,589.29 100.52,586.55 C100.36,583.13 100.52,578.00 100.84,573.90 C101.01,571.16 101.66,569.45 102.63,567.74 C102.95,565.69 103.76,563.64 104.90,563.64 Z" fill="#000" filter="url(#fur)"/>
<ellipse cx="104.90" cy="567.40" rx="1.62" ry="2.39" fill="#606060" opacity="0.4"/>
<ellipse cx="104.90" cy="570.13" rx="2.11" ry="0.86" fill="#505050" opacity="0.35"/>
<rect x="114.40" y="560.90" width="15.30" height="34.20" fill="#040404"/>
<line x1="122.05" y1="589.63" x2="122.05" y2="594.93" stroke="#a8a8a8" stroke-width="0.45"/>
<line x1="118.87" y1="588.26" x2="116.32" y2="590.31" stroke="#9a9a9a" stroke-width="0.45"/>
<line x1="125.23" y1="588.26" x2="127.78" y2="590.31" stroke="#9a9a9a" stroke-width="0.45"/>
<path d="M122.05,563.64 C123.16,563.64 123.96,565.69 124.28,567.74 C125.23,569.45 125.87,571.16 126.03,573.90 C126.35,578.00 126.51,583.13 126.35,586.55 C126.03,589.29 123.96,590.14 122.05,590.14 C120.14,590.14 118.07,589.29 117.75,586.55 C117.59,583.13 117.75,578.00 118.07,573.90 C118.23,571.16 118.87,569.45 119.82,567.74 C120.14,565.69 120.94,563.64 122.05,563.64 Z" fill="url(#mg)"/>
<path d="M122.05,563.64 C123.16,563.64 123.96,565.69 124.28,567.74 C125.23,569.45 125.87,571.16 126.03,573.90 C126.35,578.00 126.51,583.13 126.35,586.55 C126.03,589.29 123.96,590.14 122.05,590.14 C120.14,590.14 118.07,589.29 117.75,586.55 C117.59,583.13 117.75,578.00 118.07,573.90 C118.23,571.16 118.87,569.45 119.82,567.74 C120.14,565.69 120.94,563.64 122.05,563.64 Z" fill="#000" filter="url(#fur)"/>
<ellipse cx="122.05" cy="567.40" rx="1.59" ry="2.39" fill="#606060" opacity="0.4"/>
<ellipse cx="122.05" cy="570.13" rx="2.07" ry="0.86" fill="#505050" opacity="0.35"/>
<rect x="131.20" y="560.90" width="15.60" height="34.20" fill="#040404"/>
<line x1="139.00" y1="589.63" x2="139.00" y2="594.93" stroke="#a8a8a8" stroke-width="0.45"/>
<line x1="135.76" y1="588.26" x2="133.16" y2="590.31" stroke="#9a9a9a" stroke-width="0.45"/>
<line x1="142.24" y1="588.26" x2="144.84" y2="590.31" stroke="#9a9a9a" stroke-width="0.45"/>
<path d="M139.00,563.64 C140.14,563.64 140.95,565.69 141.27,567.74 C142.24,569.45 142.89,571.16 143.06,573.90 C143.38,578.00 143.54,583.13 143.38,586.55 C143.06,589.29 140.95,590.14 139.00,590.14 C137.05,590.14 134.94,589.29 134.62,586.55 C134.46,583.13 134.62,578.00 134.94,573.90 C135.11,571.16 135.76,569.45 136.73,567.74 C137.05,565.69 137.86,563.64 139.00,563.64 Z" fill="url(#mg)"/>
<path d="M139.00,563.64 C140.14,563.64 140.95,565.69 141.27,567.74 C142.24,569.45 142.89,571.16 143.06,573.90 C143.38,578.00 143.54,583.13 143.38,586.55 C143.06,589.29 140.95,590.14 139.00,590.14 C137.05,590.14 134.94,589.29 134.62,586.55 C134.46,583.13 134.62,578.00 134.94,573.90 C135.11,571.16 135.76,569.45 136.73,567.74 C137.05,565.69 137.86,563.64 139.00,563.64 Z" fill="#000" filter="url(#fur)"/>
<ellipse cx="139.00" cy="567.40" rx="1.62" ry="2.39" fill="#606060" opacity="0.4"/>
<ellipse cx="139.00" cy="570.13" rx="2.11" ry="0.86" fill="#505050" opacity="0.35"/>
<rect x="149.00" y="560.90" width="15.70" height="34.20" fill="#040404"/>
<line x1="156.85" y1="589.63" x2="156.85" y2="594.93" stroke="#a8a8a8" stroke-width="0.45"/>
<line x1="153.58" y1="588.26" x2="150.97" y2="590.31" stroke="#9a9a9a" stroke-width="0.45"/>
<line x1="160.12" y1="588.26" x2="162.73" y2="590.31" stroke="#9a9a9a" stroke-width="0.45"/>
<path d="M156.85,563.64 C157.99,563.64 158.81,565.69 159.14,567.74 C160.12,569.45 160.77,571.16 160.93,573.90 C161.26,578.00 161.42,583.13 161.26,586.55 C160.93,589.29 158.81,590.14 156.85,590.14 C154.89,590.14 152.77,589.29 152.44,586.55 C152.28,583.13 152.44,578.00 152.77,573.90 C152.93,571.16 153.58,569.45 154.56,567.74 C154.89,565.69 155.71,563.64 156.85,563.64 Z" fill="url(#mg)"/>
<path d="M156.85,563.64 C157.99,563.64 158.81,565.69 159.14,567.74 C160.12,569.45 160.77,571.16 160.93,573.90 C161.26,578.00 161.42,583.13 161.26,586.55 C160.93,589.29 158.81,590.14 156.85,590.14 C154.89,590.14 152.77,589.29 152.44,586.55 C152.28,583.13 152.44,578.00 152.77,573.90 C152.93,571.16 153.58,569.45 154.56,567.74 C154.89,565.69 155.71,563.64 156.85,563.64 Z" fill="#000" filter="url(#fur)"/>
<ellipse cx="156.85" cy="567.40" rx="1.63" ry="2.39" fill="#606060" opacity="0.4"/>
<ellipse cx="156.85" cy="570.13" rx="2.12" ry="0.86" fill="#505050" opacity="0.35"/>
<rect x="44.60" y="597.30" width="15.60" height="33.40" fill="#040404"/>
<line x1="52.40" y1="625.36" x2="52.40" y2="630.53" stroke="#a8a8a8" stroke-width="0.45"/>
<line x1="49.16" y1="624.02" x2="46.56" y2="626.02" stroke="#9a9a9a" stroke-width="0.45"/>
<line x1="55.64" y1="624.02" x2="58.24" y2="626.02" stroke="#9a9a9a" stroke-width="0.45"/>
<path d="M52.40,599.97 C53.54,599.97 54.35,601.98 54.67,603.98 C55.64,605.65 56.29,607.32 56.46,609.99 C56.78,614.00 56.94,619.01 56.78,622.35 C56.46,625.02 54.35,625.86 52.40,625.86 C50.45,625.86 48.34,625.02 48.02,622.35 C47.86,619.01 48.02,614.00 48.34,609.99 C48.51,607.32 49.16,605.65 50.13,603.98 C50.45,601.98 51.26,599.97 52.40,599.97 Z" fill="url(#mg)"/>
<path d="M52.40,599.97 C53.54,599.97 54.35,601.98 54.67,603.98 C55.64,605.65 56.29,607.32 56.46,609.99 C56.78,614.00 56.94,619.01 56.78,622.35 C56.46,625.02 54.35,625.86 52.40,625.86 C50.45,625.86 48.34,625.02 48.02,622.35 C47.86,619.01 48.02,614.00 48.34,609.99 C48.51,607.32 49.16,605.65 50.13,603.98 C50.45,601.98 51.26,599.97 52.40,599.97 Z" fill="#000" filter="url(#fur)"/>
<ellipse cx="52.40" cy="603.65" rx="1.62" ry="2.34" fill="#606060" opacity="0.4"/>
<ellipse cx="52.40" cy="606.32" rx="2.11" ry="0.84" fill="#505050" opacity="0.35"/>
<g filter="url(#bl)">
<ellipse cx="52.71" cy="617.34" rx="5.30" ry="7.35" fill="#2a26ea"/>
<ellipse cx="52.71" cy="617.34" rx="4.88" ry="6.76" fill="#35e0ee"/>
<ellipse cx="52.71" cy="617.34" rx="4.61" ry="6.39" fill="#48e048"/>
<ellipse cx="52.71" cy="617.34" rx="4.40" ry="6.10" fill="#f2ee22"/>
<ellipse cx="52.71" cy="617.34" rx="4.19" ry="5.80" fill="#e82018"/>
<ellipse cx="52.40" cy="624.69" rx="1.56" ry="1.67" fill="#2a26ea"/>
<ellipse cx="52.40" cy="624.69" rx="1.15" ry="1.24" fill="#35e0ee"/>
<ellipse cx="52.40" cy="624.69" rx="0.97" ry="1.04" fill="#48e048"/>
<ellipse cx="52.40" cy="624.69" rx="0.78" ry="0.84" fill="#f2ee22"/>
<ellipse cx="52.40" cy="624.69" rx="0.62" ry="0.67" fill="#e82018"/>
</g>
<rect x="62.20" y="597.30" width="15.60" height="33.40" fill="#040404"/>
<line x1="70.00" y1="625.36" x2="70.00" y2="630.53" stroke="#a8a8a8" stroke-width="0.45"/>
<line x1="66.76" y1="624.02" x2="64.16" y2="626.02" stroke="#9a9a9a" stroke-width="0.45"/>
<line x1="73.24" y1="624.02" x2="75.84" y2="626.02" stroke="#9a9a9a" stroke-width="0.45"/>
<path d="M70.00,599.97 C71.14,599.97 71.95,601.98 72.27,603.98 C73.24,605.65 73.89,607.32 74.06,609.99 C74.38,614.00 74.54,619.01 74.38,622.35 C74.06,625.02 71.95,625.86 70.00,625.86 C68.05,625.86 65.94,625.02 65.62,622.35 C65.46,619.01 65.62,614.00 65.94,609.99 C66.11,607.32 66.76,605.65 67.73,603.98 C68.05,601.98 68.86,599.97 70.00,599.97 Z" fill="url(#mg)"/>
<path d="M70.00,599.97 C71.14,599.97 71.95,601.98 72.27,603.98 C73.24,605.65 73.89,607.32 74.06,609.99 C74.38,614.00 74.54,619.01 74.38,622.35 C74.06,625.02 71.95,625.86 70.00,625.86 C68.05,625.86 65.94,625.02 65.62,622.35 C65.46,619.01 65.62,614.00 65.94,609.99 C66.11,607.32 66.76,605.65 67.73,603.98 C68.05,601.98 68.86,599.97 70.00,599.97 Z" fill="#000" filter="url(#fur)"/>
<ellipse cx="70.00" cy="603.65" rx="1.62" ry="2.34" fill="#606060" opacity="0.4"/>
<ellipse cx="70.00" cy="606.32" rx="2.11" ry="0.84" fill="#505050" opacity="0.35"/>
<g filter="url(#bl)">
<ellipse cx="70.00" cy="607.32" rx="2.18" ry="2.00" fill="#2a26ea"/>
<ellipse cx="70.31" cy="617.34" rx="5.93" ry="10.02" fill="#2a26ea"/>
<ellipse cx="70.31" cy="617.34" rx="5.45" ry="9.22" fill="#35e0ee"/>
<ellipse cx="70.31" cy="617.34" rx="5.16" ry="8.72" fill="#48e048"/>
<ellipse cx="70.31" cy="617.34" rx="4.92" ry="8.32" fill="#f2ee22"/>
<ellipse cx="70.31" cy="617.34" rx="4.68" ry="7.92" fill="#e82018"/>
</g>
<rect x="79.70" y="597.30" width="15.90" height="33.40" fill="#040404"/>
<text x="87.65" y="618.26" font-size="7.2" text-anchor="middle" fill="#d0d0d0" stroke="#d0d0d0" stroke-width="0.06" textLength="12.8" lengthAdjust="spacingAndGlyphs">N/A</text>
<text x="22.10" y="580.18" font-size="6.7" text-anchor="middle" fill="#1a1a1a" textLength="20" lengthAdjust="spacingAndGlyphs">anti-IL-2</text>
<text x="22.10" y="586.78" font-size="6.7" text-anchor="middle" fill="#1a1a1a" textLength="30.8" lengthAdjust="spacingAndGlyphs">(JES6-1A12)</text>
<text x="24.00" y="617.88" font-size="6.7" text-anchor="middle" fill="#1a1a1a" textLength="25.7" lengthAdjust="spacingAndGlyphs">Tacrolimus</text>
<text x="51.90" y="640.49" font-size="7.0" text-anchor="middle" fill="#1a1a1a" textLength="6.6" lengthAdjust="spacingAndGlyphs">d3</text>
<text x="69.40" y="640.49" font-size="7.0" text-anchor="middle" fill="#1a1a1a" textLength="6.6" lengthAdjust="spacingAndGlyphs">d6</text>
<text x="87.25" y="640.49" font-size="7.0" text-anchor="middle" fill="#1a1a1a" textLength="6.6" lengthAdjust="spacingAndGlyphs">d9</text>
<text x="106.00" y="640.49" font-size="7.0" text-anchor="middle" fill="#1a1a1a" textLength="9.8" lengthAdjust="spacingAndGlyphs">d12</text>
<text x="123.50" y="640.49" font-size="7.0" text-anchor="middle" fill="#1a1a1a" textLength="9.8" lengthAdjust="spacingAndGlyphs">d17</text>
<text x="141.90" y="640.49" font-size="7.0" text-anchor="middle" fill="#1a1a1a" textLength="9.8" lengthAdjust="spacingAndGlyphs">d25</text>
<text x="159.40" y="640.49" font-size="7.0" text-anchor="middle" fill="#1a1a1a" textLength="9.8" lengthAdjust="spacingAndGlyphs">d30</text>
<line x1="46.20" y1="643.30" x2="168.70" y2="643.30" stroke="#333" stroke-width="1.2"/>
<text x="107.25" y="650.91" font-size="6.8" text-anchor="middle" fill="#1a1a1a" textLength="37" lengthAdjust="spacingAndGlyphs">Days post HCT</text>
<text x="46.7" y="550.7" font-size="8.2" fill="#111" textLength="119.8" lengthAdjust="spacingAndGlyphs">1.25X10<tspan font-size="5" dy="-3.1">6</tspan><tspan dy="3.1"> splenocyte+10X10</tspan><tspan font-size="5" dy="-3.1">6</tspan><tspan dy="3.1"> Bcl-1</tspan></text>
<line x1="45.40" y1="556.00" x2="168.70" y2="556.00" stroke="#222" stroke-width="1.0"/>
<rect x="169.20" y="242.80" width="11.20" height="65.20" fill="url(#cgE)"/>
<polygon points="169.20,304.00 171.40,308.00 169.20,308.00" fill="#fff"/>
<line x1="169.20" y1="240.40" x2="184.40" y2="240.40" stroke="#555" stroke-width="0.4"/>
<line x1="169.20" y1="308.60" x2="184.40" y2="308.60" stroke="#555" stroke-width="0.4"/>
<text x="174.80" y="256.19" font-size="3" font-weight="bold" text-anchor="middle" fill="#111">8.0e7</text>
<text x="174.80" y="269.55" font-size="3" font-weight="bold" text-anchor="middle" fill="#111">4.3e7</text>
<text x="174.80" y="282.92" font-size="3" font-weight="bold" text-anchor="middle" fill="#111">9.8e6</text>
<text x="174.80" y="296.61" font-size="3" font-weight="bold" text-anchor="middle" fill="#111">5.0e6</text>
<rect x="180.40" y="239.20" width="1.90" height="69.60" fill="#a8a8a8"/>
<rect x="182.30" y="239.20" width="2.30" height="69.60" fill="#111"/>
<rect x="169.20" y="311.20" width="7.80" height="4.20" fill="#8a8a8a"/>
<rect x="177.00" y="311.20" width="7.20" height="4.20" fill="#050505"/>
<rect x="168.70" y="435.00" width="11.30" height="66.60" fill="url(#cgE)"/>
<polygon points="168.70,497.60 170.90,501.60 168.70,501.60" fill="#fff"/>
<line x1="168.70" y1="432.60" x2="181.00" y2="432.60" stroke="#555" stroke-width="0.4"/>
<line x1="168.70" y1="502.20" x2="181.00" y2="502.20" stroke="#555" stroke-width="0.4"/>
<text x="174.35" y="448.65" font-size="3" font-weight="bold" text-anchor="middle" fill="#111">8.0e7</text>
<text x="174.35" y="462.31" font-size="3" font-weight="bold" text-anchor="middle" fill="#111">4.3e7</text>
<text x="174.35" y="475.96" font-size="3" font-weight="bold" text-anchor="middle" fill="#111">9.8e6</text>
<text x="174.35" y="489.95" font-size="3" font-weight="bold" text-anchor="middle" fill="#111">5.0e6</text>
<rect x="166.30" y="562.80" width="10.70" height="65.40" fill="url(#cgG)"/>
<polygon points="166.30,624.20 168.50,628.20 166.30,628.20" fill="#fff"/>
<line x1="166.30" y1="560.40" x2="178.00" y2="560.40" stroke="#555" stroke-width="0.4"/>
<line x1="166.30" y1="628.80" x2="178.00" y2="628.80" stroke="#555" stroke-width="0.4"/>
<text x="171.65" y="576.23" font-size="3" font-weight="bold" text-anchor="middle" fill="#111">8.0e7</text>
<text x="171.65" y="589.63" font-size="3" font-weight="bold" text-anchor="middle" fill="#111">4.3e7</text>
<text x="171.65" y="603.04" font-size="3" font-weight="bold" text-anchor="middle" fill="#111">9.8e6</text>
<text x="171.65" y="616.77" font-size="3" font-weight="bold" text-anchor="middle" fill="#111">5.0e6</text>
<rect x="0.6" y="0.6" width="518.8" height="666.8" fill="none" stroke="#000" stroke-width="1.2"/>
</svg>
</body></html>
